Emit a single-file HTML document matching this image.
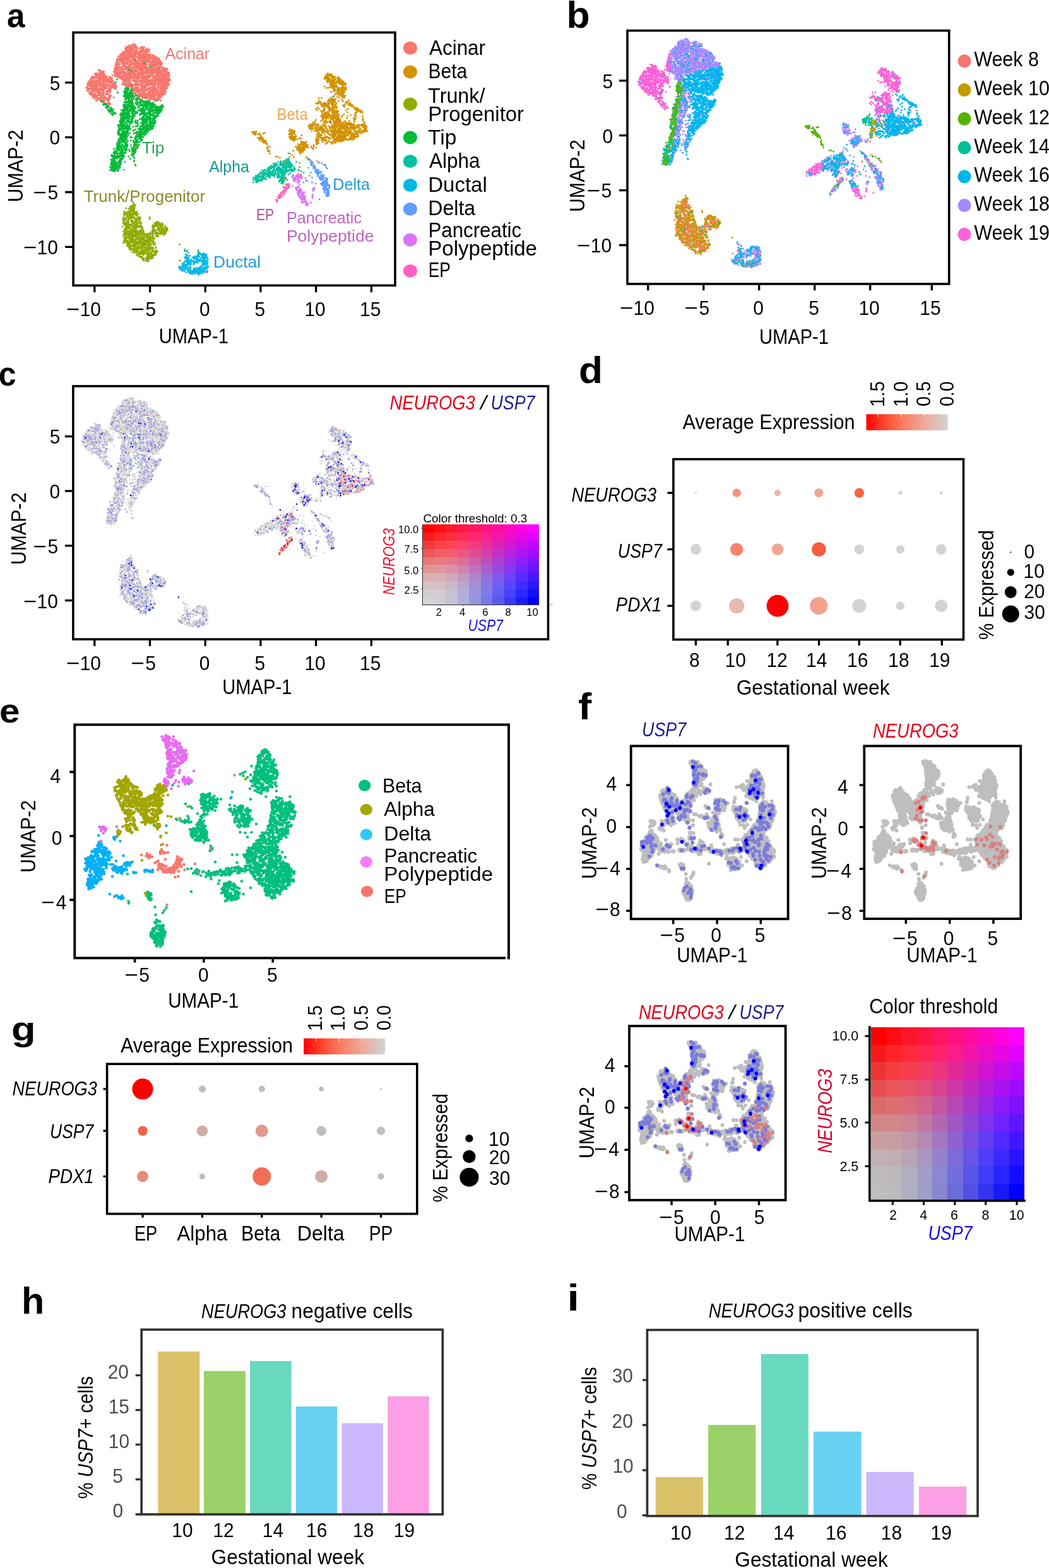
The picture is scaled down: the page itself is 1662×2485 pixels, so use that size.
<!DOCTYPE html>
<html lang="en"><head><meta charset="utf-8"><title>Figure</title>
<style>
html,body{margin:0;padding:0;background:#fff}
svg{display:block}
text{font-family:"Liberation Sans",sans-serif;white-space:pre}
</style></head><body>
<svg width="1662" height="2485" viewBox="0 0 1662 2485">
<rect width="1662" height="2485" fill="#fff"/>
<defs><path id="q0" d="M185 96h0m0-0.5h0m0.5 1.5h0m0.5-4h0m0 4h0m0-1.5h0m0 0h0m0-2h0m-2.5 6h0m1 2h0m0-1.5h0m1-1h0m0 2.5h0m0.5-1h0m0 1h0m0-2.5h0m-3.5 4.5h0m0 0.5h0m2 0.5h0m0.5-1.5h0m0 3h0m1 1.5h0m0-2h0m1-0.5h0m-31 6h0m1.5 0.5h0m1 0.5h0m1 0.5h0m22-4.5h0m0 4h0m0.5-2h0m0 2.5h0m0-5h0m0 0.5h0m0 3.5h0m0.5-2.5h0m0-1.5h0m0.5 1.5h0m0.5-1.5h0m0 3h0m0.5-1h0m0 1.5h0m0.5-0.5h0m0-1h0m0.5-1h0m0.5 2h0m1 0h0m-36.5 6.5h0m1.5-0.5h0m2 0.5h0m0-1h0m3 1h0m0 0.5h0m1.5-3.5h0m0 2.5h0m1.5-2h0m0.5 0.5h0m0 1.5h0m0-3.5h0m0 2h0m0.5-0.5h0m0.5 3h0m0-0.5h0m1-2.5h0m0 0.5h0m1.5-2h0m0 4h0m0.5-2h0m0-1h0m1 0h0m15 0h0m2.5 2h0m0-1h0m0-2h0m0.5 4.5h0m0-3h0m0.5 0h0m0 2.5h0m0.5-3.5h0m0 0h0m0.5 1h0m0.5 1h0m0 1h0m0.5 0h0m0-2h0m0.5-0.5h0m0 1.5h0m0.5 1h0m0 0.5h0m0.5-0.5h0m66.5 0.5h0m-108 5h0m1.5-1h0m2 1h0m0.5 0.5h0m1.5-4.5h0m0.5 4h0m0.5-4h0m0 1.5h0m0 0.5h0m0-2.5h0m0.5 0.5h0m0.5 0h0m0 0h0m0 1h0m0.5 0h0m0.5 2.5h0m0-4h0m0.5 0.5h0m0.5-0.5h0m0.5 1h0m0.5 2.5h0m0-1.5h0m0-1.5h0m1 1h0m0-0.5h0m0 2.5h0m0-1.5h0m0-1.5h0m0 2.5h0m1-2h0m0 2.5h0m0 0.5h0m0 1h0m0-4.5h0m0 2h0m0.5-0.5h0m0.5 1h0m0-3h0m0 5h0m0.5 0h0m1 0h0m0 0h0m0-2h0m0.5-2.5h0m0 1h0m0 2h0m0.5-3h0m1.5 4h0m0-3h0m0.5 1.5h0m1 1.5h0m1-4.5h0m0 4.5h0m0-1h0m1-1h0m2.5 1h0m3.5 0.5h0m2 0.5h0m3.5-3h0m3.5-1h0m0 2.5h0m0.5-2h0m0.5 2.5h0m1.5-0.5h0m0-3h0m1 2.5h0m0-1h0m0.5-1h0m0 2h0m1-1h0m0 3.5h0m0-0.5h0m0.5-1.5h0m66.5-1.5h0m-110.5 7.5h0m1-1h0m0.5-1.5h0m0.5 2h0m0 1.5h0m0.5-4.5h0m0.5 1.5h0m1-1h0m0-1h0m1 0h0m0.5 0.5h0m0 1h0m0.5 2h0m0 1h0m3-3h0m0.5 0h0m0 0h0m1-0.5h0m0.5-0.5h0m0.5 0h0m1 0h0m0.5 3h0m0.5-2h0m0-1h0m0 4.5h0m0-3.5h0m0.5 3.5h0m0.5-1h0m0.5-2.5h0m1.5 0h0m0 1.5h0m0.5-1h0m0 3h0m0 0h0m1-5h0m1.5 3.5h0m0.5-1.5h0m0 2h0m1-2h0m0.5 1h0m1 0.5h0m0.5-1h0m1.5-2.5h0m0.5 4.5h0m0.5-3h0m0-1h0m0.5 0h0m0 0.5h0m0.5 2.5h0m0-1.5h0m0 1.5h0m2 0.5h0m0.5-1h0m0.5 2h0m0-0.5h0m0.5-0.5h0m1-0.5h0m0.5-1.5h0m0-1.5h0m0 0.5h0m0.5 4h0m0-4h0m0.5 2h0m1.5-2.5h0m0.5 2h0m64.5-2h0m15.5 1h0m-118.5 7.5h0m1.5-2.5h0m0.5 3.5h0m0.5-1h0m1.5 0h0m0.5 1h0m0-2.5h0m0 1.5h0m0-3h0m0.5 0h0m0 0h0m0 1h0m0.5 1.5h0m0-3.5h0m0 2h0m0.5 2h0m2-2h0m0 2.5h0m0.5-1h0m0-1h0m0.5-2h0m0.5 3.5h0m0-0.5h0m0.5-2.5h0m0 2h0m0.5 1h0m0.5-3h0m0.5 0h0m1 1.5h0m1-1.5h0m0.5-1h0m0 2h0m0 1h0m0.5 1h0m0.5-1.5h0m0.5-1.5h0m1 0h0m1 1.5h0m0 2.5h0m0.5 0h0m0-2h0m1 1.5h0m1-2.5h0m0 1h0m0.5 0h0m2.5 0.5h0m0.5 0h0m0.5-2.5h0m0.5 0.5h0m0 1.5h0m0.5-0.5h0m0.5 1h0m0-1.5h0m0-1.5h0m0.5 0.5h0m0.5 3.5h0m0.5-4h0m0.5 2.5h0m0 0h0m1-2h0m0.5 0.5h0m2 0.5h0m0 0.5h0m0.5 0.5h0m0-1.5h0m0 2h0m1-0.5h0m0.5-2.5h0m0 1h0m0.5-1.5h0m0.5 3h0m0 0.5h0m0-3h0m0.5 2.5h0m0.5-2h0m0 1.5h0m1 1.5h0m0 1h0m0-5h0m0 4h0m0.5-3.5h0m1 1h0m0 2h0m0-3.5h0m0.5 2h0m1 2.5h0m0.5-4h0m1 4h0m1-1.5h0m0 0.5h0m0 0.5h0m37-0.5h0m6-2.5h0m29 0.5h0m5.5-1h0m-119.5 6.5h0m0.5 0h0m0 1.5h0m0-1.5h0m0.5 0h0m1.5-1.5h0m1.5 0.5h0m0-0.5h0m0.5 1.5h0m1.5 1.5h0m0.5 0.5h0m0-4h0m0.5 3h0m0 1.5h0m0.5-2h0m1 2.5h0m0-0.5h0m1-2h0m1-0.5h0m0.5 0.5h0m0.5 2h0m0.5-3.5h0m0 1.5h0m0.5 0h0m0 1.5h0m0.5 0.5h0m1-3.5h0m0 3.5h0m0.5-1h0m0.5 0h0m0-3.5h0m0 2.5h0m0.5 2h0m0.5-1.5h0m0-2h0m1 2.5h0m0.5-3.5h0m1.5 3h0m0-1h0m0.5 1h0m1.5-0.5h0m0.5-2h0m0 0h0m1 4h0m0 0h0m0.5-1.5h0m0 2h0m0-2.5h0m0.5 1h0m0.5 1.5h0m1-5h0m0.5 3h0m0-2h0m0 0.5h0m0.5 3h0m0-3h0m0 0.5h0m0.5-0.5h0m0.5 0h0m1.5 3h0m0.5-2.5h0m0 2h0m0.5 1h0m0-3h0m1-1h0m1.5 1h0m0 3h0m1-2.5h0m0.5 1h0m0-1.5h0m0.5 0.5h0m0 0.5h0m0 1h0m0.5-0.5h0m0.5 0h0m1-0.5h0m1 1h0m0.5 0h0m0.5 0h0m1-1.5h0m1 0.5h0m0.5-1h0m0 2h0m0-0.5h0m0-1h0m0.5 1.5h0m1-3h0m0.5 3.5h0m1-0.5h0m0.5 0h0m0-1.5h0m0.5 2.5h0m0-4h0m0.5 2.5h0m0-1.5h0m0.5 2h0m44-0.5h0m34.5-3h0m1.5 3h0m-127.5 2.5h0m1.5 1.5h0m1 2.5h0m0-3.5h0m1 1h0m0.5 1.5h0m1 0.5h0m0.5-2h0m1.5-2.5h0m0 2.5h0m0.5 0h0m0-2h0m0 1.5h0m0.5 0h0m0 0h0m0 1h0m0.5-1h0m0 2.5h0m0-4h0m0.5 4h0m0-3h0m1-0.5h0m0 2.5h0m1.5-3h0m0 0.5h0m0 3.5h0m0.5-2.5h0m0-1.5h0m1 0.5h0m0-0.5h0m0.5 3h0m0.5-1h0m0-2h0m0.5 2.5h0m1-0.5h0m0 2h0m0.5-1h0m0 1h0m1-4h0m0.5 2h0m0 1.5h0m1 0h0m1.5-1.5h0m0.5 1h0m0.5-1h0m0.5 0h0m0-1h0m1.5 3h0m0.5 0h0m0 0h0m0-2.5h0m0.5 2.5h0m1-4.5h0m0.5 0.5h0m0-0.5h0m0 1h0m0.5 2h0m1.5 0.5h0m0.5 1h0m0 0h0m0.5-3h0m0.5 2h0m1.5-1.5h0m0 1h0m1.5-0.5h0m3 1h0m0 0h0m0.5-1h0m0.5-0.5h0m0.5 1h0m0.5 1.5h0m2-3.5h0m0 3h0m0.5-2h0m1-1h0m0.5 0h0m0 0.5h0m2 0h0m1 0h0m1 1h0m1-1h0m1 2.5h0m1-3.5h0m-46.5 6h0m3 0.5h0m0.5 1h0m0.5 0h0m0.5 2h0m0-1h0m2 1h0m1-3.5h0m0 1.5h0m0.5-1h0m0 0h0m0 0h0m1.5 0h0m0-0.5h0m1-1h0m0.5 2h0m0-2h0m2.5 1.5h0m0.5-1.5h0m0 1.5h0m0.5-2h0m0.5 0.5h0m0 3h0m0.5-1.5h0m0.5 0.5h0m1-2h0m0 1.5h0m0.5 0.5h0m0 0h0m0.5 2h0m0-1h0m0-0.5h0m0 0h0m0-3h0m1.5 1.5h0m0-0.5h0m0.5 4h0m0.5-2.5h0m0 1.5h0m0.5-3.5h0m0.5 4h0m0.5-4.5h0m1.5 0.5h0m0 0h0m1 4.5h0m0-4h0m0.5 1h0m0 2.5h0m0-3h0m1 3h0m0 0h0m0.5 0.5h0m0-2.5h0m4 0h0m0.5 1h0m0-1.5h0m1.5 2h0m0-2h0m0.5 0.5h0m0 2.5h0m0.5-3.5h0m1-1.5h0m0.5 1h0m0.5 2.5h0m0.5-2h0m0.5-1h0m1 2.5h0m10.5 1h0m36.5-4h0m20 0.5h0m4 1h0m12-1h0m4 3h0m-121 2h0m0.5-0.5h0m0 1h0m1-1h0m1 3.5h0m0-1h0m0-1h0m2-1.5h0m0 0h0m0.5 3h0m0.5-2.5h0m0 2.5h0m0.5-1h0m0-0.5h0m0.5 3.5h0m0.5-1h0m1.5 0.5h0m0-3h0m1-1h0m0 4.5h0m0.5-2h0m1.5 1h0m0 0.5h0m1.5 0h0m0.5-4h0m0.5 2h0m0-1h0m0 0.5h0m0.5-0.5h0m0.5 2.5h0m0.5-0.5h0m0.5-3.5h0m0.5 3.5h0m1.5-0.5h0m0-2.5h0m0 0h0m0.5 4h0m0.5-3h0m0.5 3h0m0-4h0m1.5 4h0m0.5-1h0m0 0.5h0m0.5-3h0m0.5 0.5h0m0 0h0m0 2h0m0.5 0.5h0m0.5-3.5h0m2.5 1.5h0m1 0h0m1 0h0m0.5-1h0m0.5-0.5h0m0-0.5h0m0 2h0m2.5 0.5h0m0.5 1.5h0m0 0h0m0.5-0.5h0m1.5 0.5h0m0.5 0h0m-29.5 2.5h0m1-1.5h0m0.5 2.5h0m2-2h0m0.5 4h0m1.5-2.5h0m0.5 1h0m0.5-1h0m0.5-2h0m0 1h0m0.5 2.5h0m0.5 0h0m0 0h0m1-0.5h0m0.5 0.5h0m0.5 1.5h0m2-1.5h0m0-1.5h0m2.5-2h0m0 3h0m0-0.5h0m1.5 0h0m2 0h0m0 2.5h0m0.5-5h0m0.5 2h0m0-1h0m0-0.5h0m1 2h0m0.5-2h0m0 1.5h0m0 1.5h0m1 0.5h0m1.5 0h0m0.5-1h0m1 1h0m0.5-0.5h0m0-1h0m0.5-1h0m0 3.5h0m0.5-2h0m1 1.5h0m0-2.5h0m0 3h0m0-3.5h0m0.5-1h0m0.5 1.5h0m0-1.5h0m0.5 0h0m5 1.5h0m50-2h0m7 0.5h0m-84.5 7h0m1-1h0m1-1.5h0m2 0.5h0m2-0.5h0m1 1.5h0m0 0h0m1-1.5h0m0 1h0m0.5-1h0m0 1h0m0.5 2.5h0m0-3.5h0m1 2.5h0m0.5 0.5h0m0 1.5h0m2-2.5h0m0 2.5h0m0.5-2.5h0m3-1.5h0m2 2h0m0-1h0m0-0.5h0m1.5 4h0m0.5-3.5h0m1-1.5h0m-7.5 6h0m2 1h0m1 0.5h0m1-0.5h0m0.5-1h0m0.5 1.5h0m0.5 0.5h0m0-0.5h0m0.5 0.5h0m0 0h0m0.5-0.5h0m0.5-2h0m0.5 0.5h0m1 1.5h0m0-1h0"/></defs>
<defs><path id="q1" d="M204.5 72h0m4-0.5h0m1.5 0h0m0.5 0h0m0.5-0.5h0m1-1.5h0m0.5 3h0m0.5-1h0m1.5-0.5h0m-16 6h0m0.5 0h0m1-2.5h0m0.5 2h0m0.5-2h0m0.5-0.5h0m0 2.5h0m0.5 0h0m1-2.5h0m0 0.5h0m1.5 0.5h0m0-0.5h0m0.5 2.5h0m0-2.5h0m0.5-0.5h0m0-1h0m0.5 3h0m0-1h0m0.5-1.5h0m0.5 0.5h0m0 2h0m0.5 0.5h0m0.5-1.5h0m0.5-0.5h0m0.5 2.5h0m0.5-2.5h0m0 1.5h0m0.5 0h0m0.5 1.5h0m1-0.5h0m1-4h0m1 1h0m0 1.5h0m2-0.5h0m0-0.5h0m0 2.5h0m0-3.5h0m0.5 3h0m1-1.5h0m2 2.5h0m2.5-1.5h0m2.5 1h0m0-2h0m1.5-1h0m1 1.5h0m0.5 2h0m1-1.5h0m0.5-1h0m3.5 2h0m-37 5h0m3.5-3h0m0.5 2.5h0m0.5-0.5h0m0.5-0.5h0m0.5 1h0m0-3.5h0m0 0.5h0m1.5 3h0m0.5-1.5h0m0-1.5h0m1 3.5h0m1.5-3.5h0m0 4h0m0.5-2.5h0m0.5-1.5h0m0.5 0.5h0m0-1h0m1 3h0m0-1.5h0m0 2h0m0.5 0.5h0m0.5-2.5h0m0 3h0m1.5-4.5h0m0.5 2h0m0.5-0.5h0m1.5 0.5h0m0.5 1h0m0-0.5h0m0.5 1h0m1-0.5h0m0-2h0m0.5 3h0m0.5-4h0m0.5 2h0m0.5 1.5h0m0-1.5h0m2 2h0m3.5 0h0m0.5-1h0m1.5-3h0m0 1h0m0.5 2.5h0m1.5-2h0m0-0.5h0m0 3.5h0m0.5-4h0m0.5 1.5h0m0.5-1h0m0.5 0.5h0m0 0h0m1.5 0.5h0m0.5 1h0m1.5-3h0m1 4h0m0.5-1.5h0m0-1.5h0m0.5 2h0m1-0.5h0m0-1.5h0m0.5-0.5h0m1.5 0h0m0 3.5h0m-46.5 5.5h0m0.5-0.5h0m1-1h0m0.5 1h0m1.5 0h0m0-2.5h0m1 2.5h0m1-1.5h0m0 1.5h0m0-2h0m0.5-2h0m1 3h0m0.5-3h0m0.5 0h0m0.5 2h0m0 0.5h0m0 0h0m0.5-1h0m0.5-0.5h0m0.5-1h0m1 0h0m0.5 1.5h0m0-0.5h0m0.5 1h0m0 2h0m1-4h0m0 1h0m0.5 0h0m0 1h0m1 1h0m0.5-1.5h0m0.5 0.5h0m0.5 0.5h0m1-2.5h0m0.5 0.5h0m0.5 2.5h0m0.5 0h0m0.5-2h0m0.5 3.5h0m0-4.5h0m0.5 2h0m0 1.5h0m0.5-2h0m0 0.5h0m0.5 1h0m0-2h0m1.5 2h0m0-1h0m1-1h0m0 0h0m0 1h0m0.5 1.5h0m1.5-1.5h0m0-2.5h0m0 1.5h0m0.5-0.5h0m1.5-0.5h0m0 0.5h0m0.5 1.5h0m1.5-1h0m0 3h0m0.5-1h0m0-1.5h0m0 3h0m0.5-4h0m0.5 3.5h0m0-3h0m0-1h0m0.5 3h0m0.5-3h0m0 4.5h0m0-0.5h0m0-3.5h0m0.5 2h0m0-1.5h0m1-1.5h0m0 0.5h0m1.5 3.5h0m1 0h0m1-3.5h0m0 2.5h0m0.5 0.5h0m0 1h0m0.5-3.5h0m0 2h0m0-1.5h0m0 2.5h0m0.5-3.5h0m0 4h0m0-3.5h0m1-0.5h0m0-0.5h0m1 0.5h0m0 0.5h0m0.5 3.5h0m0-3h0m1 0.5h0m0.5 2h0m0-3h0m0.5 3.5h0m1 0.5h0m0.5-1.5h0m2.5 0.5h0m1-0.5h0m3 1h0m-54 2.5h0m2.5 2h0m0-1.5h0m0.5-1h0m0 1h0m0 2h0m0-1.5h0m0.5 1.5h0m0.5-1h0m0.5 0h0m0.5 0h0m0 0.5h0m1-4h0m0 3.5h0m1-2.5h0m0 3h0m0.5-2.5h0m0 0.5h0m0.5 2.5h0m0-1.5h0m1 2h0m1.5-2.5h0m0-1h0m0.5-0.5h0m0 0h0m1 2h0m0.5 1.5h0m0-3.5h0m0.5 1.5h0m0-1h0m0 3h0m0.5-0.5h0m0-3h0m0 3.5h0m0-1.5h0m1 0.5h0m0-0.5h0m1.5 0h0m0 1.5h0m0-4.5h0m1 1.5h0m0 2h0m0.5 1h0m0-3h0m0.5 0.5h0m0-1h0m1 3.5h0m0-4h0m0.5 3h0m0.5 1h0m0-1h0m0.5-2h0m1-1h0m0 0.5h0m0 1h0m0.5 1.5h0m0.5 0.5h0m0-3.5h0m1 1.5h0m0 2h0m0 0h0m0.5-0.5h0m0-1h0m0.5 1h0m0.5-2.5h0m0 0.5h0m0.5 3h0m0-4h0m0.5 3h0m0 1h0m1-1.5h0m1-1.5h0m0.5-1h0m1.5 2.5h0m0.5 1h0m0.5-0.5h0m1-1.5h0m0 1h0m1-3h0m0.5 5h0m0.5-0.5h0m0-0.5h0m0.5-4h0m0.5 3h0m0-2.5h0m0 4.5h0m0.5-3.5h0m0 3.5h0m0-2h0m0 0.5h0m0.5-1.5h0m0 1.5h0m1-0.5h0m1-2h0m0 3.5h0m0-0.5h0m2-1h0m0 0.5h0m0-2h0m0.5 3h0m0-2h0m0 0.5h0m0-1h0m0.5 0h0m1.5-0.5h0m0 2h0m0.5 1h0m1-0.5h0m0-0.5h0m0-1.5h0m1 2.5h0m0-2h0m0.5 1.5h0m0-1.5h0m0.5 2h0m2-1h0m0-2.5h0m0 1h0m1.5 2h0m0.5-4h0m0.5 0.5h0m0.5 2.5h0m0 1h0m1-2.5h0m0.5 0.5h0m0 2h0m0.5-0.5h0m1 0h0m1 1h0m0.5-3.5h0m1 2.5h0m0.5-2.5h0m0.5 0h0m0.5 3h0m0-1.5h0m0 0h0m0 0.5h0m0 2h0m1.5 0h0m0.5-1h0m0.5 0.5h0m0.5-1.5h0m3 1.5h0m0 0.5h0m-62.5 1.5h0m0 0h0m0-0.5h0m0.5 0h0m0 3h0m0.5 1h0m0.5-0.5h0m0.5-3h0m0 1.5h0m0.5-2.5h0m0.5 4.5h0m0-3h0m0 3h0m0.5-3h0m0.5-0.5h0m0.5 0h0m0.5-0.5h0m0 2h0m0-2h0m0.5 4h0m0-3.5h0m0 3h0m0.5-3h0m0-0.5h0m0 1h0m0.5 2h0m0.5-4h0m0 0.5h0m0-0.5h0m0 2.5h0m0.5 1.5h0m0-3.5h0m0.5 1h0m0-0.5h0m0.5 2h0m0-3h0m0.5 2h0m0.5-1h0m0 1.5h0m1 0.5h0m1-2h0m1 1h0m0-1h0m0.5-0.5h0m0.5 1.5h0m0-0.5h0m0.5-1.5h0m0.5 0.5h0m0.5 4h0m0-4h0m0 1h0m0-0.5h0m0.5 1h0m0 0.5h0m0.5-2h0m0 1.5h0m0-1.5h0m0 0.5h0m0.5 0h0m0.5 3.5h0m2.5-1h0m0 1.5h0m0.5-0.5h0m1.5-2.5h0m0-0.5h0m0 1.5h0m0.5-1.5h0m1-0.5h0m1 2.5h0m0.5-0.5h0m0-2.5h0m0.5 4h0m0-2h0m0.5-2.5h0m2.5 4.5h0m1.5 0h0m0.5-1h0m0.5-0.5h0m0.5 0.5h0m0-3.5h0m1.5 2.5h0m0.5 0.5h0m1-1h0m2 0.5h0m0.5 1h0m0-1h0m0.5 0h0m0.5-2h0m0 2h0m0.5-1.5h0m0 0h0m0.5 3h0m0.5 0h0m0.5-3h0m0 1.5h0m0.5 2.5h0m1-0.5h0m0-2.5h0m0.5 0h0m1.5 3h0m0-2h0m1-0.5h0m0.5 1.5h0m0 0.5h0m0.5-3h0m0-0.5h0m0.5 0.5h0m0 1.5h0m0-1h0m0.5-0.5h0m1 0.5h0m0 1.5h0m1 1h0m0 0.5h0m0.5-1h0m0.5-2.5h0m0 3h0m0 0h0m0-3.5h0m0.5 4h0m0.5 0h0m0-0.5h0m0 0.5h0m2-4.5h0m0.5 1h0m0 0.5h0m0.5 2h0m0-3h0m0.5 0h0m1 3.5h0m0-4h0m0 4h0m0.5-3h0m0-1h0m1 3h0m0.5-2.5h0m0 2h0m0.5 1.5h0m0.5-3h0m0-1h0m0.5 1h0m1.5-1h0m0 3.5h0m2-2h0m0 1.5h0m1-0.5h0m0.5-2.5h0m0 0.5h0m1.5 1.5h0m0.5 1h0m-65.5 5h0m0.5-1h0m0 1h0m0.5 1h0m1 0.5h0m2.5-2h0m0.5-2h0m1.5 3h0m0.5 0.5h0m0.5-2h0m0-1.5h0m0.5 3.5h0m0-2h0m0-1h0m0.5-1.5h0m1 2h0m0-0.5h0m0.5-1h0m0 3h0m0.5-0.5h0m0 1h0m0.5 0h0m0.5-0.5h0m0.5 0h0m0.5-2.5h0m0 2h0m1-0.5h0m0-2h0m0.5-0.5h0m0 4h0m1-2h0m0.5-0.5h0m2 3h0m1.5 0h0m0-3h0m0 0.5h0m0.5 2h0m1 1h0m0-2h0m0 1.5h0m1.5-1h0m0 1h0m1-3h0m0.5-0.5h0m0 1.5h0m0 1.5h0m2-0.5h0m0-0.5h0m0.5-2.5h0m0 2h0m0 0h0m0.5-2h0m1 2h0m0.5-2h0m0.5 3h0m0.5 0h0m0 1h0m0-2.5h0m1 2h0m0.5-1.5h0m0.5 1.5h0m0-1h0m0-1h0m0 1.5h0m2-2h0m0 1.5h0m0.5-1h0m0.5 0h0m0 1.5h0m0-2h0m0.5 1.5h0m1-2.5h0m1 3h0m0.5 0h0m1-1.5h0m0.5-1.5h0m0.5 3.5h0m0 0h0m0-2h0m1.5 3h0m0-0.5h0m0.5-2h0m1-1h0m0 3.5h0m1.5-3h0m0 2.5h0m1-3.5h0m1.5-1h0m1 2h0m3 2.5h0m0 0.5h0m0-0.5h0m0.5-3.5h0m0 3.5h0m1-2.5h0m0.5 2h0m0-3h0m1 0h0m1 0.5h0m1 0h0m0 3h0m0 0h0m0-3h0m1.5 1.5h0m0.5-2.5h0m0 3h0m0.5 1h0m0.5-1h0m0.5-1h0m0-1h0m0.5 1h0m0 0h0m1-0.5h0m0 1h0m0.5 1.5h0m0.5-3h0m0-1h0m0 1h0m1 2.5h0m0 0.5h0m0-0.5h0m0-3h0m1 3.5h0m0-2.5h0m1-1.5h0m0 0.5h0m0.5-0.5h0m0 3h0m0.5-1.5h0m1-0.5h0m0 1h0m0.5-2h0m1.5 3.5h0m0-2.5h0m0.5 2h0m0-1h0m-69 3.5h0m0 2h0m1 1h0m0.5 1h0m1-1h0m2 0.5h0m1.5-2h0m0.5 2h0m0 0.5h0m2-4h0m0-0.5h0m0.5 0.5h0m0 1.5h0m1-2h0m0.5 1h0m0 3h0m1-0.5h0m0-0.5h0m0-1h0m1 1.5h0m0.5 0.5h0m1.5 0.5h0m0.5-2.5h0m1 2.5h0m0.5-3h0m0.5-1.5h0m0.5 0.5h0m0 2.5h0m0.5 1h0m0-1.5h0m0 0.5h0m0-3.5h0m1 1.5h0m0.5 2.5h0m1-3h0m0.5 3.5h0m0-4.5h0m2 4h0m0-0.5h0m0.5 0.5h0m1-0.5h0m1-3h0m0.5-0.5h0m0.5 3.5h0m0.5-3.5h0m0 3h0m0.5 1.5h0m0.5-1.5h0m0.5-1h0m0 2h0m0.5 0.5h0m0.5-0.5h0m0.5-2.5h0m0 1h0m0.5-2h0m0 0h0m0.5 1h0m0-0.5h0m0.5 2.5h0m0 1.5h0m0.5-2h0m0-2.5h0m1.5-0.5h0m0.5 4h0m0.5-4h0m0.5 2h0m0-1h0m1.5 4h0m0-2.5h0m0.5-1.5h0m0.5 2h0m0-2.5h0m0.5 0.5h0m0 0.5h0m0 2.5h0m0.5-2h0m0 0.5h0m1.5-0.5h0m0 2.5h0m0-4.5h0m0.5 5h0m1-4.5h0m0 0.5h0m0-0.5h0m0.5 4h0m0-2h0m0.5 1.5h0m0-3.5h0m0 4.5h0m0.5-4.5h0m0 3.5h0m0 0h0m1 0h0m1-0.5h0m0 0.5h0m1-3.5h0m1 4.5h0m2-5h0m0.5 3h0m0 0.5h0m0-0.5h0m1-1.5h0m0.5 2.5h0m0-1h0m0.5-0.5h0m0-0.5h0m1 2h0m0.5-3h0m0.5 1h0m0 2.5h0m0.5-1.5h0m0 2h0m0.5-4.5h0m0.5 1.5h0m0 2h0m0-1.5h0m0.5 0.5h0m0 0h0m0-1.5h0m0.5 1.5h0m1-2h0m1-0.5h0m0 1.5h0m0.5 2.5h0m0.5-3.5h0m2.5 3.5h0m0-2.5h0m0 1h0m0.5 0.5h0m0-0.5h0m0.5 1.5h0m1.5-0.5h0m1.5 0.5h0m0.5-2h0m0.5 1.5h0m0-3h0m0.5-1h0m0.5 1.5h0m1-1.5h0m2.5 4.5h0m-71 2h0m1 3h0m0.5-4h0m1 3.5h0m0.5-4h0m0.5 4.5h0m1.5-3h0m0 0.5h0m1 0.5h0m0.5-1h0m1 1h0m0.5 2h0m2.5-2h0m0.5-1.5h0m0.5 1h0m1.5 1h0m0-2.5h0m0 1h0m0.5 1h0m0 0h0m0 0h0m0.5-2h0m0.5 0h0m0.5 4.5h0m0.5-3.5h0m1 0.5h0m0 1.5h0m0-2.5h0m0.5-0.5h0m0.5 3h0m1 0.5h0m0.5-1h0m0.5 2h0m0-2.5h0m0.5-0.5h0m0 2.5h0m0.5-4.5h0m1.5 1h0m0.5-0.5h0m0.5-0.5h0m0.5 1h0m0.5-0.5h0m0.5 4h0m0.5 0.5h0m0-3h0m0 0.5h0m0.5 1.5h0m0.5 0.5h0m1-2.5h0m0 1h0m0 0h0m0 0.5h0m0.5 1h0m0-2.5h0m0 1h0m0 2h0m0.5-3.5h0m1-1h0m0.5 1h0m0.5 0h0m0-1.5h0m1.5 0.5h0m0.5 3.5h0m0 0.5h0m0.5-4h0m0 0h0m0.5 3.5h0m0-3h0m1 1.5h0m0 1h0m0.5 0h0m0.5-3h0m1 2h0m0-2h0m0 2.5h0m0.5-2h0m0 3h0m0-1.5h0m0.5 0.5h0m1.5-2h0m0 2h0m1 0.5h0m0.5-2h0m0.5 3.5h0m0.5-4.5h0m1.5 0h0m0.5 2h0m1 1.5h0m0-2h0m0.5 2.5h0m0-4h0m0.5 0h0m0.5 3.5h0m0-3h0m0.5 1h0m0 2.5h0m0-3h0m0 0h0m0.5 1.5h0m1-1h0m0.5-0.5h0m1 3.5h0m1-2.5h0m0 1.5h0m1.5-3h0m0 0.5h0m0 3h0m0.5-1.5h0m0.5-2.5h0m0 1h0m0 1.5h0m1 0.5h0m0-1.5h0m0.5 1.5h0m0 1h0m1-3h0m0 3h0m0.5-2h0m0 1.5h0m0-3h0m0 3h0m0-3h0m0 2.5h0m0.5 1h0m0-2.5h0m0.5 1h0m0 1.5h0m0.5-0.5h0m1.5-1.5h0m0.5 0h0m1 0.5h0m0.5-0.5h0m0.5 0.5h0m0 0.5h0m0-1.5h0m0.5-1h0m0 1.5h0m0.5 2.5h0m0-4.5h0m0.5 0.5h0m0 1.5h0m1 2h0m1-3.5h0m0 1h0m0-1.5h0m0 1h0m0.5-1.5h0m0 4h0m0.5-0.5h0m0 1h0m0.5-1.5h0m0.5 2h0m0-0.5h0m0.5 0h0m1 0h0m0-4.5h0m1 0.5h0m0 0h0m0.5 1h0m0.5 2.5h0m0-1h0m0.5 0h0m0.5-1.5h0m0.5 0h0m1-0.5h0m0 0.5h0m0.5 2.5h0m0.5 0h0m1-2.5h0m1 1h0m0 0.5h0m0.5-2h0m0 0h0m0.5 3.5h0m0.5-2h0m0 1h0m0-1.5h0m-77 6h0m0.5-1.5h0m0 1h0m0.5 0.5h0m0.5-1.5h0m0 2h0m0.5-1.5h0m0.5 1h0m0.5 0h0m0.5 1h0m0-1h0m0-1.5h0m0 3.5h0m0 0h0m0.5-1h0m0-1.5h0m0.5-2h0m0 1.5h0m1 1h0m0-0.5h0m0.5-1h0m0 1h0m1-0.5h0m0.5 2h0m1.5-2.5h0m1 1.5h0m0.5 1h0m1.5 0h0m0-2.5h0m2.5 2h0m0.5-2.5h0m0.5 0.5h0m1.5 2.5h0m0.5-2.5h0m0.5 3h0m0-1h0m0 1h0m0-4.5h0m0.5 3h0m0.5 0h0m1 1h0m1-2h0m0-2h0m0.5 4h0m0-2.5h0m0-0.5h0m1 2h0m0.5-1.5h0m0 1h0m1 1h0m0 0.5h0m0-3.5h0m0 3.5h0m0.5-0.5h0m0.5-3h0m0.5 2.5h0m0.5-0.5h0m0.5 1.5h0m0.5-3h0m3 0.5h0m0 0h0m0 2h0m0.5-1.5h0m0 2h0m1-0.5h0m0.5 1h0m0-1.5h0m0.5 0h0m0 0h0m1.5 1.5h0m0.5-0.5h0m0-1h0m1-2h0m0 3h0m0-3h0m0.5 0h0m0.5 2.5h0m0 0.5h0m0.5-2.5h0m0 2h0m0-1h0m0.5 1h0m0-0.5h0m0 1h0m0.5-1.5h0m0.5 2h0m0-0.5h0m0.5-2h0m0-2h0m0 4h0m0.5-1h0m0-2h0m0.5 2h0m0 1.5h0m0-3h0m1 0h0m0-1.5h0m0.5 2.5h0m0-1.5h0m0.5-0.5h0m0.5 3h0m0.5 0h0m0.5 0.5h0m1 0.5h0m0-1h0m0-3.5h0m0.5 2h0m0.5 3h0m0.5-2.5h0m0 2h0m0-2h0m0.5 0h0m0 2h0m0.5-1.5h0m1-2.5h0m0-0.5h0m0.5 2.5h0m0.5-0.5h0m1 1h0m0 1.5h0m1 0.5h0m0.5-0.5h0m0.5 0.5h0m0-0.5h0m0.5-3h0m0.5 0.5h0m0 2h0m2 0.5h0m0-2.5h0m1 0.5h0m0 1.5h0m0.5-1.5h0m0 0.5h0m0.5 0.5h0m0-0.5h0m0-1.5h0m0.5 0.5h0m0 1h0m1-1h0m0 1h0m1-2.5h0m0 0h0m0 0h0m0.5 2.5h0m1-2h0m0.5 2h0m0 2h0m0.5-3h0m0-1.5h0m0.5 1.5h0m2 2h0m0.5 1h0m0.5-4.5h0m0.5 0h0m1 2h0m0.5-2.5h0m1 2.5h0m2-0.5h0m1-1h0m0.5 0.5h0m1-1h0m0 0h0m0.5 1h0m1.5-1h0m1 0h0m4 2h0m-80.5 5h0m0.5 0.5h0m0.5-1h0m0.5-0.5h0m0 0h0m0 1.5h0m0.5-1.5h0m0 0.5h0m0 2h0m1-2h0m0-2h0m1 3.5h0m1 1.5h0m1.5-1h0m0.5-3h0m0.5 3.5h0m0.5-3.5h0m0-0.5h0m0.5 2.5h0m0.5-2h0m0.5 1h0m0.5 2h0m0.5-2h0m1 2.5h0m0.5-1h0m1-3.5h0m0 1h0m1.5 2.5h0m0.5-3h0m0 4.5h0m0.5-4h0m0.5 3h0m0.5-3.5h0m0.5 2.5h0m0.5 0.5h0m0.5-1h0m0-2.5h0m0.5 3.5h0m0 1.5h0m0.5-3.5h0m0 3h0m0.5-2.5h0m0-1.5h0m0.5 3.5h0m0.5-2.5h0m0 3h0m0-1h0m0-2h0m0.5 0.5h0m2.5 0.5h0m0 0h0m1-2h0m0.5 3.5h0m0-1.5h0m0.5-1.5h0m0-0.5h0m0-0.5h0m0.5 4h0m1-2h0m0.5 1.5h0m0-1h0m0 1h0m0.5-1h0m0 2h0m0.5-2.5h0m0-1h0m0.5 1h0m0.5 0.5h0m0 0.5h0m1 1h0m1-3h0m0 3h0m0 0h0m0.5-1h0m1 1.5h0m0.5-1h0m0.5-3h0m0-0.5h0m0.5 2h0m0-2h0m0.5 5h0m0-4.5h0m0 0.5h0m0 0h0m2.5 3h0m0.5-2.5h0m0.5 0h0m0.5 0h0m0 3h0m0-1.5h0m0.5 0h0m0-3h0m0 2.5h0m1-0.5h0m0 2h0m0.5 1h0m1-2.5h0m0 1.5h0m2.5-1.5h0m0.5 1h0m0.5-1.5h0m1 0h0m1 1.5h0m1-0.5h0m1.5-1.5h0m0.5 3h0m0.5-3.5h0m1 0h0m0.5 1.5h0m1.5-0.5h0m0.5-1h0m0-1h0m0 0.5h0m5 3h0m0 0h0m1.5-3h0m0 4.5h0m1-5h0m0.5 0h0m1 0.5h0m1.5 3.5h0m7-2.5h0m1.5 0.5h0m5.5-1.5h0m1.5 3.5h0m-78.5 2h0m1 0.5h0m0-1h0m0 0h0m0 1h0m0-1.5h0m1.5 2h0m1.5-2h0m0 1.5h0m0.5 2h0m0-3.5h0m1 1h0m0.5 2h0m0-1h0m0 2h0m0.5-3.5h0m0 4h0m1.5-0.5h0m1.5-1.5h0m0.5-1.5h0m0-0.5h0m1 2.5h0m0 1.5h0m0.5-3.5h0m0.5 0.5h0m0-1h0m0 3h0m0.5 1.5h0m0.5-3h0m0.5-0.5h0m1 0h0m0 2.5h0m0.5 0h0m0.5 0h0m0.5-3h0m2 1.5h0m1-2h0m0 2h0m0.5-1.5h0m1.5-0.5h0m0.5-0.5h0m1 4.5h0m0-1h0m0.5 1h0m0-3h0m0.5 0.5h0m0.5-1h0m0 0.5h0m1 0.5h0m1-1h0m1 0.5h0m0.5-1h0m0 0.5h0m0.5-0.5h0m0 2h0m0-2.5h0m0 1.5h0m1-1h0m0.5 1.5h0m0.5-1.5h0m0 2.5h0m0-2.5h0m2 0h0m2.5 0h0m0.5 0.5h0m0-1h0m1.5 4h0m1-3.5h0m0.5 0.5h0m2.5 0h0m0 0.5h0m6.5-1h0m3 3.5h0m13.5 0h0m3 0.5h0m0-4.5h0m0.5 4h0m2.5-1h0m1-3h0m0.5 4h0m0-1.5h0m1.5-1h0m0.5 0h0m2-1.5h0m2.5 5h0m-72 2.5h0m2 0h0m0 1.5h0m1.5-1h0m0 1.5h0m0-3.5h0m0.5 3.5h0m0-4h0m1 1h0m1 3.5h0m0-4h0m2 3h0m0.5-2h0m0 3h0m1-4h0m0 2.5h0m2-0.5h0m0-2h0m0 4h0m0.5-3.5h0m7 1h0m0-2.5h0m1.5 2.5h0m1-0.5h0m4.5-1h0m3 0h0m1.5-0.5h0m1 4.5h0m2.5-2.5h0m1.5-0.5h0m4-0.5h0m2 3h0m1-0.5h0m3 0.5h0m3.5-2h0m2 0.5h0m4-3h0m2 0.5h0m0.5 4h0m2-1.5h0m2-1h0m1.5 1.5h0m1.5-0.5h0m2-2.5h0m2.5 3h0m1-3.5h0m1 2h0m-72 4h0m2.5 0.5h0m1-1h0m0 0.5h0m0.5 1h0m0.5-2h0m0 1.5h0m1 1.5h0m0-2.5h0m0 1h0m0.5-0.5h0m0.5 4h0m1-1h0m0.5-0.5h0m0.5 0.5h0m0.5-3h0m0 2.5h0m0 0.5h0m0.5 0.5h0m0.5-3h0m1 0.5h0m0 2.5h0m0.5-1.5h0m0-0.5h0m0 1h0m0-1.5h0m0.5 1.5h0m0-1.5h0m0 2h0m0.5-1.5h0m1-0.5h0m0-0.5h0m4 1.5h0m4.5-1h0m3 0.5h0m7.5 1.5h0m0 0h0m6-2.5h0m0.5 1.5h0m0-2h0m3.5 1.5h0m2.5-1.5h0m4.5-0.5h0m0 1h0m2 0h0m1.5 1h0m3.5-2.5h0m3.5 1.5h0m5.5 1.5h0m4.5-2.5h0m3 0.5h0m0 1.5h0m-65.5 4h0m1.5-1h0m0.5 0h0m0.5 0h0m0 2h0m0.5 0h0m4-1.5h0m0 1h0m7.5-0.5h0m0.5-1h0m0.5 1.5h0m3 0h0m3.5 1.5h0m0 1h0m1-4h0m2 1.5h0m3 2.5h0m0-4h0m0 4h0m13.5-1.5h0m1 1.5h0m2-4.5h0m0.5 2.5h0m1 1h0m6.5 0h0m1-3.5h0m2 4.5h0m5 0.5h0m0-1h0m-53 3h0m1.5 0.5h0m1.5-1h0m6.5 0h0m0.5 0.5h0m0 0.5h0m1.5 0.5h0m1.5-1.5h0m7 2h0m9.5-3h0m4 1.5h0m1 2h0m1-3h0m2.5-0.5h0m2.5 4h0m0.5 0.5h0m5.5-3.5h0m0.5 1.5h0m-36 3.5h0m2 1.5h0m4-2.5h0m0 1.5h0m2.5 2h0m1.5-2h0m1.5 3h0m4-2.5h0m0-1h0m11 1.5h0m4-1.5h0m0.5 0h0m0.5 3h0m1.5-1h0m-26 3.5h0m9 1h0m2.5-3h0m0.5 0h0m2 3.5h0m4.5-1h0m4.5-1.5h0m1 4h0m1 0.5h0"/></defs>
<defs><path id="q2" d="M206.5 80.5h0m15.5 0.5h0m2-3h0m3 4h0m6 0h0m3 0h0m-37.5 4h0m20.5 0.5h0m4-0.5h0m-29 5.5h0m34.5-1h0m-23.5 6h0m4.5-2h0m3 0h0m17 1.5h0m13-1.5h0m2.5 2h0m4.5-3.5h0m0.5 1h0m-54.5 8h0m20.5-4h0m10.5 4h0m0.5 0.5h0m-40 4h0m1.5 1h0m11-2h0m12 0.5h0m27-2.5h0m9.5 1h0m5-1h0m-58.5 9h0m7-3.5h0m7 2.5h0m5.5 0.5h0m2-3h0m31.5 0.5h0m17.5 0h0m-58.5 4h0m6 3.5h0m4-4.5h0m35.5 5h0m0-2h0m1 1.5h0m3 0.5h0m0 0h0m2.5 0h0m3-2h0m1 2h0m0-0.5h0m2-2h0m0 0h0m0.5-0.5h0m0.5 0h0m0 2h0m1-0.5h0m0.5 0h0m0-1h0m0.5 2h0m-81.5 4.5h0m30.5-3.5h0m14.5 3.5h0m1.5 0.5h0m1 0.5h0m4-0.5h0m1-1.5h0m4.5 0h0m1 0h0m0-0.5h0m0 1.5h0m1 0.5h0m0.5 0.5h0m1-3h0m1.5 1.5h0m0-1.5h0m0.5 0h0m0.5 2h0m0.5-1.5h0m0.5-2h0m0 3.5h0m0.5-0.5h0m0 0.5h0m0-2.5h0m0 2.5h0m1.5-4h0m1 3h0m0.5 0h0m0.5-1.5h0m0 0h0m0.5 0.5h0m0 1.5h0m0.5-2.5h0m0.5 3h0m1-1h0m0.5-1h0m0 0h0m2 2.5h0m0-2h0m0.5 1h0m0.5 0h0m0-1h0m0 0h0m0.5 1h0m0-2.5h0m0.5 0.5h0m1.5 2h0m0.5-2.5h0m0.5 2.5h0m1 0h0m0-1.5h0m0.5-1.5h0m0 4h0m1-3.5h0m1-0.5h0m1 1.5h0m0.5-0.5h0m-69 7h0m12-3.5h0m6.5 4h0m4 0.5h0m0.5-0.5h0m3.5-2.5h0m0.5 1.5h0m0-0.5h0m0.5-1.5h0m0 0h0m1 3.5h0m2-2h0m0 0.5h0m0.5-2.5h0m1-0.5h0m0 4h0m0.5-1.5h0m1-0.5h0m0.5 3h0m0-4h0m0-1h0m0 1h0m1 1h0m0.5 2h0m1-3h0m2 3.5h0m0.5 0h0m0.5 0h0m1.5 0h0m0.5-0.5h0m0.5-2.5h0m1 3h0m0.5-4.5h0m1 5h0m1-3h0m0.5 2h0m0.5-3h0m1 0.5h0m0.5 0.5h0m0.5 2h0m0.5-0.5h0m2-0.5h0m0-0.5h0m0.5 1h0m1-2.5h0m1 0.5h0m1.5 3h0m0-2h0m0.5 2.5h0m0-0.5h0m1.5-4h0m1.5 2h0m0 2h0m1-2h0m0-2h0m0 0.5h0m0-0.5h0m0.5 0.5h0m0 0.5h0m0.5 2.5h0m0.5-2.5h0m0.5 0.5h0m0-1.5h0m0.5 2.5h0m0.5 0h0m0.5 2h0m0-1h0m0.5-1.5h0m2 0.5h0m0.5-0.5h0m0 1.5h0m0 0h0m0.5 0.5h0m1.5-2.5h0m0 3h0m0.5-2.5h0m0-1.5h0m1 2.5h0m1 0.5h0m0 0h0m-91 2h0m25 1h0m6-1.5h0m3 1h0m1-0.5h0m0 0.5h0m0.5 0h0m1 3.5h0m0-2h0m0.5 2h0m0-2.5h0m1-2h0m0.5 3h0m0-2.5h0m0 2.5h0m2.5-3h0m0 4.5h0m0.5-4h0m2 1.5h0m0-1.5h0m0.5 3h0m0-3h0m0 0.5h0m1 1.5h0m0 2h0m0-3h0m0.5 1.5h0m1 0h0m0.5-2.5h0m0 0h0m2 1h0m0.5 1.5h0m0.5-0.5h0m0.5-1.5h0m2.5 1h0m0-2.5h0m0 1h0m0.5 1.5h0m1.5 1.5h0m0.5-4h0m0 2h0m1 0.5h0m0 1.5h0m0.5-3h0m0-0.5h0m0.5 3.5h0m0 0.5h0m1-3h0m1 1h0m0-2h0m0 1.5h0m0.5 3h0m0.5-0.5h0m0.5-0.5h0m0.5-3.5h0m0.5 0.5h0m0.5 2.5h0m0.5 0h0m2-2.5h0m1-0.5h0m0.5 3h0m0-1.5h0m0.5-1.5h0m0 2h0m0.5-0.5h0m0-1h0m0.5 1h0m0-2h0m0.5 0.5h0m0.5 0.5h0m2 1.5h0m0 0h0m0.5-2h0m0.5 2.5h0m0 1.5h0m1 0h0m0-3h0m0 3h0m1 0h0m1-4h0m0 3.5h0m0.5-3h0m1 2h0m0.5-2h0m0 4h0m1-3h0m0.5 1.5h0m0.5 0h0m1.5 0h0m0-1h0m1 1h0m0.5-0.5h0m0.5 0h0m0.5-3h0m0.5 3h0m0.5-2h0m0 3h0m0.5-3.5h0m0.5 2.5h0m0 1.5h0m0-0.5h0m1.5-2h0m0.5 1.5h0m0 0.5h0m0-4h0m0.5 3h0m0-3h0m3 0h0m-128 8.5h0m60.5-1h0m5.5-2h0m0-0.5h0m0.5 4h0m0-2h0m1 2.5h0m0-0.5h0m0.5-1h0m1-1.5h0m0 3.5h0m0.5-4h0m1 1.5h0m2-1h0m0.5 1.5h0m0.5-1.5h0m0 2h0m0 0h0m0-0.5h0m0.5-0.5h0m0.5-0.5h0m0 0.5h0m0.5-2h0m0 2h0m1.5 0h0m0.5-1.5h0m1.5 1h0m1.5 0.5h0m0.5 0h0m1-2h0m0.5 1.5h0m1 0h0m0.5 2h0m0-0.5h0m0-2.5h0m1.5 4h0m0-1h0m0.5 0.5h0m0-4.5h0m1.5 3h0m2 0.5h0m0-2.5h0m0 1.5h0m0.5 1h0m0-0.5h0m0-2h0m0.5 3.5h0m0-3.5h0m0.5-1h0m2.5 1h0m0.5 2h0m0.5-2.5h0m1.5-0.5h0m0.5 1h0m1 0h0m0.5 1h0m2-0.5h0m0 0.5h0m0.5-1.5h0m0.5 2.5h0m1 0h0m1 0h0m1 0h0m0.5-0.5h0m0.5-0.5h0m0.5 0h0m0-1h0m0.5-1h0m0.5 1.5h0m2 3.5h0m0.5-5h0m0 4h0m0.5-3h0m0.5 3h0m0 0h0m0.5-1h0m2.5 1.5h0m1.5-1h0m0 0.5h0m0.5-1h0m0-0.5h0m1 1.5h0m1-3h0m0.5 2.5h0m0-1h0m0.5 1h0m0.5 0.5h0m1-2h0m1 1.5h0m0-3h0m0 1h0m2 0h0m0 1h0m0-1h0m0.5-0.5h0m0 0h0m1.5 2.5h0m0 0h0m0.5-0.5h0m0.5-1.5h0m0.5 1h0m0-1.5h0m1-0.5h0m-60.5 5h0m0.5 1h0m0.5-1h0m0 2h0m0-0.5h0m1 0.5h0m1-0.5h0m1 0.5h0m1.5 0h0m1.5-0.5h0m0 2h0m0.5-2.5h0m0-0.5h0m0.5 0h0m0 1h0m0.5 0.5h0m0-1.5h0m0.5 3.5h0m0.5-2h0m0.5-0.5h0m1 0.5h0m0 1h0m0.5 0h0m0 1h0m0-3.5h0m0 1h0m4 2h0m0.5-3.5h0m0.5 0h0m0.5 0h0m0.5 4h0m0.5 0h0m0.5-2.5h0m0 1.5h0m0 1.5h0m1-1h0m1-0.5h0m0.5-0.5h0m1-2h0m0.5 1h0m0-1.5h0m1.5 3h0m2.5-1.5h0m1 0.5h0m0 0.5h0m1 1.5h0m1-2.5h0m0 0.5h0m0.5 1.5h0m0.5 0.5h0m0-1h0m0.5 1h0m0-4h0m0 0h0m2 4.5h0m0-3h0m1 2.5h0m0.5 0h0m0-3h0m0-1h0m0 2.5h0m1 1.5h0m0.5-2h0m0 2h0m0.5-2.5h0m0 0.5h0m1-0.5h0m0.5-0.5h0m0 3h0m0-2h0m0.5 0.5h0m0.5-0.5h0m3 0h0m0.5-0.5h0m0-0.5h0m0.5 0h0m0.5-0.5h0m2 2.5h0m1 1h0m0.5-1h0m0-3h0m0 2h0m0.5-1h0m0 3h0m0.5-1.5h0m0.5 0.5h0m0-1h0m0 0.5h0m0 0h0m0.5 1h0m0.5 0h0m1 0.5h0m0-4h0m0 4h0m0.5-2h0m0-1.5h0m0.5 2.5h0m0.5-2.5h0m0 2h0m0-0.5h0m0.5 0.5h0m0-2.5h0m0.5 4h0m0-1.5h0m0.5-1.5h0m0.5 1h0m0.5-0.5h0m0.5-1.5h0m1 1h0m0.5-1.5h0m0 3h0m0.5-1h0m-55.5 5.5h0m1-2.5h0m0 1h0m0 3.5h0m0.5-3h0m0 1h0m0-1h0m0 2h0m0.5-1h0m1-1.5h0m0 4h0m0.5-4h0m0 0h0m0.5-1h0m1 4.5h0m0.5-2.5h0m1-1h0m1 1h0m0 1.5h0m0-1h0m0.5-2h0m1 2.5h0m1-1.5h0m0.5 1.5h0m0.5 0h0m0-1h0m0 1.5h0m0.5-3.5h0m0 4.5h0m0-2h0m0.5-1h0m0 0h0m0.5-0.5h0m0.5 3.5h0m0-3.5h0m0.5 0h0m1.5 1h0m1.5-1.5h0m0.5 0h0m0 0.5h0m0.5 3h0m0.5 0h0m0.5 0.5h0m0-4h0m0.5 1h0m1.5 2.5h0m0.5-4h0m1 1h0m0.5 0h0m0-0.5h0m2 0h0m1.5 3h0m0 1h0m1-1.5h0m0.5 2h0m0-1.5h0m0.5-2.5h0m0.5 2h0m0.5-2.5h0m0 3h0m0-3.5h0m0 2h0m0.5-1.5h0m0 0h0m0.5 1h0m0.5 1.5h0m0-2.5h0m0.5 1h0m1 3h0m0.5-4.5h0m0.5 2.5h0m0 0h0m0.5 0.5h0m0.5-2h0m0.5 1.5h0m0.5 1.5h0m0.5-2.5h0m2 1.5h0m0.5-3h0m2 4.5h0m0-1.5h0m0.5 0.5h0m0-2.5h0m1 0.5h0m0.5-0.5h0m1 3h0m0.5-3.5h0m2.5 4h0m0-2.5h0m0.5 0.5h0m0.5 1h0m0-1.5h0m1 2.5h0m1.5-2h0m0.5 0.5h0m0.5 0.5h0m0-3.5h0m1 3.5h0m0-1.5h0m0 0h0m0.5 1.5h0m0.5-1h0m0.5 0.5h0m0-2h0m-50 4.5h0m0 0.5h0m0.5 0h0m0.5 0h0m1.5-1h0m0.5 1h0m1 2h0m3 1.5h0m0.5-2h0m2-2.5h0m0 3h0m1 0h0m0-1h0m1 2h0m0-3h0m0.5 2h0m0.5 1.5h0m0.5-1h0m0 1h0m0.5-4.5h0m1.5 3h0m1-3h0m0 3h0m2.5 0h0m0.5-2.5h0m0 3.5h0m0-2.5h0m0.5 2.5h0m0-1.5h0m0-1h0m0.5-0.5h0m0.5 2.5h0m1.5-3h0m0 3h0m0-3h0m0.5 4h0m1-2.5h0m0 1.5h0m0-2.5h0m0 1.5h0m1 1h0m0-3h0m1 0h0m0-0.5h0m0.5 1.5h0m0 2h0m1 1.5h0m0 0h0m0.5-2h0m1-1.5h0m0 3.5h0m0.5-4h0m1 3.5h0m0-2.5h0m2 2.5h0m0.5-3h0m0 0.5h0m0.5-2h0m0.5 5h0m1-3h0m0 0.5h0m0.5 1.5h0m0.5-2.5h0m1.5-0.5h0m0.5 2h0m0 0h0m1-1.5h0m0.5 3h0m0.5-2h0m1-2h0m0 0h0m0.5-0.5h0m0 1.5h0m0 1.5h0m0 0.5h0m0.5-1.5h0m0-1h0m1 2.5h0m0 0.5h0m0.5-0.5h0m0.5 1.5h0m0.5-4h0m1.5 3h0m0-2h0m0.5-1.5h0m0 2.5h0m0.5-2.5h0m0.5 2h0m0.5-0.5h0m2.5-1h0m-88.5 6.5h0m43.5-2.5h0m2.5 1h0m2.5 0h0m0-0.5h0m3 2.5h0m0.5-2h0m0 1h0m2-0.5h0m0.5 1h0m0.5-2h0m0 2h0m0.5-0.5h0m1 0.5h0m0.5 1h0m0-1.5h0m0.5 0h0m0 1.5h0m0-2h0m0.5 1h0m0-2h0m0 1.5h0m1.5 1.5h0m0-1.5h0m1.5 0h0m1 1.5h0m0-1h0m2 0h0m0 1.5h0m0-2.5h0m1 0h0m0 0.5h0m0 0.5h0m0-1h0m0.5 3h0m1-3.5h0m1 2.5h0m1.5-3.5h0m0 5h0m0.5 0h0m0.5-3.5h0m0.5 0h0m0 1.5h0m0.5 0h0m0.5-2h0m0-0.5h0m1.5 4h0m0-1h0m2.5 0h0m1-2.5h0m0.5 0h0m0.5 2.5h0m0.5 0.5h0m0-2.5h0m0.5 2h0m0.5 1.5h0m1-2.5h0m0.5-2h0m1.5 0.5h0m-17.5 5h0m4.5-1h0m1.5 0.5h0m1 2h0m1.5-0.5h0m5-1.5h0m3 1.5h0m-84.5 6h0m60.5-3h0m11.5 0h0"/></defs>
<defs><path id="q3" d="M523.5 192.5h0m1.5 2h0m-21 4.5h0m1 0.5h0m1 2.5h0m1 0h0m1.5-2h0m0.5 2h0m1-1h0m12.5 1h0m2.5 0h0m-20 3.5h0m0.5-2.5h0m0 4h0m1-4h0m1 1h0m0 1.5h0m0.5-1h0m0 0h0m1 3h0m0-0.5h0m0.5-1.5h0m1-1h0m0 2.5h0m6-4h0m1.5 2h0m1.5 2h0m1 0.5h0m2.5-3.5h0m-19 7.5h0m0-1h0m1 1h0m5.5-0.5h0m0.5-1.5h0m7 0.5h0m1.5 0.5h0m1 1h0m0 0h0m-18.5 6h0m0-4h0m0.5 0.5h0m0 3.5h0m2-3h0m0.5 2.5h0m2-0.5h0m0-3h0m0.5-0.5h0m0 2h0m0 2.5h0m2.5-3h0m-9.5 6.5h0m0.5 1.5h0m1.5-3h0m0 1h0m0 1.5h0m1-4h0m0-0.5h0m0.5 0.5h0m1.5 3h0m3-2.5h0m1 2.5h0m0 0.5h0m0.5-3h0m0 3.5h0m-8 5h0m1.5-3.5h0m0-0.5h0m0.5 2h0m0 0h0m0.5 2h0m7-2h0m-10 3.5h0m1-1h0m0 1h0m0.5-1h0m-2 6.5h0m1 21.5h0"/></defs>
<defs><path id="q4" d="M518.5 117h0m1-0.5h0m5 1h0m-10 5h0m2-0.5h0m0-2.5h0m1 0.5h0m1-0.5h0m0.5 1h0m0 2h0m0-3h0m1.5 1.5h0m1-3h0m0.5 2h0m0.5-1.5h0m1.5 0.5h0m0.5 2h0m1-0.5h0m0-0.5h0m0.5 0h0m0 0.5h0m0 1h0m0.5 0h0m0-2.5h0m2.5 3h0m1 0h0m0 0.5h0m1-1h0m-17 3.5h0m0.5-1h0m2.5-1h0m0 2h0m0 0h0m1.5-1h0m1 2h0m0 1h0m0.5-3h0m1.5 2.5h0m1-2h0m0 2h0m0.5 0.5h0m0-1.5h0m2.5-3h0m1 4.5h0m0-2h0m1 2.5h0m0.5-4.5h0m1.5 1.5h0m0.5 2.5h0m1-0.5h0m0-0.5h0m0.5-0.5h0m0.5 0.5h0m2.5-2.5h0m1 0.5h0m0-1.5h0m0.5 3.5h0m0.5 1h0m0.5-4h0m1.5 2.5h0m0.5 1.5h0m1-1h0m-22.5 2h0m0 0h0m0 0h0m1 0.5h0m0.5 0.5h0m0 1.5h0m0.5-1h0m0.5-1.5h0m0 0h0m0.5 1h0m2 0h0m0.5 3h0m0.5-2h0m0-2.5h0m1.5 0.5h0m0 0.5h0m0.5 3.5h0m0.5-0.5h0m0 0h0m0-2h0m0.5-1h0m0.5 3.5h0m0.5-2h0m0-0.5h0m0.5 2h0m0.5-0.5h0m0.5-0.5h0m0 0.5h0m0-1.5h0m0.5-1h0m0 3.5h0m0.5-1h0m2.5-1h0m0.5 0.5h0m0.5 1.5h0m2-4.5h0m0 2h0m0.5 0h0m1 0h0m0 2h0m0.5-2.5h0m0-1h0m0 2.5h0m0-1.5h0m0.5-1h0m0 2h0m0.5-0.5h0m0-1h0m1.5 1h0m0 0.5h0m0-0.5h0m0.5 3h0m0.5-3.5h0m1 2.5h0m0.5-3h0m0 1h0m1 2h0m0.5 0.5h0m0-1h0m1.5 0.5h0m0 1h0m1 0h0m1.5 0h0m-34 4.5h0m9-4h0m0.5 3h0m0.5-1.5h0m0.5 1.5h0m0-3h0m1 3.5h0m0-0.5h0m1 0.5h0m1-1.5h0m0 0h0m0-1h0m1 2.5h0m1-2h0m0.5 2.5h0m0.5 0h0m0-2.5h0m2-1.5h0m1 3h0m0.5 1.5h0m4.5-4h0m0 0h0m0.5-0.5h0m2 1h0m0-1h0m1.5 0h0m0 1.5h0m0.5 2h0m0.5-2h0m0.5 3h0m1-4h0m1.5-1h0m0.5 2.5h0m0 0h0m-30 4.5h0m3-0.5h0m3 0h0m3 0h0m1-1.5h0m0.5 1.5h0m1 1h0m0.5-1h0m1 0h0m0 1.5h0m0.5-1h0m0 3h0m3-4.5h0m1.5 1.5h0m0 2.5h0m0-2h0m0 2h0m0.5-0.5h0m0.5-1h0m0 1h0m0.5 0.5h0m1-2.5h0m2.5 2h0m0 0.5h0m0.5-2h0m0 1.5h0m0.5 0h0m0-3h0m1 1h0m0 2h0m0.5-2h0m0.5 3h0m0.5-0.5h0m0.5-2.5h0m0.5 1.5h0m0.5-2h0m0.5 0h0m1.5 1.5h0m0.5-0.5h0m0 2.5h0m0-1.5h0m0.5-3h0m0.5 2.5h0m-23.5 5.5h0m3.5-2h0m0-1.5h0m0.5 0h0m0.5 2h0m0-1.5h0m0.5 2h0m2-2h0m1.5 0h0m0.5 4.5h0m0.5-3h0m0-1h0m0.5 0h0m0 3h0m0-2h0m0.5 3h0m0-3.5h0m1 0.5h0m0 1h0m0.5 1h0m0.5-1h0m0 0h0m0-0.5h0m0.5-2h0m2 2.5h0m0 0h0m1-1.5h0m0 2h0m0.5-1.5h0m1.5 1h0m0 1h0m0.5-3.5h0m0 2h0m0.5-0.5h0m0.5-1.5h0m0.5 2h0m0.5 2h0m0-2.5h0m-16 7.5h0m1.5-3h0m2 0h0m0.5-0.5h0m2.5-1h0m1 3.5h0m0-1.5h0m0-0.5h0m1 1h0m0.5-1h0m1.5-0.5h0m0.5 3.5h0m0.5-2h0m0 1h0m0.5 0h0m1-2.5h0m0.5 3.5h0m0.5-3h0m0 1.5h0m0.5 1.5h0m0-4h0m0 4h0m3-0.5h0m-42 4h0m4.5 0h0m11.5 2h0m3-2.5h0m1 1.5h0m2 1h0m0-1h0m1.5 0.5h0m3.5 0h0m2.5-4h0m3 2h0m3.5-2.5h0m0.5 0.5h0m0.5 0.5h0m0.5 0.5h0m0 0h0m3-1.5h0m0.5 2h0m-42 7.5h0m2-2.5h0m2 2.5h0m0.5 0.5h0m12-2.5h0m1.5-1.5h0m0.5 2.5h0m1.5-2.5h0m0.5 2h0m1-2.5h0m0 0h0m0.5 2h0m0-2.5h0m0.5 5h0m1-2.5h0m0.5-1h0m0 0h0m0.5 0h0m0-1.5h0m0 3h0m0.5-2h0m0 3.5h0m0-2.5h0m0 3h0m0-2h0m1.5-2.5h0m0.5 3h0m5.5-1h0m11.5 2h0m-47.5 2h0m2.5 0.5h0m0.5-1.5h0m0.5-0.5h0m0 1.5h0m2.5-1h0m2 1.5h0m0-1h0m0 2.5h0m1.5-0.5h0m0.5 0.5h0m0.5 0.5h0m1 1h0m0.5 0h0m0-3h0m0.5-1.5h0m0 2h0m1.5 1h0m0.5-2.5h0m0.5 2h0m0 0.5h0m0-2h0m1 0.5h0m0.5 0h0m0 0.5h0m0.5 2h0m0-1h0m1-0.5h0m1 1h0m0-2h0m0.5 1.5h0m0.5 1h0m0 0.5h0m0-4.5h0m1 1.5h0m0.5 0h0m3-0.5h0m0-1h0m0.5 3h0m0-2.5h0m0 0.5h0m1.5 3.5h0m0.5-3h0m0 1.5h0m2 0h0m0.5-0.5h0m2.5-0.5h0m0-2h0m-32 9.5h0m2.5-2h0m2.5 2h0m4.5-3.5h0m1.5-1h0m1 0h0m1 0h0m0.5 3h0m1.5-3h0m1 0.5h0m1.5-0.5h0m1.5-0.5h0m0.5 3.5h0m1-2.5h0m1 3.5h0m0.5-0.5h0m0-1.5h0m0.5 2h0m0.5 0h0m3-2.5h0m0 2.5h0m0.5-1.5h0m0.5 2h0m0-3h0m0.5 1h0m0.5 1.5h0m0.5-2.5h0m2-1.5h0m1 3h0m0-0.5h0m0-1.5h0m0.5-0.5h0m0.5 1.5h0m0.5 1.5h0m0-2.5h0m0 2.5h0m31.5-0.5h0m-62.5 4h0m6 0.5h0m3 1h0m1-3h0m0 3h0m0.5-1h0m0 0h0m0.5-2.5h0m1 1h0m6.5-0.5h0m0.5 3h0m0.5-1h0m1-0.5h0m0.5-2h0m0.5 1.5h0m0.5-0.5h0m0.5-0.5h0m1 2.5h0m1-2h0m0 3h0m0.5-4h0m1 1h0m0.5-1h0m0 1.5h0m0 2h0m0.5-1.5h0m0-2.5h0m0.5 4.5h0m0.5-0.5h0m1-0.5h0m0.5-0.5h0m1-0.5h0m1 2h0m1-0.5h0m1 0h0m-25.5 1.5h0m0 1h0m0.5 3h0m2-0.5h0m0.5-1h0m0.5 0.5h0m1-3h0m1 1.5h0m0 1h0m0 0h0m0.5-1.5h0m0 3.5h0m0.5-0.5h0m0.5-3.5h0m0 1.5h0m2.5 1h0m0.5 0h0m0.5-1.5h0m0 2h0m0.5 1h0m0-0.5h0m2.5 0.5h0m2-3.5h0m0.5 0h0m0.5-1.5h0m0 0.5h0m0.5 4.5h0m0.5-1h0m1.5-1.5h0m0.5-0.5h0m1-1.5h0m1 4h0m0-3h0m1 3h0m1-3.5h0m0.5 3.5h0m0-3h0m0.5-1h0m1.5 3.5h0m-27.5 3h0m0.5-1.5h0m0.5-0.5h0m1 5h0m0.5-4.5h0m0 2.5h0m0.5 1h0m0.5 1h0m0.5-4.5h0m0 4.5h0m0-0.5h0m0.5-1.5h0m0.5 0.5h0m2-2h0m0-1.5h0m0.5 4h0m0-3.5h0m0.5 4.5h0m0-1h0m0.5 0h0m0 0h0m0-2h0m1 0h0m0 1.5h0m0.5-2.5h0m1 1.5h0m0 2.5h0m0.5-3h0m0 1h0m1.5-3h0m1 1h0m0.5 3.5h0m0-4h0m0.5 0h0m0.5-0.5h0m0 1h0m0.5 2h0m1 1h0m0.5-0.5h0m0-2.5h0m1.5 3.5h0m0-1.5h0m0.5-0.5h0m0-1h0m0.5-0.5h0m0-0.5h0m0 0h0m0 2.5h0m1 1h0m1-2h0m0 0.5h0m0.5 2h0m0-1h0m0-3h0m0.5 0h0m0-0.5h0m0 1h0m1 0.5h0m1 0.5h0m0 1h0m0 0h0m2.5 2h0m0-4.5h0m38 1.5h0m-66 7.5h0m2.5-2h0m0.5 0.5h0m0-1.5h0m0.5-0.5h0m1.5-1h0m1 4h0m2-2.5h0m7.5-1h0m0.5 0h0m0.5 0.5h0m0.5-1h0m0 0h0m1 1h0m2 0h0m0.5-0.5h0m0 0h0m2.5 0h0m0.5 1h0m1-1h0m0.5 0h0m0.5 0.5h0m0-0.5h0m0.5-0.5h0m1 0.5h0m3 4h0m0.5-2h0m1 2.5h0m6.5-0.5h0m-33 1.5h0m0 1h0m2 0.5h0m1.5-2.5h0m0.5 1.5h0m1-0.5h0m0 0h0m4-1h0m10 2.5h0m4.5-0.5h0m1 2h0m15 0.5h0m4.5-0.5h0m-45 2.5h0m2 2h0m0-1.5h0m0.5-1.5h0m0.5 2h0m5.5 0h0m24-1h0m11.5 3.5h0m3-3.5h0m20 0h0m0.5 2.5h0m-49 1.5h0m1 3.5h0m3.5-2h0m0.5 3h0m0-1h0m9.5-2.5h0m1.5-1.5h0m1 4.5h0m5-3h0m3.5-1h0m4 2.5h0m10.5-2h0m6 0h0m0.5 2h0m0.5 0h0m2-1h0m0 3h0m-65 1.5h0m11 0h0m1-1.5h0m1.5 2.5h0m1 1h0m6-2.5h0m3-0.5h0m0.5 3h0m5-2h0m0.5 0.5h0m6.5-1h0m3.5 2.5h0m5 1.5h0m17.5-4.5h0m-48.5 6h0m0-1.5h0m2 4h0m12.5-0.5h0m3-1.5h0m15.5 2.5h0m4-3.5h0m-48 4.5h0m10.5-0.5h0m1.5 3.5h0m6 0h0m1.5-2.5h0m1.5 0.5h0m3 0h0m3.5 3.5h0m2-2.5h0m0 0.5h0m13-1.5h0m-28 6.5h0m4.5-1.5h0"/></defs>
<defs><path id="q5" d="M518 120h0m17.5 5h0m-1.5 3.5h0m1 0.5h0m5 2h0m4-1.5h0m-16 3h0m3.5 5h0m10 1h0m-81 69h0m0.5-0.5h0m1 0h0m1.5-1h0m-5.5 6h0m2.5-1h0m0-1h0m0 2h0m0.5-3.5h0m0 2h0m0 0.5h0m0.5-3h0m0 1.5h0m1 1h0m0 1h0m0 0.5h0m1 0h0m0-0.5h0m0-2.5h0m0 0h0m0.5 0h0m0 1h0m0-0.5h0m1-1h0m0 1h0m0.5-0.5h0m0.5 3h0m1-4h0m0-0.5h0m0 5h0m0-0.5h0m-8.5 1h0m0 3h0m2.5-0.5h0m0 1.5h0m1-1h0m0-3h0m0.5 2.5h0m0 0h0m0.5-1h0m0-1h0m0.5 2h0m0.5 2h0m1-0.5h0m2.5 0h0m0-1h0m1.5 0.5h0m0-1h0m-10 2h0m0.5 1h0m0 0.5h0m0-1h0m1.5 3h0m0.5-3h0m0 0.5h0m0.5-1h0m0 3.5h0m1-3h0m0 0.5h0m1 1h0m0.5 0.5h0m0 2h0m0.5-3h0m0-1h0m0 4.5h0m0-0.5h0m0.5-4h0m0 4.5h0m1-1.5h0m0.5-2.5h0m0 3.5h0m1-1h0m0.5 0h0m0-1h0m3 1h0m3-2h0m2.5 0.5h0m-11.5 4h0m11.5 2.5h0m0 0h0m0.5-2h0m0 3h0m2.5-0.5h0m0-1h0m1-0.5h0m0 2h0m3 0.5h0m0.5-2.5h0m1 0h0m-14 7.5h0m0.5-4h0m2 1h0m1 3h0m0-1.5h0m0-1h0m0.5 1h0m0.5-1h0m0.5 0h0m0-0.5h0m0.5-1.5h0m0 0.5h0m1.5 1.5h0m0.5-2h0m0.5 2.5h0m1-1h0m1-1h0m0.5 3h0m1.5-0.5h0m0-3h0m1 4h0m0.5-2.5h0m1.5 2.5h0m1 0.5h0m0-3h0m0 0h0m6 2.5h0m3.5-2h0m0.5 2h0m-29 0.5h0m2 4.5h0m0.5-2h0m0 0.5h0m0.5-2h0m0 2.5h0m0-3.5h0m0.5 4h0m0.5-3h0m2 2h0m0.5-2.5h0m0 2h0m0 0h0m1 1h0m0 1.5h0m0.5-2.5h0m0 0h0m0.5-0.5h0m0.5 2.5h0m1-2h0m0 2h0m1-2h0m0-2h0m1 0.5h0m0 1h0m0 2.5h0m0.5-4h0m0.5-0.5h0m0 4h0m0-4h0m1.5 4h0m0-0.5h0m2.5-3h0m0.5 0h0m1 0.5h0m1.5 0h0m5 0.5h0m2 1.5h0m0.5-1h0m-23.5 3h0m1 1h0m0.5 0h0m0.5 1.5h0m0.5 2h0m1.5-2h0m0 0.5h0m0-0.5h0m0 2h0m3-3.5h0m0 2.5h0m1-1.5h0m1-1.5h0m-21.5 6h0m16-0.5h0m-17.5 5.5h0m7 0h0m19.5 0h0m6.5 4.5h0m-16.5 5h0m-2.5 10.5h0"/></defs>
<defs><path id="q6" d="M543.5 155h0m-24.5 5.5h0m22.5-2.5h0m2 2.5h0m5 1h0m3 0h0m1-2.5h0m-39 4h0m30 4h0m1 0.5h0m1-0.5h0m1-1h0m1-3h0m3 1.5h0m2 2h0m1-2.5h0m0.5 2.5h0m0-1.5h0m1-1h0m0-1h0m0 1.5h0m0.5 3h0m1.5-1h0m2 0.5h0m-49 1h0m8.5 2h0m26-2h0m1 1.5h0m6 3h0m5-4.5h0m1.5 0.5h0m2.5 1h0m0 1h0m2 1h0m1.5 0.5h0m-38.5 1.5h0m7.5 2h0m15.5-1h0m13.5-2h0m1 1.5h0m0.5 0h0m1-0.5h0m0.5 1h0m0 3h0m1-2h0m0-2h0m0 1h0m1.5 2h0m0-4h0m0 0.5h0m0.5 1h0m2 1h0m0 0.5h0m0-0.5h0m1.5 2h0m0.5-0.5h0m0.5-1h0m1.5 2h0m-61.5 3.5h0m6.5-3.5h0m9.5 2h0m1.5-1.5h0m5 3h0m10 0h0m6-3h0m11 3.5h0m1-2.5h0m2 0h0m6-1h0m3 1h0m-61.5 7h0m23 0.5h0m1.5-1h0m4.5 0h0m1-2h0m8 0.5h0m5-1.5h0m5.5 4.5h0m1-4h0m0 4h0m1-4h0m1.5 1.5h0m-47 7.5h0m6.5-1h0m3.5-1.5h0m0.5 1.5h0m0.5 1.5h0m0-1.5h0m3 1h0m1-0.5h0m1-2h0m1 2.5h0m0.5-1h0m1.5 0h0m0-1h0m0-2h0m0 2h0m2.5-0.5h0m0 0h0m10.5-2h0m4 4h0m7-4h0m0.5 4h0m0-2h0m0-1h0m1.5-1h0m1 1h0m11 0.5h0m0.5 2.5h0m0.5-3h0m-62 5.5h0m8-1h0m1.5 1.5h0m5.5-1h0m0.5 0h0m0 3h0m0.5-2.5h0m0 0.5h0m1 0.5h0m0.5-1h0m1-1h0m0 1h0m0 3h0m0.5-1.5h0m0.5-1.5h0m0.5 0.5h0m1.5 1h0m0.5-1h0m0 1.5h0m0-1h0m0.5 0.5h0m0 0.5h0m0.5-1.5h0m0 1h0m0.5 1.5h0m0-1.5h0m0-2h0m0.5 1.5h0m0 1.5h0m1-0.5h0m0-2.5h0m0-1h0m1 2h0m1.5 2h0m1-1h0m0.5 1h0m0.5 0.5h0m1-3h0m0.5-0.5h0m2.5 4h0m0-2h0m1-0.5h0m0.5-1h0m1 3h0m1-1.5h0m0.5 1.5h0m1 0h0m0.5-1h0m0.5-1.5h0m0 2.5h0m0.5-1.5h0m1 1.5h0m0.5-1h0m1-1h0m0.5 0.5h0m3 1.5h0m2-3.5h0m12.5 3.5h0m2.5-1h0m0.5 1h0m0.5-3.5h0m0 0.5h0m-66.5 8.5h0m0.5-5h0m5 3h0m9 0h0m0.5-2.5h0m0.5 3h0m0.5-2h0m0.5 2.5h0m0.5-2h0m0.5 3h0m0.5-3.5h0m1.5 1.5h0m0-2.5h0m0.5 1h0m0-1h0m0.5 2.5h0m0 0h0m1 2h0m0-2h0m1.5 2h0m0.5-4h0m0.5 1.5h0m2 0.5h0m0.5-2h0m0 1.5h0m0.5 0.5h0m0-0.5h0m0 2.5h0m0-0.5h0m0.5-1h0m0.5 0.5h0m0-1h0m0.5-0.5h0m0 1h0m0.5-1.5h0m0.5 0.5h0m0.5 1.5h0m1-4h0m0 4h0m1.5-2.5h0m0.5 0.5h0m0.5-2h0m0 4.5h0m0.5-2h0m0-2h0m0 2.5h0m0.5-0.5h0m1 0h0m0-2.5h0m0 0.5h0m0.5 1h0m1 1h0m0-0.5h0m0.5 2h0m0-3h0m0.5 3.5h0m1-2.5h0m0.5 2.5h0m0-3.5h0m0 3h0m2.5-3.5h0m0.5 4.5h0m1-0.5h0m0.5 0h0m0-3h0m1 3h0m0.5-3h0m0.5 1.5h0m0 2h0m0-5h0m1 4h0m0-3h0m0 3.5h0m1-4h0m0 0h0m0.5 0.5h0m0.5 1.5h0m1 0.5h0m0-1h0m1-1.5h0m1 3.5h0m0.5 0.5h0m1-1.5h0m0 1h0m1-2.5h0m0 3.5h0m1.5-4.5h0m0.5 4h0m0.5-2h0m0.5-1.5h0m1 1h0m0.5-1h0m0.5 0h0m0 0.5h0m2-0.5h0m2 1.5h0m0 0.5h0m0.5-0.5h0m0-1.5h0m0.5 1.5h0m0 2h0m0.5-3h0m0 1h0m0-0.5h0m0 0h0m0.5 0.5h0m0 1.5h0m0.5-0.5h0m0.5-3.5h0m0 3.5h0m0.5 0.5h0m2.5-0.5h0m0.5 0h0m-121.5 4h0m52-1.5h0m1 1.5h0m0.5 2.5h0m1-2.5h0m5.5 1.5h0m3-3.5h0m2 4.5h0m0-2h0m0.5 0h0m2.5-2h0m1 3h0m0.5-1.5h0m0.5-2.5h0m0.5 4.5h0m0-2.5h0m0.5 2h0m0.5-2h0m0-1h0m0.5 2h0m0.5 1.5h0m0-1.5h0m1.5 2h0m2.5-0.5h0m0-0.5h0m0.5-2h0m1.5 0h0m0.5 0.5h0m0 0h0m0.5-1.5h0m1 1h0m0.5 0.5h0m0.5-1.5h0m1.5-0.5h0m1.5 1.5h0m3 0.5h0m0.5-1h0m0.5-0.5h0m0.5 3.5h0m0.5-3.5h0m0.5 4h0m0.5-4.5h0m0.5 3.5h0m1-4h0m0.5 2.5h0m0 0h0m0.5-1h0m2 2h0m0.5 0h0m2.5-3.5h0m0 2h0m1-1.5h0m0.5 0h0m1 0h0m1 3.5h0m0 0.5h0m1.5-3.5h0m0 0h0m0 0.5h0m0-1h0m2 0h0m3.5 3h0m0.5 1.5h0m0-0.5h0m0.5-4h0m2 3h0m2.5 1h0m3.5 0h0m0-0.5h0m1-4h0m0 2h0m2 2.5h0m0-4h0m0 0.5h0m0.5 0.5h0m0 0.5h0m-122.5 3h0m3.5 3h0m4.5-1h0m39.5 1.5h0m6-1h0m0.5 0h0m1-0.5h0m3-2h0m2.5 2.5h0m1-2h0m1.5 4h0m2.5-4h0m1.5 0.5h0m1 3h0m0-1.5h0m2.5 1.5h0m0-1h0m1 0h0m0-2h0m0.5 1.5h0m0 1h0m0 0.5h0m0-3h0m0.5 1.5h0m0.5 1.5h0m0-0.5h0m0.5-1h0m0.5-1.5h0m1.5 2h0m1 0.5h0m0 0.5h0m0.5 0.5h0m0.5 0.5h0m0.5-2.5h0m1.5-2.5h0m0.5 3h0m0.5-0.5h0m0.5 2.5h0m0.5-4.5h0m0.5 2.5h0m0 1h0m1.5-3.5h0m0.5 2.5h0m0-2.5h0m0.5 4h0m0-3.5h0m0 4h0m0.5-4h0m0.5 1h0m0 2.5h0m0.5-1h0m0.5-2h0m1.5 1.5h0m0-0.5h0m0.5 2.5h0m0-5h0m0.5 5h0m0-4h0m1 1h0m0.5 0.5h0m0.5-0.5h0m0-1h0m0.5-1h0m0 2.5h0m0.5 1h0m0 1h0m0.5-1h0m0-0.5h0m0.5 0.5h0m0-3h0m1 1.5h0m0.5-0.5h0m0.5 3h0m1.5-4.5h0m0.5 4h0m0.5-2.5h0m0 1h0m1-1.5h0m1 1h0m0 0.5h0m2 2h0m2.5-1h0m0.5-3h0m0.5 4h0m1 0h0m1-4h0m0 1h0m0 3h0m0.5 0.5h0m0.5-2.5h0m0 2.5h0m0.5-1.5h0m0.5-1h0m0.5 1h0m0-1h0m1.5-1h0m2 1.5h0m0.5-1h0m0.5 0h0m1.5 0.5h0m0.5 1h0m0-3h0m1 0h0m1 0.5h0m1 0h0m0 0.5h0m1-1.5h0m0.5 0.5h0m3.5 0h0m-67.5 5h0m2 4h0m0.5-0.5h0m5.5-2.5h0m0.5 0h0m1-0.5h0m1.5 1.5h0m0.5 2h0m0-0.5h0m0.5-1.5h0m2 1.5h0m0.5 0.5h0m1-3h0m0.5-0.5h0m0-0.5h0m1-0.5h0m0 0h0m0.5 2h0m1.5 2.5h0m1.5 0h0m0.5-0.5h0m0-4h0m0 1.5h0m1.5-0.5h0m1 3.5h0m0-1h0m0-2h0m1 1h0m0.5 2h0m0.5-1h0m0.5-1h0m1.5 2.5h0m0-0.5h0m0.5-3h0m0 0.5h0m0.5 0.5h0m0.5-0.5h0m0 2.5h0m0.5-1h0m1-3h0m0.5 4h0m0.5-3.5h0m0-0.5h0m0 0.5h0m0.5 1.5h0m0 0.5h0m1 1h0m0.5-1h0m1.5-1h0m2 0.5h0m0.5-2.5h0m2.5 0.5h0m1.5 3h0m0.5 0.5h0m0.5-0.5h0m0-2.5h0m0 0.5h0m0.5 1h0m0 2h0m0-2.5h0m0.5-0.5h0m0 1h0m0.5 2.5h0m0.5-5h0m0 3h0m0-2h0m1 3h0m0.5 0h0m1-2.5h0m0 2h0m0-0.5h0m0.5 1.5h0m0-1.5h0m1 1h0m1 0.5h0m1-0.5h0m1.5 0h0m0-2h0m1 0.5h0m0 1.5h0m-107.5 3.5h0m43.5 1.5h0m1-4h0m5 1.5h0m2 1h0m0.5-0.5h0m1.5-2h0m0 1.5h0m0.5 3h0m0.5 0h0m0.5-3.5h0m2-1h0m0 4h0m2-4h0m1.5 1.5h0m1-1h0m0.5 2h0m1 0h0m3-2h0m2 1h0m0 0h0m0 0h0m0 0.5h0m0.5 1h0m0-0.5h0m0.5 2h0m0-3h0m1 1.5h0m1.5 2h0m1-3h0m0 1h0m0.5-1.5h0m0.5 3.5h0m0-0.5h0m0.5-1h0m0.5-2.5h0m0.5 0h0m0.5 0h0m1-0.5h0m0.5 1h0m0.5 1h0m0 1h0m0 0.5h0m0-2.5h0m0.5-1h0m0.5-0.5h0m0 1.5h0m1-0.5h0m1 2h0m0.5-1h0m0.5 3h0m1.5-2.5h0m0.5-0.5h0m0-1h0m0.5 3h0m0 0h0m0.5-1.5h0m0-1h0m0 3h0m0-4h0m0.5 0h0m0 1h0m0.5-1h0m2 0.5h0m1 2.5h0m0.5 0h0m1 0h0m1.5 1h0m2-2h0m0.5 1h0m0.5 0h0m0-3h0m1 2.5h0m1-1.5h0m0.5 0h0m1 0h0m0 0.5h0m0 2h0m0.5-2h0m0-1h0m0 1.5h0m0 0.5h0m0.5-3h0m0.5 2h0m1.5 1h0m1.5-3h0m0.5 0.5h0m-81 8.5h0m0.5 1h0m18.5-3h0m0.5 1.5h0m2.5-2.5h0m7.5-1h0m4 1h0m1-0.5h0m1 4h0m1.5-1h0m0-1h0m0.5 0h0m1.5-1.5h0m2.5 2h0m1.5 0h0m1 0h0m2-0.5h0m0-0.5h0m1-1.5h0m1 3.5h0m1.5-0.5h0m0.5-0.5h0m0-1.5h0m0.5 0.5h0m3.5-1h0m0.5 0.5h0m2.5-1.5h0m0.5 2h0m1-2h0m0.5 1h0m0.5-0.5h0m0.5 0.5h0m1-0.5h0m0 0.5h0m1.5-1h0m-72.5 9.5h0m3.5 0.5h0m4-1.5h0m0-1.5h0m36.5-1.5h0m10 0h0m-53.5 9h0m0.5-3h0m0-1h0m2 3h0m1-1.5h0m1 0.5h0m2 2h0m4-2h0m1-2h0m-19.5 6h0m13 0.5h0m-14 6.5h0m24 5.5h0m-13 13.5h0"/></defs>
<defs><path id="q7" d="M499.5 192.5h0m1-2.5h0m-8.5 7h0m2.5 0h0m0 0h0m0.5 0h0m1 0h0m0.5-2h0m0-1.5h0m0 2h0m0 0h0m0.5-0.5h0m0 1h0m2 0h0m1 1h0m4-0.5h0m-15 3.5h0m1-1.5h0m0 3.5h0m1-4h0m0 2h0m1-1h0m1.5 2h0m0.5 1h0m0-4h0m0.5 1.5h0m0 2h0m0.5 0.5h0m1.5-2.5h0m3 0h0m0-1.5h0m0 4h0m2 0h0m0.5-4.5h0m0.5 0.5h0m0.5 4.5h0m0-3.5h0m-12.5 5.5h0m0-2h0m1 0h0m2 1.5h0m0 0.5h0m1-2h0m0.5 1.5h0m0-1h0m0 1.5h0m3 2.5h0m0.5-3.5h0m1.5 0.5h0m1.5 0.5h0m0.5 0h0m0-2h0m0 3.5h0m0.5 0h0m0.5 0h0m-9 2h0m0 0h0m6.5 0h0m3 1h0"/></defs>
<defs><path id="q8" d="M399.5 209.5h0m1 1.5h0m0-2h0m0.5 2h0m0.5 0.5h0m0-1h0m0-0.5h0m0.5 1.5h0m1-2.5h0m1.5 3h0m0.5-2h0m0.5-0.5h0m0 2h0m0.5-3h0m5.5 3h0m5.5 0h0m2.5-0.5h0m-16.5 2h0m1 0.5h0m1.5-1h0m3.5 0.5h0m3 1h0m0.5 3.5h0m1.5-2h0m0.5 1h0m-6 2h0m2 0.5h0m0 1h0m0-1.5h0m0.5 1h0m0.5 1h0m1-1.5h0m0.5 1h0m1 1h0m1-1.5h0m0-1h0m0.5 1h0m0 2.5h0m0 0h0m1-1h0m1-1h0m-6 3h0m4 1.5h0m1-0.5h0m0-1h0m1 0.5h0m0 1.5h0m0.5 1.5h0m0.5-3.5h0m0 1.5h0m1 1.5h0m0-2h0m1 2.5h0m0-1h0m0.5-2.5h0m1 4.5h0m0.5-0.5h0m0.5 1.5h0m1.5 3.5h0m-1 3.5h0m0 0h0m0-1.5h0m1 5.5h0m0.5-2h0m1.5 2h0m0 0h0m0.5 0.5h0m0.5 3.5h0m9.5 4.5h0m3 0.5h0m3.5 1.5h0"/></defs>
<defs><path id="q9" d="M211 320.5h0m-3 6h0m2-1h0m1.5 0.5h0m0.5-3h0m0 2h0m1 1h0m1-1h0m0.5 1h0m-15 4h0m4 0.5h0m2 2h0m0.5-4.5h0m0.5 3h0m1.5 0h0m0.5-2h0m0.5 0h0m1-0.5h0m0.5 1.5h0m0.5 2.5h0m0 0h0m0-3.5h0m1 2.5h0m1 1h0m0.5-3h0m-16.5 5.5h0m1 1.5h0m1 0h0m2.5 0.5h0m0.5 0h0m0.5-1h0m0 1h0m0.5-1.5h0m2 0h0m0.5 0h0m0.5-1h0m0.5 3h0m0-1h0m1.5-2.5h0m1.5 0.5h0m0-0.5h0m2 0.5h0m0 1.5h0m1-1h0m0.5-2.5h0m0.5 3.5h0m0.5 0h0m2.5 1h0m0.5-1.5h0m-21 3h0m0 2h0m1 0.5h0m0.5-2.5h0m0.5 1.5h0m0.5-2h0m1 2h0m1 0.5h0m0.5 1h0m0.5-1h0m0-1h0m0.5-2h0m0.5 1.5h0m0.5 1h0m1-1.5h0m0.5 3h0m1-1h0m0 0.5h0m1 1h0m0.5-2.5h0m0-0.5h0m1 0.5h0m0 1.5h0m0.5 1h0m0.5-3h0m0.5-0.5h0m0.5 0.5h0m1-0.5h0m1.5 1.5h0m1-0.5h0m0-1h0m1.5-0.5h0m0 0.5h0m0.5 2h0m0 1.5h0m0-0.5h0m1.5 0h0m2-2h0m-24.5 8h0m1-3h0m2.5 0.5h0m0.5 1.5h0m4.5-2.5h0m1.5 2.5h0m1-1h0m1.5-1h0m0.5-1.5h0m0 0h0m0 4.5h0m0.5-1h0m0-2h0m1 0h0m0.5 1h0m3-0.5h0m0-0.5h0m0.5 0h0m0.5 1.5h0m3.5 0.5h0m0-1h0m0.5 2h0m0.5-1.5h0m0.5 1h0m1-3h0m0 2.5h0m1-1h0m0.5 1h0m1.5-2h0m14.5 0h0m0.5 2.5h0m-42 5h0m0-2h0m0.5-2.5h0m1 2h0m0 0.5h0m1.5-2h0m2.5 3.5h0m0-3.5h0m1 4.5h0m1-4.5h0m0.5 2h0m4 1h0m1.5-0.5h0m1-0.5h0m0.5-0.5h0m1 2.5h0m3-4.5h0m0 4h0m0-3h0m0.5 0.5h0m0.5 1.5h0m0.5 1.5h0m1-2.5h0m0-1h0m0.5 2.5h0m0 0h0m3-2.5h0m0.5 1.5h0m0.5-1h0m1 3h0m26 0h0m0.5-0.5h0m1.5 0.5h0m-54 3h0m0.5-1.5h0m1 3.5h0m1.5-2h0m2.5 2h0m0-1.5h0m0 1h0m0.5-4h0m0 2.5h0m0.5-0.5h0m0 2.5h0m0 0h0m1-4h0m0.5 4h0m0-1h0m1.5 0.5h0m1-0.5h0m2 1h0m0.5-3h0m0.5-1.5h0m1.5 4.5h0m0.5-4h0m0.5 2h0m0 2h0m2.5 0h0m0-1h0m0.5-3.5h0m0.5 1h0m1.5 2h0m0.5 1h0m0.5-2h0m1-1.5h0m2 0.5h0m0.5 3.5h0m0-3h0m0.5 3h0m0-4h0m1.5 0.5h0m18 3.5h0m3-3.5h0m0 2h0m0 1.5h0m0.5-2h0m0.5 0h0m1-2h0m0 3h0m0.5-2h0m2 0.5h0m0.5-1.5h0m0 4.5h0m2-3h0m0-1h0m0.5 2h0m0 1.5h0m0.5 0.5h0m0-3h0m0.5 1h0m0-1.5h0m0.5 3h0m0 0h0m1-1.5h0m0.5 1.5h0m1-0.5h0m0.5-1h0m0-1.5h0m0.5 2h0m-63.5 3.5h0m4.5 2h0m0.5-0.5h0m0-3.5h0m0.5 1h0m0.5 2.5h0m0-2h0m0.5 0.5h0m0 0h0m0 2.5h0m0.5-1.5h0m0.5-1.5h0m0.5 3h0m0.5-3.5h0m0.5 0h0m1 1h0m1 0.5h0m0-2.5h0m1.5 4.5h0m2.5-2.5h0m1 1.5h0m0.5 0.5h0m0-0.5h0m0.5 0h0m1-0.5h0m1-1h0m1 2h0m1.5-0.5h0m0-2.5h0m0.5 1.5h0m0.5-2h0m0.5 0h0m0.5 3h0m1-0.5h0m1.5-2h0m2-0.5h0m0.5 2h0m0-0.5h0m1.5 1h0m0.5-1h0m0-1.5h0m0.5 4h0m0.5 0.5h0m0.5-1h0m15.5-2.5h0m0 0.5h0m1 1h0m0.5 1.5h0m0.5 0h0m0-2.5h0m0.5 0.5h0m1-1h0m1.5-1h0m2 0.5h0m1-0.5h0m1 2.5h0m0.5 1.5h0m0.5 0.5h0m0-1h0m1.5-0.5h0m0-1h0m2-1h0m2 0.5h0m0 2.5h0m0 0h0m0.5-4.5h0m0.5 3.5h0m0.5 1h0m2.5-3h0m1 2h0m2.5 0h0m0.5 1h0m-69.5 5h0m2-4h0m0 2h0m1.5 2.5h0m0-4h0m0.5-1h0m0.5 4.5h0m0-1h0m1-2.5h0m1 3h0m1.5 0h0m1-3.5h0m0-0.5h0m0 4.5h0m1.5-1h0m0.5 0h0m1-2.5h0m0-0.5h0m0 1.5h0m0.5 2h0m0 0.5h0m0-2.5h0m1.5 2.5h0m1 0.5h0m1-4.5h0m0 1.5h0m0.5 1h0m1 0.5h0m0.5-2h0m1 0.5h0m0.5 0h0m0.5 0h0m1 0.5h0m0.5 2h0m1 0h0m1 0.5h0m2-2.5h0m0.5 0h0m1 0h0m0.5 0h0m0 2h0m1-2.5h0m2 3h0m0-2h0m0-3h0m1.5 3.5h0m14-2h0m0 2h0m1-3h0m0.5 4.5h0m0-1h0m1-0.5h0m0 1h0m0.5-3h0m0 1.5h0m1 0h0m0.5-1h0m0.5 3h0m3-4h0m0-0.5h0m0 1.5h0m1.5-1h0m0 0.5h0m1-0.5h0m0.5 2.5h0m0 0h0m1 1.5h0m0.5-1h0m1-1h0m0.5-0.5h0m1 1h0m0 0h0m0-1.5h0m0.5 1.5h0m1.5 0h0m0.5 1h0m0-2h0m0.5 0h0m1.5-2.5h0m0.5 0.5h0m0 4.5h0m0-5h0m1 3h0m0-1.5h0m1 3h0m0.5-2h0m0 1h0m0-3h0m1.5 1.5h0m-70 8h0m1.5-2.5h0m0.5-1h0m0 2h0m0.5 1.5h0m1-1.5h0m0.5 0h0m0-1.5h0m0 0h0m0.5 2.5h0m0.5-3h0m1.5 2.5h0m0 0.5h0m0.5-3h0m0.5 0.5h0m0.5-1.5h0m0.5 4.5h0m0.5-2h0m0-2.5h0m0.5 3.5h0m0.5-1.5h0m0.5 0.5h0m0-1h0m0.5 2.5h0m0.5 0.5h0m1-4h0m0.5 2.5h0m1-3h0m1 3h0m0 1.5h0m2.5-5h0m0 0h0m0 4.5h0m0.5-0.5h0m1-1.5h0m0-1h0m0.5 0h0m1 0h0m0-1h0m0 3h0m0-3h0m0.5 2h0m1 0.5h0m2-1.5h0m0 0.5h0m1 2h0m0.5-1.5h0m0 0h0m0.5-2.5h0m1.5 3h0m0 0.5h0m1-1h0m0 2h0m0-3.5h0m0.5 3.5h0m2-1h0m0.5-2.5h0m0.5 1.5h0m0.5 0.5h0m0 0h0m0-2h0m1 3.5h0m1.5-1h0m2-0.5h0m1.5 1h0m0.5 0h0m1.5-0.5h0m2.5-0.5h0m1-0.5h0m2.5 0.5h0m0 0h0m0 0h0m0.5-2.5h0m0 0.5h0m5 0.5h0m1.5 0.5h0m0 0h0m0.5-1.5h0m1 2h0m1.5 0h0m0.5 0h0m0-0.5h0m0 0h0m1 0.5h0m0.5 0h0m0-1h0m0.5-1h0m0.5 0h0m0 3.5h0m0-1.5h0m1.5 0.5h0m0-2h0m1 1h0m0-1h0m0.5 1.5h0m0-0.5h0m0.5-0.5h0m0 1h0m1-1.5h0m1 0h0m0 2h0m0.5-1.5h0m0-1.5h0m1 2h0m0.5 1h0m-63.5 6h0m0-1h0m0.5 1h0m2 0h0m1.5-2h0m0-0.5h0m0.5 0.5h0m0.5 0.5h0m0.5-1h0m0 2h0m0.5-3h0m1.5 4h0m1 0h0m0.5-2h0m0.5-1h0m0-0.5h0m0.5 0h0m0.5-0.5h0m0.5 3.5h0m0.5 1h0m0-0.5h0m1-3.5h0m0 0.5h0m2 1h0m1 1.5h0m0.5-4h0m1 1.5h0m2 1.5h0m0.5 1h0m1-2.5h0m1.5 1h0m1 2h0m1-1h0m0-1.5h0m0.5 1.5h0m1 1h0m2-4.5h0m2 3h0m0.5 1h0m0-2h0m0-1h0m3 1h0m0 3h0m0.5-3.5h0m0 1h0m0-1.5h0m0.5 3.5h0m0-4h0m0.5 4h0m0.5-0.5h0m0.5 0.5h0m1 0.5h0m0.5-2h0m0 2h0m0-1h0m0.5-1.5h0m0 0.5h0m1 0.5h0m0-1h0m3.5 0.5h0m0.5-3h0m0.5 2h0m5 0h0m1-1.5h0m2 1h0m1 0h0m-54.5 7.5h0m0.5-3h0m1 3.5h0m0.5-0.5h0m0 0.5h0m0.5-2h0m0.5 2.5h0m0-1h0m0.5 0.5h0m0-4h0m0 0.5h0m0.5 1h0m0.5 3h0m0.5-1h0m3-2.5h0m1.5-1h0m1 4h0m0-2h0m0.5 0.5h0m0.5 0h0m0-1h0m0.5 2.5h0m1-4h0m0.5 2h0m0.5-0.5h0m0 2.5h0m0.5-2.5h0m0.5 2h0m1-1.5h0m1 0.5h0m1.5 1.5h0m0.5-4.5h0m0.5 2h0m1.5-1.5h0m1 0h0m1.5 2h0m1 1h0m0-2h0m0.5 2h0m1.5-3.5h0m0.5 4.5h0m0.5-1.5h0m2-0.5h0m0.5-2h0m0 1h0m0.5 1.5h0m0-2.5h0m1.5 3h0m0-0.5h0m0 1.5h0m0.5-2h0m0.5 0.5h0m0.5 0h0m0 1h0m0.5 0.5h0m0-0.5h0m0.5-1h0m2 0.5h0m0.5 0h0m1-3.5h0m0.5 4h0m0-1.5h0m1-2h0m0.5 1h0m1.5 3h0m0.5-2h0m0.5-2.5h0m0.5 0h0m0 3.5h0m1-3h0m1.5 0h0m1 3.5h0m0-2.5h0m0.5 0.5h0m0.5-1h0m0.5-0.5h0m-49 7h0m0-0.5h0m1-2h0m1.5 1.5h0m3 1.5h0m0.5 1.5h0m0.5-2h0m0-1.5h0m0.5 2h0m0.5-1.5h0m0-1h0m0 0.5h0m1 4h0m0-1.5h0m1 1h0m0.5-3h0m1.5 0h0m0-1.5h0m0 5h0m1-4.5h0m1.5 1.5h0m2-1.5h0m0 3.5h0m0.5-3h0m0.5 2h0m1-1.5h0m0.5 3.5h0m0.5-1h0m0.5-3.5h0m0 0.5h0m2 0h0m0.5 4h0m0-3h0m0-0.5h0m1 0.5h0m1-1.5h0m0.5 3.5h0m0.5-1.5h0m0-2.5h0m0.5 4.5h0m1.5-0.5h0m0-1.5h0m0.5-1h0m1-0.5h0m0.5 0.5h0m0.5 2.5h0m0.5-2.5h0m0 1.5h0m0.5 2h0m1-0.5h0m0-3h0m0 0h0m0.5 1.5h0m0 1h0m0.5-1h0m0.5-1h0m0 2.5h0m0.5-2.5h0m1 2h0m0-3.5h0m0.5 3.5h0m2-3h0m0 4h0m0.5-2.5h0m1-1.5h0m1.5 0.5h0m0.5 0h0m0 2.5h0m0 0.5h0m1 0h0m0.5-0.5h0m1-0.5h0m1 0.5h0m1-3.5h0m1.5 1.5h0m1 2.5h0m1.5-3h0m0.5 3h0m1-0.5h0m-44.5 3.5h0m1.5-0.5h0m0-1.5h0m0.5 1.5h0m0.5 2h0m3 1h0m0.5-4h0m2 0.5h0m1 0.5h0m1 1.5h0m1-3h0m0 1.5h0m1 1h0m1.5-2h0m0 0.5h0m0.5 3h0m0-1h0m3-1h0m0.5 0h0m2 1h0m2-1h0m0.5-2.5h0m0.5 4h0m0-1h0m0-2h0m0.5 0h0m1 0h0m0 0h0m0.5 3h0m0.5-2.5h0m1.5-0.5h0m0 3.5h0m0.5-3h0m0.5 0.5h0m1-0.5h0m0 3.5h0m1.5-4.5h0m1.5 3.5h0m0-3h0m0.5 3.5h0m0.5-3.5h0m2 1.5h0m0.5 0h0m0-0.5h0m0.5 2.5h0m0.5-4.5h0m0.5 4h0m0-3.5h0m0 1.5h0m0.5-1h0m0.5 3.5h0m1.5 0h0m2 0.5h0m1-4h0m3.5 3h0m37.5-4h0m-79 8h0m0-1h0m0.5 1h0m0.5-0.5h0m1-1h0m0.5 2h0m0.5-1h0m1 0.5h0m0.5-0.5h0m1 1.5h0m0-2.5h0m0.5-1h0m0 0.5h0m1.5 3.5h0m0.5-1.5h0m0-1.5h0m3 0h0m0.5 1.5h0m0 1.5h0m0-2h0m0.5 2h0m1-4h0m0-0.5h0m0.5 1h0m0-0.5h0m2 1.5h0m0-1h0m2.5-0.5h0m0.5 3.5h0m0.5 0.5h0m0.5-2.5h0m2.5 2.5h0m0.5-2.5h0m0.5 0h0m2.5 2.5h0m0.5-1.5h0m0 1h0m0.5-1h0m0.5-0.5h0m0-2.5h0m1.5 3h0m0-2.5h0m0 0.5h0m0.5 2.5h0m0-1.5h0m1.5-1.5h0m0 1.5h0m0.5 2h0m1.5-2.5h0m1 1.5h0m2-1h0m0 3h0m1.5-3h0m4-1h0m2 3.5h0m-39 3h0m2.5-1.5h0m1 2h0m2-2.5h0m1.5 1h0m0.5 2.5h0m0.5-1h0m0.5 0.5h0m1 0.5h0m0.5-4h0m0 5h0m1.5-2h0m1 2h0m0-3h0m0.5-1h0m0.5 1h0m0.5 2.5h0m1.5-1.5h0m0.5-3h0m0.5 4.5h0m0-2h0m1 0.5h0m0 2h0m1-0.5h0m0-4.5h0m1 5h0m1-4.5h0m0 2.5h0m1-2h0m0.5 2h0m0.5 0.5h0m0.5 0.5h0m1.5-0.5h0m0.5-2h0m0 2.5h0m1.5 0.5h0m1.5-2.5h0m2 0.5h0m0 0h0m0.5 2.5h0m0.5-0.5h0m0.5-4.5h0m0.5 1h0m0.5 0.5h0m0.5 0h0m2-1h0m0.5 3h0m0.5 1h0m1.5-4h0m0-0.5h0m1 1h0m0 2.5h0m1.5-2.5h0m-33 6h0m0.5 0h0m3 2h0m0.5-2h0m0-0.5h0m0 2.5h0m1.5 0.5h0m0.5-4.5h0m0.5 4h0m0.5 0h0m0.5 0h0m1.5 1h0m1-4h0m0.5 0.5h0m0.5-0.5h0m5-0.5h0m0.5 3.5h0m2.5-2.5h0m0 2.5h0m1-1.5h0m1 1h0m1-3h0m1-0.5h0m0.5 3.5h0m0.5-2.5h0m0.5 0h0m0 4h0m0.5-3h0m0 0.5h0m0-1.5h0m0.5 2h0m0 0.5h0m1.5-1.5h0m0.5-0.5h0m1.5-0.5h0m0 1h0m0.5-2h0m0.5 2h0m-21.5 4h0m0.5 2h0m2-1h0m0 2.5h0m3.5-2h0m0-0.5h0m0.5 0h0m0.5 0h0m0.5 0h0m0.5 1.5h0m0-1.5h0m1-1.5h0m0 3.5h0m0.5-2.5h0m0.5 3h0m0.5-0.5h0m0.5-0.5h0m0-3.5h0m1 0.5h0m0 1h0m1.5 0h0m1-1.5h0m1.5 1h0m0 0h0m1.5 0h0m-15.5 4h0m0 0.5h0m3.5 0h0m4 1h0m0.5 0h0"/></defs>
<defs><path id="q10" d="M207.5 327.5h0m0.5 4.5h0m1-2.5h0m2.5-1.5h0m0 4h0m-8 5h0m1-0.5h0m4.5-3h0m1 3h0m3-1.5h0m0 1.5h0m-11.5 1.5h0m9 3.5h0m3.5-3h0m2.5 0h0m-15.5 6h0m1.5-1h0m1.5 0h0m1.5 3h0m4-3h0m1.5 1.5h0m9 0.5h0m2 0.5h0m-14 4h0m4.5 2h0m1.5-3.5h0m7.5 0.5h0m-26 5.5h0m2 2h0m1-4h0m2 1.5h0m5.5 3h0m1.5-1h0m4-2.5h0m2 1.5h0m35 1h0m2-1.5h0m7.5 1h0m-56 3.5h0m1 2h0m3.5-3h0m6 2h0m2 0.5h0m0-0.5h0m7 0h0m20.5-0.5h0m2-1h0m0.5 0h0m5.5 4h0m2.5-2h0m1.5 2h0m1-0.5h0m7-4h0m-61.5 6h0m9 1h0m4.5 1.5h0m1 0.5h0m1.5-1h0m10-0.5h0m14.5 1h0m2.5-0.5h0m7.5-3h0m5.5 0.5h0m4 4h0m-57 1h0m1.5 0h0m4.5 1h0m0.5-1.5h0m1 1h0m3 2.5h0m1.5 0.5h0m1.5-0.5h0m2-1h0m3 0.5h0m5 0.5h0m7-0.5h0m0.5 0.5h0m7-3h0m3.5 2h0m2-2.5h0m0 3h0m-51 4.5h0m3 0.5h0m0.5-1.5h0m5 2.5h0m5-1.5h0m1-1h0m2 0h0m2.5 1.5h0m2-2.5h0m9 2h0m2 1h0m5-2h0m2.5 0h0m3-1h0m4.5 2.5h0m6.5-1h0m0.5-1.5h0m9.5-0.5h0m-55.5 9h0m4-1h0m0.5 1h0m0.5-2.5h0m1.5 2h0m2.5-1h0m3-0.5h0m4 1.5h0m1-3h0m2.5 0h0m4 3h0m8.5 0h0m2-1h0m1 1.5h0m-38.5 0.5h0m15.5 0.5h0m0.5 3h0m3.5 0h0m6 0.5h0m1.5 0h0m2.5-3h0m5 0h0m1.5 0h0m-31.5 7.5h0m0-3h0m1.5 3h0m1.5 0h0m4-3.5h0m1 3.5h0m5 0.5h0m7.5-3h0m12.5-0.5h0m-33.5 5h0m6.5 2.5h0m4 1h0m5.5-4h0m7.5 2.5h0m2.5 1h0m3 1h0m2.5-3.5h0m2 1.5h0m4 2h0m0-0.5h0m-27.5 3.5h0m0.5-2h0m4.5 3.5h0m4 1h0m4-2.5h0m4-2h0m3 4h0m0.5-0.5h0m5 1h0m6-3h0m-12.5 6h0m2.5-0.5h0m5.5-0.5h0m-17.5 3.5h0m2.5 2h0m1-0.5h0m5.5-1.5h0m7 1h0m0 1h0m45 3h0"/></defs>
<defs><path id="q11" d="M221 347h0m-22 1h0m-0.5 6.5h0m65 10.5h0m-26 3.5h0m13.5 2h0m-46 5.5h0m4-1.5h0m27.5 2h0m5.5 6.5h0"/></defs>
<defs><path id="q12" d="M185.5 126h0m-2 4.5h0m3 16h0m20.5-1h0m9.5 5h0m-7 3h0m-49.5 7.5h0m1-0.5h0m1.5 0h0m0-0.5h0m41.5-0.5h0m22 0.5h0m6.5 1.5h0m-69 4.5h0m1-1.5h0m0.5 2h0m0.5 0h0m0.5-2h0m2 1h0m1 1.5h0m1 0.5h0m41-4h0m-43.5 7h0m1-0.5h0m0 0h0m1-0.5h0m0.5 1.5h0m1-1.5h0m2-0.5h0m2 3h0m0-1h0m1 0h0m0.5 1.5h0m25.5-1.5h0m5 0.5h0m0.5 0h0m4-2.5h0m0.5-1.5h0m14.5 2h0m3.5 0.5h0m2.5-1.5h0m-61.5 5h0m1 0.5h0m0 2h0m0.5-0.5h0m1 0.5h0m0 1.5h0m0.5 0h0m0.5-3h0m0 0.5h0m1 1.5h0m0-3h0m0 0h0m0 2h0m0.5 0h0m0-2.5h0m0 1h0m0.5-1h0m0 0.5h0m0.5 1.5h0m0.5 0.5h0m0 0h0m1.5 0.5h0m0 0h0m0.5-3h0m26.5 1h0m1.5 1h0m30.5 1.5h0m2-2h0m-64 5.5h0m2 2.5h0m0-3.5h0m1 3h0m1-1.5h0m1-1.5h0m0.5-0.5h0m1 1h0m1 0.5h0m27.5 2.5h0m27-2h0m0.5-1.5h0m-5.5 5.5h0m4.5 0h0m-36 7.5h0m3-4h0m5.5 2.5h0m21-2h0m2 3.5h0m-32 4.5h0m25.5 0.5h0m-26.5 15h0m1-1.5h0m30 0h0m-34.5 5h0m2-1h0m17 2.5h0m2-4h0m-23 8h0m21-0.5h0m-20.5 12h0m-1.5 3h0m5 1.5h0m1.5-2h0m11 1.5h0m1-0.5h0m5.5-2.5h0m-25.5 8h0m2-2h0m3-2h0m7.5 0h0m5 1.5h0m0.5 1.5h0m1.5-2.5h0m0.5 1.5h0m3-1h0m-25 9h0m3 0.5h0m2.5 0.5h0m-6.5 6h0m1.5 3h0m2.5-4.5h0m-6 8h0m1.5 1h0m2 0h0m0-2.5h0m-4 5.5h0m3.5 0.5h0m-3 4h0"/></defs>
<defs><path id="q13" d="M198 141h0m2.5-1h0m3.5 0.5h0m4 1.5h0m0.5 0h0m1 0.5h0m-7.5 2h0m6 2h0m1-3.5h0m0.5 4.5h0m-3 4.5h0m0.5-1.5h0m0.5-1h0m0 0.5h0m0.5 0h0m0-2h0m1-0.5h0m0.5 0.5h0m0 0.5h0m0 4h0m0-3.5h0m0.5 1.5h0m4 1.5h0m-14.5 5h0m5.5 0h0m0.5-4h0m2 2h0m1 2.5h0m0.5-0.5h0m0-4h0m0.5 0h0m1.5 4h0m0.5-0.5h0m0.5-2h0m3.5 1.5h0m1.5 0h0m1.5 1h0m0.5-2h0m-18 6.5h0m4-3h0m0 1h0m0.5 3h0m0.5-0.5h0m1.5-1.5h0m0.5 1.5h0m0.5-3h0m0-1h0m0.5 3.5h0m0-3.5h0m0 0h0m0.5 3h0m0-1h0m5.5-2h0m0.5 4h0m1.5-3.5h0m16.5 2.5h0m15.5-1.5h0m-52.5 3h0m5 3.5h0m2 0.5h0m2 1h0m0.5-4h0m1 3.5h0m0.5-3.5h0m1.5 1.5h0m2 1.5h0m5-1h0m2-1h0m0 2h0m11-0.5h0m4.5-2.5h0m3.5-1h0m5.5 4.5h0m-40.5 5h0m0.5 0h0m0.5-3h0m0 0.5h0m0.5 3h0m0-5h0m2.5 2.5h0m0.5 2h0m0.5 0h0m0.5 0.5h0m0.5-5h0m2 3h0m0.5 2h0m0.5-3h0m0.5 2.5h0m0.5-4h0m0.5 2.5h0m0-1h0m0 1h0m1 0.5h0m1.5-0.5h0m6-1h0m3 2.5h0m19.5-4h0m-46 6.5h0m4 2h0m0.5 1h0m1-4.5h0m0.5 3h0m1 0h0m0.5 0h0m1-0.5h0m0.5 0h0m0-1.5h0m0.5-0.5h0m1 2.5h0m1-0.5h0m1-2h0m0 2h0m0.5 1.5h0m0.5-1h0m0.5-2.5h0m0 1.5h0m0-2h0m0 3h0m0-1.5h0m0.5 0h0m1-1h0m0 2.5h0m1 1h0m3 0h0m19-4h0m6 3.5h0m9.5-3.5h0m-59 8h0m1 0h0m4-1h0m2.5 0h0m1-1h0m0 3h0m0.5-1.5h0m0 1.5h0m0.5 0.5h0m0.5-2h0m1.5-3h0m0 1h0m0.5 2h0m0-2.5h0m0 0.5h0m3.5 1h0m1.5 1.5h0m0.5-2h0m1 0h0m1.5 3h0m1-1h0m0.5-1.5h0m1-0.5h0m1-0.5h0m0.5 1h0m0.5 0h0m5 2h0m5-2h0m17.5 0.5h0m-49.5 4.5h0m1.5-1h0m0.5 0h0m2 4h0m0.5-2h0m0.5 0h0m1-2.5h0m0 3.5h0m0-1.5h0m0.5-1.5h0m0.5-0.5h0m0 3.5h0m0-1.5h0m0.5 1h0m0-3h0m0 0h0m0 4.5h0m0.5-5h0m1 2h0m0-1h0m1 1.5h0m0.5 0h0m2.5 0h0m1.5 2.5h0m0.5-4.5h0m0 3.5h0m1-3h0m0.5 3.5h0m0.5-4h0m1.5 1h0m13.5 1.5h0m6-0.5h0m-39.5 7h0m0.5 0.5h0m5.5-4.5h0m1.5 3.5h0m1 0.5h0m0-2h0m0.5 1h0m1-0.5h0m3.5-1.5h0m1.5 3h0m1-3.5h0m5.5 2.5h0m0 1h0m6.5-3h0m7 1.5h0m1-2h0m3.5 1.5h0m3 1h0m1.5 0h0m3.5-3h0m3.5 0.5h0m-53 4.5h0m3.5 4.5h0m3.5-4h0m1.5 2h0m1 1.5h0m0.5 0h0m0.5-4.5h0m0.5 0.5h0m0.5 0.5h0m1-1h0m0.5 0.5h0m1.5 3.5h0m0-2h0m0-2h0m1 2.5h0m0.5-2.5h0m0.5 2h0m0-2h0m0.5 0h0m1 1h0m4.5-0.5h0m1 1.5h0m25.5 1h0m3 1h0m3-4h0m-59.5 6.5h0m7-0.5h0m1 3.5h0m0.5-1h0m0.5-1.5h0m1.5 0.5h0m1 0h0m0.5 2h0m0.5-2h0m0.5-1h0m0.5-0.5h0m0 3h0m0.5-4h0m0.5 3h0m0.5 2h0m1-2h0m1-1.5h0m1-0.5h0m0.5 3h0m5.5-0.5h0m4-0.5h0m12.5 1h0m5.5-3h0m5 0h0m-43 8h0m2-2h0m0.5-1h0m2.5-1h0m0 2h0m1 2h0m1-0.5h0m0.5-2.5h0m0.5-1h0m1.5 3h0m0-1.5h0m6.5 3h0m1-0.5h0m0.5 0h0m2.5-1.5h0m5 0h0m13.5 2.5h0m1-2h0m-46 4h0m4.5 2.5h0m2-3.5h0m0.5 2.5h0m0 0h0m0.5-2h0m0 0h0m1 0h0m0.5 3h0m1-3.5h0m0 1.5h0m2.5-2h0m0.5 3.5h0m0-2h0m0.5 1.5h0m0.5 0.5h0m0-3.5h0m0 1.5h0m0-0.5h0m0 0.5h0m3 1.5h0m6.5 0.5h0m2-0.5h0m12.5-1h0m2 1h0m0.5 0h0m-35 4.5h0m1.5 2h0m0.5-4.5h0m0.5 3h0m0 1h0m0-0.5h0m0-1.5h0m0.5-1h0m2 2.5h0m0.5-2h0m0-1.5h0m2.5 2.5h0m1.5-1.5h0m3 3.5h0m2 0h0m13-5h0m7.5 2h0m-38 6h0m1.5-2.5h0m2 3.5h0m0.5 1h0m0-4h0m1 3.5h0m0-3h0m0.5-1h0m0 2.5h0m0-2.5h0m0 3h0m1 0.5h0m0-4h0m0.5 3.5h0m0.5 0.5h0m1 0h0m0.5-3h0m0.5-0.5h0m0.5 2.5h0m13.5-2h0m6.5 1.5h0m-28 3.5h0m1 0.5h0m0.5 1h0m1-1h0m0.5 0.5h0m1.5 0.5h0m0-2h0m0.5 3h0m1-3h0m0.5 4h0m0.5-0.5h0m0.5 0h0m6.5-4h0m4 0.5h0m0.5 2.5h0m0.5-2h0m-19 7h0m0.5 0.5h0m0 0h0m0-2h0m3.5 2h0m0.5 0h0m0-0.5h0m1-3h0m0.5 2.5h0m1-1.5h0m0.5 3.5h0m1-2h0m0.5-0.5h0m5.5 1h0m5-1.5h0m0 2.5h0m0.5-3h0m-27.5 6h0m7.5 3h0m3.5-3.5h0m1 0.5h0m3.5 3h0m7-3h0m3-0.5h0m0.5 1.5h0m1 0.5h0m3.5-0.5h0m2-1.5h0m-36.5 5.5h0m0.5 1.5h0m10.5-1.5h0m19.5 0.5h0m1-1h0m1 2.5h0m-32.5 5.5h0m4.5-3h0m4 2h0m2.5 0h0m0.5-3.5h0m16 1h0m2 0.5h0m0.5 0h0m-30 5.5h0m8.5-1h0m2.5 3h0m1.5-3.5h0m0.5 3.5h0m9-3.5h0m-15.5 8.5h0m1.5 1h0m1-2h0m0-1.5h0m0.5 3h0m21.5-1h0m-31 9.5h0m3.5-3h0m4 4h0m0.5-1h0m-12.5 2.5h0m10.5 2h0"/></defs>
<defs><path id="q14" d="M228.5 100h0m10 6h0m-31.5 40.5h0m4.5 5.5h0m-4 2.5h0m1-1.5h0m11.5 2h0m-2.5 6h0m0.5 1.5h0m3-5h0m0.5 5h0m0-0.5h0m0.5-4h0m0.5 2.5h0m1-0.5h0m0 1h0m1 0h0m0 0.5h0m0-3h0m1 0.5h0m0.5 2h0m2 0h0m0 1h0m0 0h0m1.5-0.5h0m0.5-1h0m0.5 1h0m0.5-0.5h0m1 0h0m1.5-1h0m0.5 1h0m0 1.5h0m1.5-2.5h0m0.5 2h0m0-1.5h0m1.5 2h0m11.5-3.5h0m-45 5.5h0m0 2.5h0m1.5 0h0m0-3h0m4.5 0.5h0m0 2h0m0 1h0m5-4h0m4.5-0.5h0m2.5 1h0m0 1.5h0m1 0.5h0m0.5 1h0m0-2h0m1 1.5h0m1-1.5h0m0.5 0h0m2.5-1.5h0m1 3.5h0m0.5-1h0m1.5-1.5h0m0 0.5h0m0 0h0m0 0h0m0.5-2.5h0m0.5 4h0m0-4h0m0.5 0.5h0m0 0h0m0.5 3.5h0m0.5-4h0m0 1h0m2 2h0m0.5-1h0m0-2h0m1.5 3.5h0m0.5-1.5h0m1 2h0m0-2h0m0.5 1h0m0.5 0.5h0m0-2.5h0m0.5 3.5h0m0-2h0m0.5 2.5h0m0-4h0m1 1h0m1.5 0.5h0m1 0.5h0m0.5 0.5h0m11 0.5h0m-50 2.5h0m1.5-1h0m1.5 2h0m9.5 0.5h0m0.5 0h0m0.5-3h0m3.5 4.5h0m1.5-4.5h0m1.5 1.5h0m0 0h0m0 2.5h0m0-0.5h0m1-3.5h0m0 5h0m0.5 0h0m1-4.5h0m1.5 1h0m0.5-1h0m0 1.5h0m0.5-0.5h0m0.5 2h0m0.5-3h0m0 4h0m0.5-1h0m0-1h0m0 2h0m1-4.5h0m0.5 1.5h0m0-1h0m3 3.5h0m0-2.5h0m0.5 0h0m1.5 1.5h0m0-2.5h0m0.5 2.5h0m1.5-2h0m0 1h0m0 0h0m0.5 1h0m0.5-1.5h0m0 1.5h0m0.5 0h0m0.5 0h0m1-0.5h0m0-1h0m1.5 1h0m1 2h0m0 0.5h0m0.5-4h0m0 0.5h0m1 0.5h0m0 2.5h0m1-1.5h0m0.5 0.5h0m0 0.5h0m0 0h0m1-2h0m0.5-0.5h0m1 1.5h0m1 0.5h0m1-1.5h0m0.5 1.5h0m0-2.5h0m1.5 2.5h0m0.5-1.5h0m1 0h0m0.5-1.5h0m-54.5 9h0m7-0.5h0m2-0.5h0m0.5-3.5h0m6 2h0m1 1h0m2-2.5h0m0 2.5h0m0.5-2h0m0 0.5h0m0 0h0m1 3.5h0m0.5-4.5h0m0.5 1.5h0m0 0h0m0.5 3h0m0-3h0m0 0.5h0m1 2.5h0m0-1.5h0m0-2.5h0m0 2h0m0.5-2.5h0m1 3h0m0.5 1h0m1-1.5h0m0-2h0m0 2h0m1-1.5h0m3-1h0m1.5 0h0m0.5 4h0m0-1.5h0m0-3h0m0.5 0.5h0m0.5 0.5h0m0-0.5h0m2 3h0m0.5-1h0m0.5 1.5h0m0-3.5h0m0.5 3h0m0-1.5h0m1.5-1h0m2 2.5h0m0.5-2h0m0 0.5h0m1 0h0m1-0.5h0m0.5 0.5h0m0.5 3h0m0-2h0m0-3h0m0.5 4.5h0m0.5-3.5h0m0 2.5h0m1 0h0m0.5 0h0m0 0.5h0m0.5-3h0m0.5 4h0m0.5-0.5h0m0.5-3.5h0m0 1h0m0.5 2.5h0m2-2h0m0-1h0m0 2h0m0.5-2.5h0m0.5 3.5h0m0.5-2.5h0m1-0.5h0m-46 4h0m0 0.5h0m7 0.5h0m4 3h0m0-0.5h0m1.5-1.5h0m0.5 1h0m1.5-1h0m0.5-1h0m0.5 0.5h0m1 1.5h0m0-0.5h0m0.5 0h0m0.5 0.5h0m0 0.5h0m0.5-3h0m0.5 2h0m1 1.5h0m0.5-1h0m0-2h0m2 2h0m0 0h0m1-2h0m0.5 1.5h0m0.5-0.5h0m1-1h0m0 0.5h0m0.5-1h0m0-1h0m0.5 1h0m0 3h0m0.5-3h0m0.5 2.5h0m0 1h0m0 0h0m0.5-2.5h0m1.5 1.5h0m1 1h0m1 0.5h0m1-3h0m0.5-1h0m0 0h0m0 1h0m1-0.5h0m0.5 1h0m2.5-1.5h0m0-0.5h0m1 1.5h0m0.5 3h0m0-5h0m0.5 2h0m0.5-1h0m0-0.5h0m0 1.5h0m0 1.5h0m1-2h0m1 0.5h0m0.5 0.5h0m1.5-2h0m-49 9.5h0m0.5-3h0m0.5-1h0m5 0.5h0m15.5 1.5h0m2-1.5h0m1 0h0m2-1h0m0.5 3.5h0m0.5-1h0m0.5-1h0m0 1h0m1.5-1h0m0.5 1.5h0m1 0h0m1-2h0m0.5 1.5h0m0-3h0m0 4h0m1 0h0m0.5-3.5h0m0 4.5h0m3-4h0m1.5 4h0m0-5h0m0.5 2h0m0.5 2h0m0.5 1h0m0.5-0.5h0m0-2.5h0m0.5 1.5h0m0.5 1h0m0-3h0m1 2h0m0.5-3h0m1 1h0m0-0.5h0m1-0.5h0m1 0.5h0m-32.5 7.5h0m5-2.5h0m1-0.5h0m1.5 0h0m0 3.5h0m0-2h0m0-1h0m1 2h0m0-1h0m0-1h0m0-0.5h0m0.5 1h0m0.5 1h0m0-2h0m1 3h0m0.5-3h0m0.5 3h0m1 1h0m0-3.5h0m0.5 3h0m0.5-3h0m0.5-0.5h0m0.5 4h0m0 0.5h0m0-4.5h0m0 0.5h0m0 1h0m0.5-1h0m1.5-0.5h0m0 0.5h0m0.5-0.5h0m0 0h0m2 1.5h0m1.5-0.5h0m0 3h0m0-3h0m0.5 0h0m0.5-0.5h0m0 0h0m1.5 3.5h0m1.5-3h0m0 1h0m0.5-1h0m0 1h0m0.5 1h0m0-3h0m1.5 3.5h0m-36 2h0m7.5 2h0m1.5-2h0m0.5 3h0m5-1.5h0m1-0.5h0m0.5 0.5h0m0.5 2h0m0-3.5h0m0 1h0m1 0h0m0.5-2h0m0.5 4.5h0m0-3h0m0 2h0m0.5-1.5h0m0 1.5h0m0-3.5h0m2 1.5h0m0-1h0m1 3.5h0m1-2h0m1-1.5h0m0.5 1h0m1 3.5h0m2.5-1.5h0m0-2.5h0m0.5 3.5h0m0 0h0m1-0.5h0m1-1.5h0m0 1.5h0m0-3h0m0.5 1h0m1.5 0.5h0m0.5 0h0m1.5 0h0m0-0.5h0m0 1h0m1.5-1h0m0 0h0m0 1.5h0m0 0.5h0m0.5-4h0m0.5 1.5h0m-44 7h0m0.5 0.5h0m14.5-1.5h0m2-1h0m3.5 1.5h0m0 1h0m0.5-0.5h0m0-1h0m0-0.5h0m2 0.5h0m1.5 0.5h0m0.5-0.5h0m0.5 0h0m0 0.5h0m0-1h0m1.5 0h0m0 1.5h0m0.5 0.5h0m0-1.5h0m0.5 1.5h0m0 0h0m1.5 0.5h0m0-4.5h0m0 0.5h0m0 3h0m0.5-3h0m1 4h0m0-2.5h0m0.5-2h0m0 2h0m1 1h0m0-1h0m2.5-0.5h0m0 3h0m0.5-3h0m0.5 1h0m0 2h0m0.5-2.5h0m1 0.5h0m1 1.5h0m0.5-2h0m1 0h0m0-1h0m0.5 0h0m0.5-0.5h0m0.5 2.5h0m-43.5 3h0m6.5 1h0m13 0.5h0m1.5-1.5h0m0.5 0h0m1 2h0m0.5-1h0m0 2h0m0.5-2.5h0m0.5 0.5h0m0 2.5h0m0.5 0h0m0-1h0m0.5-0.5h0m0.5 1h0m0-1h0m0.5-1.5h0m0.5 1.5h0m0-3h0m1 1.5h0m0.5 2.5h0m0-2h0m0.5 0h0m0.5-1h0m0-0.5h0m2 1h0m0 2h0m0.5-3.5h0m1 3h0m0.5 0.5h0m0-0.5h0m0-1.5h0m0.5 3h0m0.5-3h0m0 3h0m0.5-2h0m0.5 0h0m0.5 0.5h0m0-2h0m1 1.5h0m0.5 1h0m0.5 0h0m0-2h0m0.5-0.5h0m1.5 0.5h0m1 0.5h0m1.5-1h0m-44.5 6.5h0m18.5 1.5h0m0.5-2.5h0m0.5 1.5h0m0.5 0.5h0m0-1h0m0.5 1.5h0m0-2.5h0m1.5 0h0m1.5 0h0m0 3h0m0.5-1h0m0 1h0m0.5-2h0m0-2.5h0m1.5 3h0m0 0h0m0-0.5h0m1 2h0m0.5-4h0m2.5 3.5h0m0-1h0m0.5 2h0m0.5-0.5h0m0.5 0.5h0m0-3.5h0m1 3h0m0.5-3h0m0-1h0m0.5 3h0m0.5-2h0m0 0h0m0.5 3h0m1-4.5h0m1.5 2h0m-37 3h0m1.5 3.5h0m1.5 0h0m14 1.5h0m0.5-1h0m1-2h0m0.5 0h0m1 3h0m0-1h0m0.5 0h0m0.5 0h0m0.5-1h0m1 0.5h0m0 0h0m0-3h0m0.5 2.5h0m0-0.5h0m0 1.5h0m0 1h0m1-2.5h0m0.5 2h0m1-4h0m0.5 1.5h0m1 2.5h0m0.5-0.5h0m0-3h0m0.5 0h0m1.5 3.5h0m1-4h0m-14 7h0m1 2h0m1-1h0m0 1h0m2-0.5h0m2.5-2h0m0-1h0m1.5 1.5h0m1-1.5h0m0.5 2.5h0m0.5-1h0m1.5 1.5h0m-25 5h0m0.5-0.5h0m1.5-2.5h0m11 2h0m1-0.5h0m0.5 0h0m0 1h0m0.5-1.5h0m0.5 2.5h0m0 0h0m0-1h0m0.5-2h0m1 0h0m1.5 1h0m0 1h0m0.5-1h0m3-0.5h0m1-2h0m-29.5 8h0m8 1.5h0m9.5 0h0m3-3h0m0 0.5h0m0.5 1h0m0-1h0m2 1h0m0-1h0m0 0.5h0m1 1.5h0m1.5-1h0m1-1h0m-29 5h0m0.5-1h0m1 2h0m3-2h0m0.5 1h0m0.5-2h0m1.5 3.5h0m2-2.5h0m0 3h0m8.5 1h0m3.5-4.5h0m1 3h0m1 0h0m-23.5 5.5h0m2.5 0h0m1.5-3.5h0m0 3h0m0.5 1.5h0m2-0.5h0m1-0.5h0m0.5-2.5h0m0 2.5h0m0-2.5h0m0 3.5h0m0.5-4h0m6 1.5h0m0 0h0m4.5 0h0m0.5-2h0m4-0.5h0m0.5 2.5h0m-25 6.5h0m2-3h0m0.5 0.5h0m0 2.5h0m0-1.5h0m1-1.5h0m0 1h0m1.5-1h0m0 2.5h0m0.5-2h0m1.5 3.5h0m13-0.5h0m1-3.5h0m0 3h0m1.5-2.5h0m0.5-1h0m-22.5 7.5h0m0.5 1.5h0m2.5-3h0m0-0.5h0m1 0.5h0m12 3h0m5.5-2.5h0m1 1h0m-24.5 5.5h0m1 1h0m1-3.5h0m1 2h0m0 1.5h0m21-2.5h0m-23.5 4.5h0m1-1.5h0m0.5 4.5h0m0.5-4.5h0m0.5 1.5h0m22.5 2h0m1 1.5h0m-27.5 1h0m1 1.5h0m0 2h0m1-2h0m-3.5 6h0"/></defs>
<defs><path id="q15" d="M204.5 110h0m4.5 2h0m-1 23.5h0m-9 5.5h0m3 0.5h0m0-0.5h0m0.5 1h0m-5.5 4.5h0m1.5-3h0m0.5 3h0m0.5-2h0m2 3h0m0.5-3h0m3.5 2.5h0m0.5-3h0m-8.5 4h0m0 3.5h0m0-1.5h0m0.5 1h0m2.5-3h0m1 2h0m0 2h0m0-4h0m0.5 1h0m0.5 1h0m1 1h0m0.5-3.5h0m1 0.5h0m0.5 3h0m-6.5 5h0m0-2h0m0 1h0m2 0h0m0-2h0m2 0.5h0m0.5 3.5h0m0.5-2.5h0m0.5-1.5h0m-5.5 8.5h0m0-3.5h0m0.5 3.5h0m0.5 1h0m1.5-0.5h0m1.5-0.5h0m0 0h0m1-1h0m-8.5 6h0m1.5 0h0m0.5 0h0m1.5-3.5h0m0 4h0m-2.5 4h0m0-2.5h0m1 2h0m0.5-2h0m0.5 0h0m1 2.5h0m0.5-1h0m0 0h0m1.5 1.5h0m-5.5 2h0m1.5 2.5h0m2.5-3.5h0m1.5 0.5h0m-11 9h0m1-2h0m0 1.5h0m0.5-1.5h0m0.5-0.5h0m1 0h0m0-0.5h0m1-0.5h0m1 2.5h0m0 1.5h0m0.5-0.5h0m0.5-1.5h0m0.5 0h0m0 1h0m3.5-3.5h0m-9 8h0m1-2.5h0m5-0.5h0m0.5 4.5h0m-7.5 3.5h0m0.5-1.5h0m2.5-1h0m1.5 3h0m2-1.5h0m-4 4.5h0m0.5 2.5h0m0.5 0h0m1 0h0m0-3h0m0-1h0m1.5 4h0m0.5-0.5h0m-8 2h0m1 4h0m0.5-5h0m1 1.5h0m1.5 2.5h0m1 0.5h0m3-3h0m-9 6.5h0m0.5-1h0m0-0.5h0m0.5 0h0m0 2h0m0.5-1.5h0m1 1h0m2-2h0m0.5-1h0m1 0.5h0m0.5 1h0m0 0.5h0m-8 6.5h0m2-0.5h0m0.5 1.5h0m0-2.5h0m1.5 3h0m3.5-1h0m0.5-0.5h0m1.5-3.5h0m-8.5 6h0m4 1.5h0m1.5-1h0m-4.5 8h0m0.5 0h0m2-3.5h0m0.5 3.5h0m0.5-1.5h0m0.5 0h0m0.5 0.5h0m0 1h0m0.5-0.5h0m0-1h0m-6 4.5h0m0-1h0m1 3h0m2-1.5h0m-5 6.5h0m0.5-3h0m0.5 2h0m0.5 0.5h0m2 1h0m-5 3.5h0m1-1h0m2 1h0m1-3h0m0 1h0m1.5 3.5h0m0.5-0.5h0m0 0h0m0.5-1.5h0m-10.5 7h0m0-0.5h0m1-0.5h0m0.5-0.5h0m2 1h0m0 0.5h0m0-1.5h0m0.5-1.5h0m0.5 2h0m0-1h0m2-2h0m1 0h0m-11 7.5h0m1-0.5h0m0.5 1.5h0m3.5-2.5h0m4-0.5h0m1 2h0m3-2.5h0m0-1h0m-12 6h0m0-0.5h0m1 4h0m1.5-2h0m0.5-0.5h0m0.5-1h0m0.5 3h0m0 1h0m0.5-1.5h0m0-3.5h0m1.5 3h0m0-2.5h0m0-0.5h0m1 0h0m0.5 4h0m0-2.5h0m1-0.5h0m0.5 0h0m1 1.5h0m1-1h0m0.5-1h0m-13.5 5h0m1 0.5h0m0.5 2h0m0.5 2h0m0.5-1h0m0.5 1h0m1-3.5h0m0.5 3h0m1-3h0m1 0.5h0m0.5 0.5h0m0.5 1h0m0 0h0m-7.5 5.5h0m1.5-0.5h0m0.5-0.5h0m0.5 0.5h0m0.5 1.5h0m1-3.5h0m0 3.5h0m1-2.5h0m1-1.5h0m0 0.5h0m0 2.5h0m0.5-1h0m1 1.5h0m1-4.5h0m0 4h0m0-2h0m0.5 2.5h0m1.5-4.5h0m0.5 3h0m0 0.5h0m-12 4h0m0.5 0h0m0.5 0.5h0m0.5 0h0m0 1h0m0.5-1h0m1.5-2.5h0m1 1h0m0-1h0m1.5 2.5h0m0 1.5h0m0-1h0m3-1h0m0.5-1.5h0m0-0.5h0m0 3.5h0m1-2h0m0.5 1h0m0 1.5h0m-9 2h0m0 0.5h0m1 0h0m3 1h0m0 0.5h0m1 0.5h0m0.5-3.5h0m0.5 0h0m0.5 2h0m1-2h0"/></defs>
<defs><path id="q16" d="M215 95h0m-15 44h0m3 1.5h0m0 2h0m-6.5 2.5h0m2.5-1.5h0m1 1.5h0m0.5 1.5h0m0.5-1.5h0m2-1.5h0m-7 9h0m1-1h0m0.5-1h0m1-2.5h0m0.5 1.5h0m0.5 1h0m0.5-2.5h0m0 0h0m0.5 1h0m1-0.5h0m0.5 0.5h0m0.5 1h0m0-1h0m2 0.5h0m0.5 2h0m0 0.5h0m0.5-3h0m-7.5 5h0m1 0h0m0.5 0h0m0 3h0m1.5-3h0m0.5 2h0m0.5-1.5h0m1.5 3h0m0.5-0.5h0m0.5-1.5h0m-6 3h0m0.5-0.5h0m1.5 3.5h0m-2.5 4.5h0m3-0.5h0m1 0h0m0.5 0.5h0m-6.5 2.5h0m2 2.5h0m0.5 0.5h0m0.5-0.5h0m0.5 0.5h0m0.5-2h0m0.5-0.5h0m0 1h0m0.5 0h0m-8.5 4.5h0m1.5 0.5h0m0.5 1h0m0.5 0.5h0m1.5-0.5h0m0.5 0.5h0m1-1h0m1-1.5h0m2 1h0m-10 5.5h0m3.5 1.5h0m0-2h0m0.5 0.5h0m0.5-2h0m0.5 0.5h0m1.5-0.5h0m0.5 2.5h0m-4 3h0m0 3h0m1.5-0.5h0m0.5-2.5h0m1 0h0m0 0.5h0m1-1.5h0m0 3.5h0m1-0.5h0m0 1h0m-7 1.5h0m0.5 3h0m1-4h0m1 2h0m1 0.5h0m1-1h0m1-1h0m0 1.5h0m-8 3.5h0m1 1h0m0 3h0m1.5-3h0m0.5 1.5h0m0-2.5h0m1.5 0.5h0m0.5 0h0m0.5 4h0m1-5h0m-9 6h0m1 3h0m1-3.5h0m0 0.5h0m0.5 0h0m1.5-0.5h0m0 1.5h0m2 0.5h0m1.5 0h0m-4.5 6.5h0m0.5 0.5h0m0-2h0m3 2h0m1-3.5h0m0.5 3h0m1-2.5h0m-9 4h0m6.5 2h0m2.5-2.5h0m-6 7.5h0m0.5 2.5h0m0.5-2h0m0-1.5h0m0.5 0.5h0m0 1.5h0m0.5 0.5h0m0.5-1.5h0m0.5 0.5h0m0.5-1h0m1-1h0m-6 6.5h0m2.5-1h0m0.5 1.5h0m0.5 0h0m0.5 0.5h0m0.5-1h0m-7.5 7h0m2-4.5h0m0.5 3h0m0-2.5h0m0.5 1h0m0.5 1h0m1.5 1h0m1-1h0m0 1h0m0.5-1h0m0.5-0.5h0m-7 4.5h0m1 3h0m2-2.5h0m1.5-1h0m0 2h0m1 1.5h0m-10.5 4h0m5-1.5h0m2 1h0m-3 6h0m6-2h0m-10.5 7.5h0m4.5-3.5h0m2-0.5h0m-1 6h0m-8 7h0m0-1h0m1-0.5h0m-2.5 4h0m4 1h0m1.5 0h0m0.5 0h0m0.5 1.5h0m0.5 1h0m1-3.5h0m-6 6h0m1 2h0m0-4h0m1.5 4.5h0m1-3h0m2-1h0m-9 7h0m4-1h0m0.5 2h0m3-0.5h0m0.5-1.5h0"/></defs>
<defs><path id="q17" d="M435 260h0m21-1.5h0m1 3.5h0m-4 5h0m7-2.5h0m-7 3.5h0m5 1h0m-31 5h0m14.5 4.5h0m6 4h0"/></defs>
<defs><path id="q18" d="M456.5 252.5h0m-4 7.5h0m-28.5 7h0m1 0h0m5-4.5h0m8.5 4.5h0m9-2h0m6 2h0m-38 3h0m1.5 1.5h0m0 0.5h0m1-1.5h0m2-1.5h0m0.5 1h0m0.5 1h0m0.5 0h0m1.5-0.5h0m1.5 1h0m1-3h0m12 0h0m3.5-0.5h0m1.5 4.5h0m0.5-3h0m4 2.5h0m12-2.5h0m4-1h0m0.5 1h0m-54.5 7.5h0m0.5 0.5h0m1.5-1.5h0m0-0.5h0m1.5-2h0m0.5-0.5h0m0.5 0.5h0m0.5 2h0m0-1h0m0.5 0h0m2 0h0m0-1h0m0.5 2h0m0-1h0m0.5 2h0m1-2.5h0m0.5 1.5h0m1 0h0m0.5-2h0m1 2.5h0m0-1.5h0m1 2.5h0m0.5-1.5h0m0 0h0m0.5-0.5h0m0.5 0.5h0m1 2h0m0-4.5h0m0 3.5h0m1-1.5h0m1.5 1.5h0m14.5 0h0m8-1.5h0m7 1.5h0m-55.5 5h0m3.5-1.5h0m0.5-2h0m0 1.5h0m1 1.5h0m0 1h0m1 0.5h0m0.5-3.5h0m1.5 0.5h0m0.5 2h0m0.5-2.5h0m2 1h0m1-1h0m0 2h0m0 0h0m0.5 0h0m0.5-2.5h0m1 1.5h0m1-1.5h0m0.5 2.5h0m0-0.5h0m0.5 1h0m0.5 0h0m1 1h0m0-4h0m3 1.5h0m1.5-1.5h0m1 0h0m1.5 2h0m23 2h0m-48 2.5h0m3-2.5h0m1.5 2.5h0m0-0.5h0m0.5-2h0m1.5 4.5h0m0-4h0m0.5 1.5h0m0.5 1.5h0m1.5-2.5h0m0-1h0m0.5 4.5h0m1-1h0m0-0.5h0m2-1h0m0 1.5h0m1-3h0m0.5 2.5h0m0 1.5h0m1.5-3h0m1-0.5h0m3-0.5h0m0 1h0m1 0h0m23.5 2.5h0m2.5-1.5h0m3.5-1.5h0m4 1.5h0m-53.5 4h0m5 0h0m0 0h0m1-1h0m0-0.5h0m1 0.5h0"/></defs>
<defs><path id="q19" d="M453.5 252.5h0m-13 4.5h0m4.5-1.5h0m4 0.5h0m4-1h0m3.5-1.5h0m1.5 2.5h0m0-2h0m-23 8h0m0.5-1.5h0m1-2h0m0.5 0.5h0m2.5 3h0m4.5-1h0m3-0.5h0m0.5 0h0m2.5-2.5h0m5 2h0m0-1.5h0m4 0.5h0m1 1.5h0m3 1.5h0m-37 3.5h0m1.5-1h0m1.5 1.5h0m1-1h0m3.5 0h0m0.5-1.5h0m0 3.5h0m0.5-2.5h0m5 0.5h0m0.5 1h0m0.5-1.5h0m2.5 0.5h0m0.5 1.5h0m0.5 0.5h0m5-2h0m1 0h0m1.5 0.5h0m0-0.5h0m3.5-1h0m2 0.5h0m1.5-0.5h0m0 1.5h0m2 0.5h0m0.5-2.5h0m0.5 1.5h0m1-1.5h0m3.5 1h0m-38 3.5h0m4 4.5h0m0.5-2.5h0m5.5-1h0m0 0h0m3.5 3h0m3-2.5h0m0.5-0.5h0m0.5 2.5h0m7-1h0m2-1h0m6.5-1h0m0.5 1.5h0m1.5 0.5h0m4.5-3h0m-41 8.5h0m2.5-2h0m3.5 2h0m0-2h0m1.5 3h0m2-2h0m0 0.5h0m0-2.5h0m4 2h0m2.5 1h0m2.5-2h0m5.5 1.5h0m0.5-3h0m1.5 2.5h0m2.5-2.5h0m26 1h0m-53.5 8h0m4-3.5h0m3 0h0m0.5 2.5h0m4-2h0m2 2h0m0.5 1.5h0m0-2.5h0m0.5-1h0m2.5 2h0m1 0h0m0 1.5h0m1.5-1h0m1.5-1.5h0m0-0.5h0m0 2h0m0.5-1h0m2 1h0m0-3.5h0m2 4h0m-10.5 5.5h0m3-2h0m4-2h0m2.5 0h0m-6 6.5h0m2 1.5h0m0.5-3h0m0 1h0m1.5-1h0"/></defs>
<defs><path id="q20" d="M457 252h0m0.5 0.5h0m-8.5 5h0m0-2h0m1.5 0h0m2.5 0.5h0m1.5 0h0m1 1h0m0.5-1.5h0m1.5 2h0m2-0.5h0m10-0.5h0m-36.5 3h0m5.5 1h0m5.5-2.5h0m0.5 4h0m0.5-2.5h0m0.5-1h0m0 0h0m0 2h0m1 0.5h0m0 1h0m1-1.5h0m0.5 1h0m0-1.5h0m0-0.5h0m3 1.5h0m2-3h0m0 3.5h0m3-0.5h0m0.5 0.5h0m1.5 1h0m0 0h0m0-3.5h0m1.5 1h0m0.5 2h0m1-1.5h0m0.5-1h0m0.5 2.5h0m0.5 0h0m-33 4h0m0 0.5h0m0.5 0.5h0m0.5-2.5h0m2 1h0m0.5-2.5h0m2 2.5h0m1-2h0m1-1h0m2.5 5h0m2-1.5h0m5.5 1h0m1-2h0m2.5-2h0m0 2.5h0m2-2.5h0m0.5 0.5h0m1 0.5h0m0.5 1h0m0 1h0m3-3h0m4 0h0m4.5 4.5h0m-39.5 2h0m0.5 0.5h0m0.5 1.5h0m6.5 0.5h0m0-3.5h0m1 2.5h0m1.5-0.5h0m2.5-0.5h0m1 0.5h0m1 2h0m0-2.5h0m0 1.5h0m2-3h0m0.5 2.5h0m2-0.5h0m1-2h0m2 1.5h0m0.5-0.5h0m1 3h0m0.5-3.5h0m0-0.5h0m2 3.5h0m1-1.5h0m3-0.5h0m1 1h0m4-1.5h0m0 1.5h0m3 0.5h0m0.5-0.5h0m1-1.5h0m7.5 0.5h0m3.5 1.5h0m-48 3.5h0m0.5-2.5h0m0.5 4.5h0m0.5-3h0m0-0.5h0m0-0.5h0m1 2.5h0m0 0h0m5 1h0m1.5-2h0m3.5 2.5h0m0.5 0h0m3-4h0m0 1.5h0m1-0.5h0m1 2h0m0.5-1.5h0m0.5-1.5h0m0.5 3.5h0m1.5-0.5h0m1-1.5h0m0 0.5h0m1-1h0m8 0.5h0m-33 3.5h0m0.5 1h0m0 1h0m0 0.5h0m0-1.5h0m0.5-1h0m5 0h0m0.5-0.5h0m1.5 0h0m4.5 1h0m0.5 3h0m0-2.5h0m1-1h0m2.5 2h0m1.5-0.5h0m0.5 1.5h0m0.5-3.5h0m2 2.5h0m3.5 2.5h0m-47.5 2h0m4 0.5h0m0 1h0m35.5-0.5h0m0.5 0h0m1-1.5h0m0.5-0.5h0m1 3.5h0m2 0h0m0.5 0h0m1-3h0m0.5 0.5h0m0 0h0m1-1h0m0 1h0m-46 3h0m37 0.5h0m3.5 2.5h0m0 0h0m2-2.5h0"/></defs>
<defs><path id="q21" d="M454.5 254h0m-17 6.5h0m5.5 0.5h0m7 0h0m-14.5 2h0m21 2.5h0m-16 7h0m4.5 12h0"/></defs>
<defs><path id="q22" d="M316 401h0m-23 7.5h0m20.5 2.5h0m1.5 1h0m7 0h0m4-4.5h0m-28 9h0m9.5-1.5h0m0.5 2.5h0m12-3.5h0m2.5-0.5h0m6.5 2h0m-39.5 6h0m4.5-0.5h0m4.5 3h0m13.5 2.5h0m4.5 0.5h0"/></defs>
<defs><path id="q23" d="M295.5 398.5h0m21.5 4h0m-8.5 4h0m9.5-2.5h0m0-1h0m3 3.5h0m4-1.5h0m1 2h0m-32 3h0m2-1h0m1.5 3h0m0.5-4h0m0.5 2h0m7-2h0m13 1h0m0 3h0m3.5-1h0m5.5-3h0m2 3.5h0m-30.5 3.5h0m1-2h0m0.5 2h0m0-0.5h0m1-1h0m1.5 3.5h0m3.5-3h0m0.5-1h0m7.5 1h0m0 0h0m2.5-1.5h0m3 2h0m0.5 1h0m1 0h0m0 1h0m1-2.5h0m1.5 3h0m1-2.5h0m2 2h0m1-0.5h0m-36.5 4h0m3.5-0.5h0m0.5 2.5h0m2.5-2.5h0m23-1h0m1.5 0.5h0m-39 5h0m4.5 2.5h0m1.5-4h0m1 1h0m2.5 0.5h0m19.5 1.5h0m2 0h0m7-1.5h0m3 2.5h0"/></defs>
<defs><path id="q24" d="M292.5 397h0m0.5 1h0m22 4.5h0m2-1h0m5 0h0m-26.5 4h0m1-1h0m13.5 1.5h0m4-2.5h0m0 0h0m4 0h0m2 4h0m5-4.5h0m1.5 3h0m-33 1.5h0m4.5 2.5h0m1 0h0m7.5-2h0m0.5 2h0m3.5 0.5h0m1 1.5h0m1-1h0m0.5 1h0m3.5-0.5h0m0.5 1h0m4.5-3h0m0.5-1.5h0m0.5 2h0m1 2h0m0-2.5h0m1.5 2.5h0m3-4h0m-36 8h0m0.5-1.5h0m2.5-0.5h0m1.5-1.5h0m0 0.5h0m1 1.5h0m2-0.5h0m4 0h0m2 0.5h0m1.5 0h0m2.5 0h0m1 1h0m0.5-1h0m0.5 1.5h0m3-3h0m1.5 0.5h0m1 0h0m5 0h0m0 0.5h0m5.5-0.5h0m-38.5 6.5h0m0.5 1h0m2-1h0m1.5 0.5h0m5.5-3h0m1.5 0h0m1.5 1.5h0m1 0.5h0m17.5 1.5h0m4 0h0m3.5 1h0m1-3h0m-44 3.5h0m0.5 2.5h0m0.5-1.5h0m0.5 1.5h0m0 1h0m0.5 0.5h0m2-2.5h0m1 2h0m3-3h0m0.5 3.5h0m0-3.5h0m2 1.5h0m1 1h0m4 1.5h0m7-2h0m2 0.5h0m3-1h0m4 3h0m0.5-1.5h0m0.5-0.5h0m0.5-3h0m0.5 4.5h0m0.5-3.5h0m2.5 1.5h0m0.5 0h0m3-0.5h0m3-1h0m0 3h0m2-3h0m-35 8h0m3-2.5h0m0 0.5h0m0-2h0m0 1.5h0m0.5-1h0m0.5 1.5h0m1-0.5h0m0-1h0m1 1h0m0.5-1h0m0.5 0.5h0m2 4h0m0.5-2h0m1.5 0h0m0.5 0h0m0-1.5h0m0.5-1.5h0m1 0h0m0 2h0m0.5 1.5h0m0-3.5h0m0.5 2h0m0-1h0m0.5 3h0m1 1h0m0.5-4h0m0.5 3h0m0.5-3h0m0.5-0.5h0m0 2h0m0.5 0.5h0m0.5 0.5h0m0.5-0.5h0m1-1h0m1-1.5h0m0.5 3.5h0m0 0h0m1-1h0m0 1h0m0.5-2.5h0m1.5-1h0m0 3h0m1.5 0h0m0 0h0m0.5-2.5h0m0.5-0.5h0m1 3.5h0m0.5-1.5h0m0.5-1.5h0m0.5 1h0m1 0h0m0.5 1.5h0m3-1h0m0-0.5h0m-28 3h0m2 1.5h0m1 0h0m2-1.5h0m4 1h0m0.5-0.5h0m3 0h0m0.5 1h0m0.5-0.5h0m0.5 2h0m1.5-2.5h0m1 0.5h0m1.5-0.5h0m3.5 0h0"/></defs>
<defs><path id="q25" d="M292.5 395h0m6 6h0m15 1.5h0m9.5-0.5h0m-29 1h0m0.5 3.5h0m3.5-1h0m3 0h0m8 2h0m4-2h0m1-1.5h0m0.5 0h0m0.5 2h0m1 1h0m1.5-4.5h0m2 0.5h0m1 2.5h0m0.5-1.5h0m0.5 1.5h0m0.5-1.5h0m0.5 0.5h0m0-0.5h0m1.5 2h0m1 0.5h0m2-3h0m-30.5 8h0m0-2.5h0m1 2.5h0m0.5-0.5h0m5 0.5h0m0.5 0h0m4.5-2h0m3.5-1.5h0m0 3h0m2 0h0m0-3h0m11.5 1h0m3 0.5h0m-37 7.5h0m1.5-1.5h0m2-2h0m2 2.5h0m0.5-3h0m0.5 1.5h0m1.5 3h0m1-2h0m1-0.5h0m1-2h0m5 4h0m2-1.5h0m3.5 1.5h0m1.5-2.5h0m3.5-1.5h0m5 2.5h0m0-0.5h0m1-0.5h0m0.5 1.5h0m2.5-3h0m1.5 4h0m-39 0.5h0m0 3.5h0m0.5 0.5h0m1.5 0h0m3-2.5h0m2.5 0h0m0.5 0.5h0m2-1h0m7.5 1h0m14 1.5h0m4-2h0m2-0.5h0m0 3.5h0m3 0.5h0m-44 4h0m0.5-0.5h0m1-1.5h0m1.5-1h0m5 3.5h0m2-2.5h0m2 2.5h0m2.5-4.5h0m1.5 2.5h0m0 1.5h0m0.5-3h0m11 1.5h0m3.5-1h0m0.5 3h0m1-2.5h0m3.5 1.5h0m0.5-0.5h0m2 0h0m2-1.5h0m1-0.5h0m0 0h0m0.5-0.5h0m0 3.5h0m0-3h0"/></defs>
<defs><path id="q26" d="M290.5 427.5h0m-4.5 0h0m3 2h0m0.5-1.5h0m2.5 1.5h0m7 2.5h0m2-1h0m0.5-2.5h0m1-0.5h0m5 1.5h0m0.5 1.5h0m0.5-1.5h0m1-1.5h0m1-0.5h0m2.5 4h0m0-1.5h0m1 0h0m1-1h0m3 0h0m1 0h0m2.5-1.5h0m-20 5h0m5 1.5h0m9 0h0"/></defs>
<defs><path id="q27" d="M488 253h0m0.5 13h0m10.5 3h0m1 2.5h0m4.5-2h0m0 3.5h0"/></defs>
<defs><path id="q28" d="M478 214.5h0m17 42.5h0m-1 5h0m2.5 4.5h0m1-3.5h0m2 9.5h0m3.5-2.5h0m1 1h0m-1 4.5h0m1.5 2h0m5-5h0m-19 6h0m18.5 0h0m1 1.5h0m1-1h0m1.5 1.5h0m0.5 1h0m-5.5 2h0m2 0.5h0m2 1.5h0m-30.5 3.5h0m27.5 2.5h0m6-1h0m3 2h0m0.5-2h0m-6.5 3.5h0m0.5-1h0m1 3h0m4 1h0m-5 2.5h0m2 1.5h0m5-1.5h0m-5 4h0m6.5-0.5h0m0 1h0m-3 4h0m0.5 2h0m2-1h0m-14 7h0"/></defs>
<defs><path id="q29" d="M492 257.5h0m1.5-1.5h0m-0.5 5.5h0m0.5-1.5h0m0.5-2.5h0m3 4h0m0 1.5h0m0 2h0m2-1.5h0m0.5 2.5h0m0.5 0.5h0m2.5 6h0m0-3.5h0m1.5 2.5h0m-2.5 3.5h0m0.5-2h0m0.5 0.5h0m0.5 1h0m1 1h0m0-1h0m1.5-0.5h0m1.5-0.5h0m2.5 3h0m3.5 1h0m-18.5 4h0m11.5-1h0m0 1.5h0m2-0.5h0m1-3.5h0m0.5 0h0m3.5 4h0m-26.5 5h0m26.5 0.5h0m0.5-0.5h0m2-4h0m0.5 4h0m1.5-4.5h0m0 3.5h0m0.5-0.5h0m0.5-2h0m0 1.5h0m-24 4h0m5.5 2h0m10-0.5h0m0-1h0m0.5 3h0m0.5-2.5h0m0.5 0h0m0 2h0m1-0.5h0m1-1.5h0m1 1h0m2-0.5h0m1 0h0m0-2h0m2.5 4h0m-10 0.5h0m2.5 0.5h0m0.5-0.5h0m1 2.5h0m0-3h0m2.5 5h0m0-2h0m0.5-1h0m0 2h0m0.5-1.5h0m0.5-1h0m3.5 3.5h0m0.5-3.5h0m-8.5 4h0m0-0.5h0m1 3h0m1.5 0h0m0.5-1h0m0.5-1.5h0m1 3.5h0m0.5-2h0m0.5 1h0m0.5 0.5h0m0-2h0m1 3h0m1.5-4h0m-8 7.5h0m0.5-2.5h0m2.5 3h0m1-0.5h0m0.5-1.5h0m0.5 0.5h0m0.5 1h0m1-1h0m-3.5 6.5h0m0-2.5h0m0.5 1h0m0.5 1h0m0.5-1.5h0m0.5-0.5h0m0.5 0.5h0"/></defs>
<defs><path id="q30" d="M492.5 273.5h0m10.5 5.5h0m4 3.5h0m2.5-2h0m-24.5 5.5h0m22.5-1h0m3-2h0m1.5 2.5h0m2.5 3h0m1 2.5h0m2.5-2h0m0.5 0h0m-5 8h0m2.5-4h0m5 1h0m1 2h0m-9.5 3.5h0m2 0h0m6 7h0m0.5 3h0"/></defs>
<defs><path id="q31" d="M488 251h0m1.5 1h0m-0.5 0.5h0m1 1h0m3 2.5h0m0 2.5h0m2.5 0h0m1 5h0m5.5 6h0m4.5 3h0m2.5 4.5h0m4 8.5h0m5.5-0.5h0m1.5 22h0m0 3.5h0"/></defs>
<defs><path id="q32" d="M505.5 257h0m-0.5 1.5h0m4.5 0h0m3.5 2.5h0m0 0h0m2 0.5h0m0.5 0h0m1 3h0m2 2.5h0"/></defs>
<defs><path id="q33" d="M463.5 278.5h0m6 0.5h0m2 0h0m1 2.5h0m2.5-2h0m3.5 0h0m-13.5 3.5h0m0-0.5h0m4 1h0m3.5 0.5h0m0.5 1h0m4.5-2h0m-14 11.5h0m8.5 7.5h0m0.5-0.5h0m2.5-3h0m20.5 2h0m2-1.5h0m-25.5 3.5h0m1.5 1.5h0m2.5-1h0m0.5 0.5h0m-4.5 5h0m1.5 0h0m0.5 1.5h0m0 2.5h0m0.5-5h0m0.5 1.5h0m2 2.5h0m1-2.5h0m0.5 2h0m0-2.5h0m1 1h0m0.5 0h0m0.5-1.5h0m0 3h0m0-3h0m0.5 4.5h0m1-0.5h0m1-1.5h0m0.5 2h0m11.5-4h0m0 1h0m0 2.5h0m-20 1h0m0.5 0.5h0m1-1h0m1 4h0m0.5-3h0m0 1h0m0.5 2h0m0-1.5h0m1 0.5h0m0 1.5h0m0.5-2h0m1.5 0h0m0.5 1h0m1 1h0m0.5-1.5h0m11.5-1.5h0m-17.5 6.5h0m1.5-3h0m0.5 4h0m2-1.5h0m1 0h0m1-2.5h0m0.5 3h0m1-1h0m1 2.5h0m2.5 0.5h0m4-1h0m-8 3h0m2 0.5h0m1 0.5h0"/></defs>
<defs><path id="q34" d="M472 275.5h0m4.5 0.5h0m-13.5 4.5h0m1-1.5h0m0.5-1h0m0.5 0h0m2 3h0m2-2h0m3-1h0m3.5 2h0m0-1h0m0 2.5h0m2.5 0.5h0m-13 2.5h0m0-1.5h0m1.5 4h0m1-2.5h0m6 1.5h0m3.5-3h0m0 0h0m-6 5h0m2 2h0m2-2.5h0m-3.5 9h0m0.5-1h0m1 1.5h0m1.5-4h0m-5.5 6.5h0m1 1.5h0m1-3.5h0m4.5 3h0m21-1.5h0m0 3.5h0m2-3h0m-26 8h0m0.5 0.5h0m8 8.5h0"/></defs>
<defs><path id="q35" d="M471.5 277h0m-1.5 3.5h0m1.5-3h0m2 3.5h0m0 0h0m0.5-3h0m0.5 1.5h0m0-1.5h0m0.5 3h0m9 1.5h0m-18 4.5h0m0 0h0m1.5-3.5h0m0 2.5h0m2-2h0m2.5 1.5h0m0.5-0.5h0m1.5 2.5h0m-3.5 10h0m1-0.5h0m-3 0.5h0m1 1h0m0.5 2.5h0m2.5 1h0m2.5-1.5h0m0.5 1.5h0m0.5 0.5h0m0.5-1.5h0m0.5 0h0m0 1h0m20-4h0m1 0.5h0m-26.5 6.5h0m1-1.5h0m0.5 0.5h0m0.5 1.5h0m1-2.5h0m1.5 1.5h0m1.5-0.5h0m0-1.5h0m1 3.5h0m3 0h0m0-1.5h0"/></defs>
<defs><path id="q36" d="M457.5 292h0m-8.5 5h0m8.5-1.5h0m0.5-0.5h0m-7.5 3h0m0.5 4.5h0m2.5-3h0m2-1h0m-11 7.5h0m5.5-0.5h0m-12.5 11h0m5-3.5h0"/></defs>
<defs><path id="q37" d="M449.5 296h0m3.5 0h0m0.5-3h0m0.5 2h0m2.5 2.5h0m1.5-5h0m-7 7h0m-5 6.5h0m0.5 0.5h0m2.5-3h0m-7 7.5h0m0.5-2h0m0 3h0m0-2h0m3-1h0m3.5-0.5h0"/></defs>
<defs><path id="q38" d="M456 291.5h0m1 0.5h0m-1 1h0m1.5 1.5h0m0.5 2.5h0m0.5-2h0m-7.5 6.5h0m0-0.5h0m1.5 1h0m0-3h0m0.5 2.5h0m1.5-3h0m-7.5 6h0m0 1h0m4-3h0m-11 10h0m2-3.5h0m3 0.5h0m0 1.5h0m5-3h0m-10.5 9.5h0m2-3.5h0m1.5-0.5h0m0 0h0m0.5-0.5h0m-5 6.5h0"/></defs>
<defs><path id="q39" d="M457 295h0m-8 7.5h0m1.5 3h0m-4 6.5h0m-5.5 2h0m-2.5 5.5h0"/></defs>
<defs><path id="q40" d="M453.5 299.5h0m-8 6.5h0m4-3h0m2 1h0"/></defs>
<g fill="none" stroke-linecap="round" stroke-width="2.9">
<use href="#q0" stroke="#F8766D"/>
<use href="#q1" stroke="#F8766D"/>
<use href="#q2" stroke="#F8766D"/>
<use href="#q3" stroke="#D39200"/>
<use href="#q4" stroke="#D39200"/>
<use href="#q5" stroke="#D39200"/>
<use href="#q6" stroke="#D39200"/>
<use href="#q7" stroke="#D39200"/>
<use href="#q8" stroke="#D39200"/>
<use href="#q9" stroke="#93AA00"/>
<use href="#q10" stroke="#93AA00"/>
<use href="#q11" stroke="#93AA00"/>
<use href="#q12" stroke="#00BA38"/>
<use href="#q13" stroke="#00BA38"/>
<use href="#q14" stroke="#00BA38"/>
<use href="#q15" stroke="#00BA38"/>
<use href="#q16" stroke="#00BA38"/>
<use href="#q17" stroke="#00C19F"/>
<use href="#q18" stroke="#00C19F"/>
<use href="#q19" stroke="#00C19F"/>
<use href="#q20" stroke="#00C19F"/>
<use href="#q21" stroke="#00C19F"/>
<use href="#q22" stroke="#00B9E3"/>
<use href="#q23" stroke="#00B9E3"/>
<use href="#q24" stroke="#00B9E3"/>
<use href="#q25" stroke="#00B9E3"/>
<use href="#q26" stroke="#00B9E3"/>
<use href="#q27" stroke="#619CFF"/>
<use href="#q28" stroke="#619CFF"/>
<use href="#q29" stroke="#619CFF"/>
<use href="#q30" stroke="#619CFF"/>
<use href="#q31" stroke="#619CFF"/>
<use href="#q32" stroke="#619CFF"/>
<use href="#q33" stroke="#DB72FB"/>
<use href="#q34" stroke="#DB72FB"/>
<use href="#q35" stroke="#DB72FB"/>
<use href="#q36" stroke="#FF61C3"/>
<use href="#q37" stroke="#FF61C3"/>
<use href="#q38" stroke="#FF61C3"/>
<use href="#q39" stroke="#FF61C3"/>
<use href="#q40" stroke="#FF61C3"/>
</g>
<path d="M212 249.5h0m-14 7h0m-9 10h0m7.5 2.5h0m36.5 145h0" stroke="#00B9E3" stroke-width="2.9" stroke-linecap="round" fill="none"/>
<path d="M217 214h0m-2.5 18.5h0m-4 9.5h0m-2.5 4h0m-22 14.5h0m28 1h0m83 135.5h0m-12 16h0" stroke="#93AA00" stroke-width="3.2" stroke-linecap="round" fill="none"/>
<path d="M314 397h0m0.5 2.5h0" stroke="#00BA38" stroke-width="2.9" stroke-linecap="round" fill="none"/>
<path d="M259.5 129h0m265 16.5h0m-97 87.5h0m69 3h0m-168.5 196h0" stroke="#FF61C3" stroke-width="2.9" stroke-linecap="round" fill="none"/>
<path d="M527.5 153h0m-70.5 90h0" stroke="#00C19F" stroke-width="2.9" stroke-linecap="round" fill="none"/>
<path d="M455 255.5h0m19.5 9.5h0m2.5 13.5h0m-26.5 4.5h0m2.5 9h0" stroke="#D39200" stroke-width="2.9" stroke-linecap="round" fill="none"/>
<rect x="116.1" y="51.5" width="509.9" height="400.9" fill="none" stroke="#000" stroke-width="3.6"/>
<path d="M149.8 452.4L149.8 463.2M237.6 452.4L237.6 463.2M325.3 452.4L325.3 463.2M412.9 452.4L412.9 463.2M500.6 452.4L500.6 463.2M588.4 452.4L588.4 463.2" stroke="#000" stroke-width="3.3" fill="none"/>
<path d="M103.1 130.9L116.1 130.9M103.1 217.6L116.1 217.6M103.1 304.5L116.1 304.5M103.1 391.3L116.1 391.3" stroke="#000" stroke-width="3.3" fill="none"/>
<text font-size="32.2"><tspan transform="scale(1 1)" x="105.0" y="501.2" textLength="21.6" lengthAdjust="spacingAndGlyphs">−</tspan><tspan x="126.7" y="501.2" textLength="33.3" lengthAdjust="spacingAndGlyphs">10</tspan></text>
<text font-size="32.2"><tspan transform="scale(1 1)" x="207.6" y="501.2" textLength="21.6" lengthAdjust="spacingAndGlyphs">−</tspan><tspan x="230.4" y="501.2" textLength="16.7" lengthAdjust="spacingAndGlyphs">5</tspan></text>
<text transform="translate(315.9 501.2) scale(0.930 1)" font-size="32.2">0</text>
<text transform="translate(403.4 501.2) scale(0.930 1)" font-size="32.2">5</text>
<text transform="translate(482.4 501.2) scale(0.930 1)" font-size="32.2">10</text>
<text transform="translate(570.1 501.2) scale(0.930 1)" font-size="32.2">15</text>
<text transform="translate(78.7 142.7) scale(0.930 1)" font-size="32.2">5</text>
<text transform="translate(78.5 229.4) scale(0.930 1)" font-size="32.2">0</text>
<text font-size="32.2"><tspan transform="scale(1 1)" x="52.6" y="316.3" textLength="21.6" lengthAdjust="spacingAndGlyphs">−</tspan><tspan x="75.4" y="316.3" textLength="16.7" lengthAdjust="spacingAndGlyphs">5</tspan></text>
<text font-size="32.2"><tspan transform="scale(1 1)" x="36.9" y="403.1" textLength="21.6" lengthAdjust="spacingAndGlyphs">−</tspan><tspan x="58.6" y="403.1" textLength="33.3" lengthAdjust="spacingAndGlyphs">10</tspan></text>
<text transform="translate(251.8 543.5) scale(0.897 1)" font-size="32.5">UMAP-1</text>
<text transform="translate(36.0 320.6) rotate(-90) scale(0.936 1)" font-size="32.5">UMAP-2</text>
<text transform="translate(10.9 43.0) scale(0.940 1)" font-size="54.5" font-weight="bold">a</text>
<ellipse cx="649.9" cy="76.2" rx="11" ry="10.4" fill="#F8766D"/>
<text transform="translate(680.0 87.0) scale(0.967 1)" font-size="32.5">Acinar</text>
<ellipse cx="649.9" cy="113.9" rx="11" ry="10.4" fill="#D39200"/>
<text transform="translate(678.5 124.3) scale(0.925 1)" font-size="32.5">Beta</text>
<ellipse cx="649.9" cy="165.0" rx="11" ry="10.4" fill="#93AA00"/>
<text transform="translate(678.1 162.5) scale(0.994 1)" font-size="32.5">Trunk/</text>
<text transform="translate(678.3 191.8) scale(1.012 1)" font-size="32.5">Progenitor</text>
<ellipse cx="649.9" cy="218.0" rx="11" ry="10.4" fill="#00BA38"/>
<text transform="translate(678.0 228.5) scale(1.033 1)" font-size="32.5">Tip</text>
<ellipse cx="649.9" cy="255.7" rx="11" ry="10.4" fill="#00C19F"/>
<text transform="translate(680.0 265.8) scale(0.968 1)" font-size="32.5">Alpha</text>
<ellipse cx="649.9" cy="293.6" rx="11" ry="10.4" fill="#00B9E3"/>
<text transform="translate(678.3 304.1) scale(1.015 1)" font-size="32.5">Ductal</text>
<ellipse cx="649.9" cy="331.4" rx="11" ry="10.4" fill="#619CFF"/>
<text transform="translate(678.3 341.4) scale(0.987 1)" font-size="32.5">Delta</text>
<ellipse cx="649.9" cy="380.2" rx="11" ry="10.4" fill="#DB72FB"/>
<text transform="translate(678.4 375.8) scale(0.963 1)" font-size="32.5">Pancreatic</text>
<text transform="translate(678.3 404.9) scale(1.017 1)" font-size="32.5">Polypeptide</text>
<ellipse cx="649.9" cy="429.4" rx="11" ry="10.4" fill="#FF61C3"/>
<text transform="translate(678.8 439.3) scale(0.810 1)" font-size="32.5">EP</text>
<text transform="translate(261.7 94.1) scale(0.984 1)" font-size="25.2" fill="#EF7B74">Acinar</text>
<text transform="translate(224.9 243.4) scale(1.040 1)" font-size="25.2" fill="#22A04C">Tip</text>
<text transform="translate(132.7 320.3) scale(1.031 1)" font-size="25.2" fill="#8B8B2B">Trunk/Progenitor</text>
<text transform="translate(338.1 423.7) scale(1.052 1)" font-size="25.2" fill="#229CD8">Ductal</text>
<text transform="translate(438.5 189.5) scale(0.950 1)" font-size="25.2" fill="#F3A64E">Beta</text>
<text transform="translate(331.2 273.0) scale(0.988 1)" font-size="25.2" fill="#109B96">Alpha</text>
<text transform="translate(527.2 301.4)" font-size="25.2" fill="#229CD8">Delta</text>
<text transform="translate(405.9 348.6) scale(0.840 1)" font-size="25.2" fill="#B8539C">EP</text>
<text transform="translate(454.0 354.0)" font-size="25.2" fill="#BE66BE">Pancreatic</text>
<text transform="translate(453.9 383.3) scale(1.052 1)" font-size="25.2" fill="#BE66BE">Polypeptide</text>
<g fill="none" stroke-linecap="round" stroke-width="2.9" transform="matrix(1.008 0 0 0.992 873.5 -7.84)">
<use href="#q3" stroke="#C49A00"/>
<use href="#q9" stroke="#C49A00"/>
<use href="#q17" stroke="#C49A00"/>
<use href="#q22" stroke="#C49A00"/>
<use href="#q27" stroke="#C49A00"/>
<use href="#q36" stroke="#C49A00"/>
<use href="#q10" stroke="#F8766D"/>
<use href="#q0" stroke="#FB61D7"/>
<use href="#q4" stroke="#FB61D7"/>
<use href="#q12" stroke="#FB61D7"/>
<use href="#q18" stroke="#FB61D7"/>
<use href="#q23" stroke="#FB61D7"/>
<use href="#q28" stroke="#FB61D7"/>
<use href="#q33" stroke="#FB61D7"/>
<use href="#q37" stroke="#FB61D7"/>
<use href="#q1" stroke="#A58AFF"/>
<use href="#q5" stroke="#A58AFF"/>
<use href="#q13" stroke="#A58AFF"/>
<use href="#q19" stroke="#A58AFF"/>
<use href="#q24" stroke="#A58AFF"/>
<use href="#q29" stroke="#A58AFF"/>
<use href="#q34" stroke="#A58AFF"/>
<use href="#q38" stroke="#A58AFF"/>
<use href="#q2" stroke="#00B6EB"/>
<use href="#q6" stroke="#00B6EB"/>
<use href="#q14" stroke="#00B6EB"/>
<use href="#q20" stroke="#00B6EB"/>
<use href="#q25" stroke="#00B6EB"/>
<use href="#q30" stroke="#00B6EB"/>
<use href="#q35" stroke="#00B6EB"/>
<use href="#q39" stroke="#00B6EB"/>
<use href="#q7" stroke="#00C094"/>
<use href="#q11" stroke="#00C094"/>
<use href="#q15" stroke="#00C094"/>
<use href="#q21" stroke="#00C094"/>
<use href="#q26" stroke="#00C094"/>
<use href="#q31" stroke="#00C094"/>
<use href="#q8" stroke="#53B400"/>
<use href="#q16" stroke="#53B400"/>
<use href="#q32" stroke="#53B400"/>
<use href="#q40" stroke="#53B400"/>
</g>
<rect x="994.0" y="48.5" width="509.7" height="401.5" fill="none" stroke="#000" stroke-width="3.6"/>
<path d="M1026.7 450.0L1026.7 460.3M1114.7 450.0L1114.7 460.3M1202.7 450.0L1202.7 460.3M1290.7 450.0L1290.7 460.3M1378.7 450.0L1378.7 460.3M1476.3 450.0L1476.3 460.3" stroke="#000" stroke-width="3.3" fill="none"/>
<path d="M981.0 127.8L994.0 127.8M981.0 214.7L994.0 214.7M981.0 301.6L994.0 301.6M981.0 388.5L994.0 388.5" stroke="#000" stroke-width="3.3" fill="none"/>
<text font-size="32.2"><tspan transform="scale(1 1)" x="981.9" y="499.0" textLength="21.6" lengthAdjust="spacingAndGlyphs">−</tspan><tspan x="1003.6" y="499.0" textLength="33.3" lengthAdjust="spacingAndGlyphs">10</tspan></text>
<text font-size="32.2"><tspan transform="scale(1 1)" x="1084.6" y="499.0" textLength="21.6" lengthAdjust="spacingAndGlyphs">−</tspan><tspan x="1107.4" y="499.0" textLength="16.7" lengthAdjust="spacingAndGlyphs">5</tspan></text>
<text transform="translate(1193.3 499.0) scale(0.930 1)" font-size="32.2">0</text>
<text transform="translate(1281.2 499.0) scale(0.930 1)" font-size="32.2">5</text>
<text transform="translate(1360.4 499.0) scale(0.930 1)" font-size="32.2">10</text>
<text transform="translate(1457.3 499.0) scale(0.930 1)" font-size="32.2">15</text>
<text transform="translate(954.6 139.6) scale(0.930 1)" font-size="32.2">5</text>
<text transform="translate(954.4 226.5) scale(0.930 1)" font-size="32.2">0</text>
<text font-size="32.2"><tspan transform="scale(1 1)" x="929.8" y="313.4" textLength="21.6" lengthAdjust="spacingAndGlyphs">−</tspan><tspan x="952.6" y="313.4" textLength="16.7" lengthAdjust="spacingAndGlyphs">5</tspan></text>
<text font-size="32.2"><tspan transform="scale(1 1)" x="914.1" y="400.3" textLength="21.6" lengthAdjust="spacingAndGlyphs">−</tspan><tspan x="935.8" y="400.3" textLength="33.3" lengthAdjust="spacingAndGlyphs">10</tspan></text>
<text transform="translate(1202.9 545.2) scale(0.897 1)" font-size="32.5">UMAP-1</text>
<text transform="translate(925.9 336.1) rotate(-90) scale(0.936 1)" font-size="32.5">UMAP-2</text>
<text transform="translate(897.5 43.6) scale(1.027 1)" font-size="59" font-weight="bold">b</text>
<circle cx="1528.0" cy="96.8" r="10.5" fill="#F8766D"/>
<text transform="translate(1543.2 105.2) scale(0.938 1)" font-size="32.5">Week 8</text>
<circle cx="1528.0" cy="142.6" r="10.5" fill="#C49A00"/>
<text transform="translate(1543.2 151.0) scale(0.938 1)" font-size="32.5">Week 10</text>
<circle cx="1528.0" cy="188.3" r="10.5" fill="#53B400"/>
<text transform="translate(1543.2 196.7) scale(0.938 1)" font-size="32.5">Week 12</text>
<circle cx="1528.0" cy="234.1" r="10.5" fill="#00C094"/>
<text transform="translate(1543.2 242.5) scale(0.938 1)" font-size="32.5">Week 14</text>
<circle cx="1528.0" cy="279.8" r="10.5" fill="#00B6EB"/>
<text transform="translate(1543.2 288.2) scale(0.938 1)" font-size="32.5">Week 16</text>
<circle cx="1528.0" cy="325.6" r="10.5" fill="#A58AFF"/>
<text transform="translate(1543.2 334.0) scale(0.938 1)" font-size="32.5">Week 18</text>
<circle cx="1528.0" cy="371.4" r="10.5" fill="#FB61D7"/>
<text transform="translate(1543.2 379.8) scale(0.938 1)" font-size="32.5">Week 19</text>
<g fill="none" stroke-linecap="round" stroke-width="2.4" transform="matrix(1.039 0 0 0.996 -12.95 560.5)">
<use href="#q0" stroke="#D3D3D3"/>
<use href="#q1" stroke="#D3D3D3"/>
<use href="#q2" stroke="#D3D3D3"/>
<use href="#q3" stroke="#D3D3D3"/>
<use href="#q4" stroke="#D3D3D3"/>
<use href="#q5" stroke="#D3D3D3"/>
<use href="#q6" stroke="#D3D3D3"/>
<use href="#q7" stroke="#D3D3D3"/>
<use href="#q8" stroke="#D3D3D3"/>
<use href="#q9" stroke="#D3D3D3"/>
<use href="#q10" stroke="#D3D3D3"/>
<use href="#q11" stroke="#D3D3D3"/>
<use href="#q12" stroke="#D3D3D3"/>
<use href="#q13" stroke="#D3D3D3"/>
<use href="#q14" stroke="#D3D3D3"/>
<use href="#q15" stroke="#D3D3D3"/>
<use href="#q16" stroke="#D3D3D3"/>
<use href="#q17" stroke="#D3D3D3"/>
<use href="#q18" stroke="#D3D3D3"/>
<use href="#q19" stroke="#D3D3D3"/>
<use href="#q20" stroke="#D3D3D3"/>
<use href="#q21" stroke="#D3D3D3"/>
<use href="#q22" stroke="#D3D3D3"/>
<use href="#q23" stroke="#D3D3D3"/>
<use href="#q24" stroke="#D3D3D3"/>
<use href="#q25" stroke="#D3D3D3"/>
<use href="#q26" stroke="#D3D3D3"/>
<use href="#q27" stroke="#D3D3D3"/>
<use href="#q28" stroke="#D3D3D3"/>
<use href="#q29" stroke="#D3D3D3"/>
<use href="#q30" stroke="#D3D3D3"/>
<use href="#q31" stroke="#D3D3D3"/>
<use href="#q32" stroke="#D3D3D3"/>
<use href="#q33" stroke="#D3D3D3"/>
<use href="#q34" stroke="#D3D3D3"/>
<use href="#q35" stroke="#D3D3D3"/>
<use href="#q36" stroke="#D3D3D3"/>
<use href="#q37" stroke="#D3D3D3"/>
<use href="#q38" stroke="#D3D3D3"/>
<use href="#q39" stroke="#D3D3D3"/>
<use href="#q40" stroke="#D3D3D3"/>
</g>
<path d="M210 631.5h0m-10.5 3.5h0m2-1h0m27 3h0m-25 3h0m1.5-2h0m9.5-0.5h0m8.5 1.5h0m4.5-1h0m5 4.5h0m-37.5 0.5h0m3 1.5h0m4.5-1h0m3 2h0m0 1.5h0m0.5-2.5h0m2.5-0.5h0m0.5 1.5h0m2-0.5h0m0-2h0m2.5 2.5h0m1.5 1.5h0m9.5 0h0m0-3.5h0m2.5 0h0m1.5 0h0m4.5 3h0m-48.5 4h0m2 0.5h0m2.5 0.5h0m3.5-2.5h0m0 0h0m1.5 0h0m1 0h0m0.5 2h0m4.5-1.5h0m2 1.5h0m2.5-2.5h0m2 1.5h0m4-1h0m4.5 1.5h0m0.5-2.5h0m1.5 3.5h0m1-2.5h0m0.5 1.5h0m4.5 1.5h0m4-0.5h0m1 0.5h0m13.5-1h0m1.5 1.5h0m-57 5h0m2-2h0m0.5-1.5h0m2-1.5h0m0 2.5h0m2.5 0h0m3-1.5h0m3.5-0.5h0m3.5 3.5h0m5-2h0m0.5-1h0m6.5-0.5h0m6 3h0m1-2h0m5.5 3.5h0m1.5-0.5h0m3.5 0.5h0m1.5-4h0m0.5 4h0m4.5-3h0m-60 7h0m1 0h0m0.5 0.5h0m2.5-1h0m1.5 1.5h0m6-0.5h0m2-3h0m4-1h0m10 1h0m0.5 3h0m16-2.5h0m1.5 0.5h0m5.5-2h0m3-0.5h0m2 0h0m8.5 2.5h0m5-2h0m-67.5 7h0m5.5 2h0m1.5-2h0m4.5-1h0m0.5 3.5h0m15-4.5h0m3.5 3.5h0m3.5 1h0m0-1.5h0m1.5-3h0m5 3.5h0m0-2h0m5.5 2h0m7.5-2.5h0m1 1h0m2-0.5h0m2-0.5h0m6.5 1.5h0m9.5 1.5h0m-78 3.5h0m2-2h0m5.5-1h0m3.5 1.5h0m7 1.5h0m0-0.5h0m3-2.5h0m1 0.5h0m4-0.5h0m1 5h0m2.5-0.5h0m1-2h0m1.5 0.5h0m0.5 0h0m0 0.5h0m1-2h0m3.5-1h0m5 0.5h0m4.5 4h0m4.5-4.5h0m8 1h0m3-0.5h0m0.5 3.5h0m4-1.5h0m0.5-0.5h0m1-1.5h0m4.5 3.5h0m11-3.5h0m-108 6h0m3.5-1.5h0m2 1h0m19.5-0.5h0m7.5 2h0m2.5-0.5h0m12.5 2h0m1.5-4.5h0m1.5 2h0m3 1.5h0m2.5-1h0m6.5 1h0m1.5 1h0m3-3h0m1 1.5h0m0.5-0.5h0m6.5 1h0m2-1h0m6.5-1h0m2.5 3h0m1.5-2h0m0.5 1h0m1-0.5h0m2-2.5h0m7-0.5h0m8 3h0m268 1h0m-387 4.5h0m2 1h0m3-4.5h0m4.5 0.5h0m0.5 1h0m1.5 1h0m0-0.5h0m1 3h0m1.5 0h0m0.5-3.5h0m2 1.5h0m26.5-1.5h0m0.5 0h0m1-1.5h0m7.5 2h0m9.5 0h0m1.5-0.5h0m4 2.5h0m4-2h0m5 1.5h0m2-2.5h0m3 0.5h0m17-0.5h0m8-1h0m5.5 3.5h0m4.5-2h0m1.5 1h0m267.5 0h0m0.5 0h0m0.5-0.5h0m0 3h0m2-1.5h0m4 0h0m6 1.5h0m-397 0h0m5.5 1h0m3.5 0.5h0m1 2.5h0m12-0.5h0m5-1.5h0m16.5-1.5h0m0 0h0m3 0h0m4 3.5h0m3.5 0.5h0m3.5-0.5h0m8 0.5h0m1.5-2.5h0m4-1h0m0.5-0.5h0m0 1h0m10-1h0m0 0.5h0m9 3h0m0.5-3h0m3.5 3h0m2.5-2.5h0m1.5-1.5h0m2.5 4h0m1.5-2.5h0m8.5 3h0m1-0.5h0m3-3h0m0.5-0.5h0m0-0.5h0m2.5 1.5h0m4 2.5h0m261-3.5h0m3.5 1h0m2 0.5h0m6 3h0m2.5-0.5h0m9 0h0m1-1h0m-411 2.5h0m0 1h0m3 2.5h0m0-1.5h0m6.5 1h0m4.5 0.5h0m7-4h0m0.5 0.5h0m0.5 3.5h0m1-1.5h0m1-2h0m3.5 2.5h0m1-3h0m7 0h0m28.5 2.5h0m8-3h0m4 1h0m2.5-0.5h0m3.5 0.5h0m0.5 2h0m4.5-1h0m4 0.5h0m0-2.5h0m4 1h0m0.5 3h0m9-3.5h0m1.5 1.5h0m1-1.5h0m3 2h0m1 0.5h0m3-2.5h0m4.5 3h0m2 0h0m3 0.5h0m1 0h0m1.5-2h0m261.5-1.5h0m1 0.5h0m1 2h0m8 1.5h0m3-1h0m6.5-1.5h0m1.5 1h0m0-1.5h0m2.5 2h0m1 1.5h0m3.5-3h0m-418.5 6.5h0m1.5-3h0m2-0.5h0m2.5 5h0m1-2.5h0m1-1h0m2 2.5h0m2-0.5h0m11-3.5h0m0.5 1.5h0m7.5 1h0m8.5 1.5h0m4-0.5h0m10.5-2.5h0m9.5 2.5h0m5-3h0m3.5 0.5h0m4.5 2.5h0m0.5-1.5h0m2.5 0.5h0m5.5-2h0m1 1.5h0m2 2h0m0.5 0h0m4-3h0m0.5 2.5h0m0-0.5h0m5-0.5h0m10.5 2.5h0m13-1.5h0m0-1h0m9-0.5h0m266-2h0m1.5 3.5h0m6.5-1.5h0m1.5-1.5h0m1.5 2.5h0m9.5 1h0m4-4h0m-424.5 7.5h0m2 0h0m1.5 1.5h0m4.5-3h0m1 0h0m5.5 3.5h0m0.5-1h0m1.5-1h0m1 1.5h0m3-2.5h0m4.5 1h0m2.5 2h0m1-1h0m7-1.5h0m3.5 2h0m28-3.5h0m6 4h0m3.5-2h0m3.5-2h0m0.5 1h0m0-1h0m11 4h0m2.5-1.5h0m3 0.5h0m5 1h0m1-3h0m1 3h0m0.5 0h0m3.5-3h0m1.5 3h0m2.5-2h0m1.5 1h0m6 0h0m2.5-0.5h0m0.5 0.5h0m4.5-3h0m1.5 1h0m2.5-1.5h0m277 5h0m4.5-3h0m0.5 2h0m0.5 0h0m5-3h0m3 1h0m4 2.5h0m0-1h0m-417.5 4.5h0m3.5-0.5h0m4.5-0.5h0m3 0.5h0m12.5 0h0m2.5-0.5h0m5 1h0m25.5 1h0m1.5 1h0m0-3.5h0m10.5 3.5h0m5.5-4.5h0m1 2.5h0m2 0h0m1-2h0m11 0h0m6.5 2.5h0m4.5-1.5h0m0.5 1h0m1-1h0m3.5 1h0m8.5-1.5h0m0.5 1.5h0m4 0.5h0m1.5 0h0m0.5-1h0m278.5-1h0m3-1h0m3 1.5h0m8 2h0m1-1.5h0m-406 6.5h0m3-3h0m1 2.5h0m2.5-0.5h0m4 0.5h0m0 0.5h0m8-2h0m3.5 1.5h0m2 0.5h0m22-1.5h0m1.5-2h0m3.5 1h0m3 2h0m10.5-2.5h0m4.5 0.5h0m4.5 2.5h0m0.5 0.5h0m1.5-4h0m0-0.5h0m2 3.5h0m0.5-0.5h0m3 2h0m1.5-4h0m6 2.5h0m4.5 1.5h0m2-3h0m2 1h0m3 0h0m3.5-2.5h0m1 0.5h0m1 2.5h0m4-3h0m289.5 1h0m7 0h0m-397.5 6.5h0m4.5-2h0m1.5 2.5h0m7 1.5h0m1-3h0m24.5-0.5h0m2.5-1h0m4 2.5h0m0.5 1h0m4 0.5h0m11.5-3.5h0m1.5 4h0m6.5-3.5h0m1 1h0m3-2.5h0m4 3.5h0m8.5-2h0m6.5-0.5h0m282 3.5h0m22-3.5h0m-398.5 4h0m4 3h0m0-0.5h0m3-0.5h0m34.5-1h0m0.5-0.5h0m1.5 3.5h0m0.5 0.5h0m4-3.5h0m3.5 0.5h0m14 3h0m0.5-1.5h0m6 0h0m2 0h0m17-1h0m268 2.5h0m1.5-2.5h0m14 1h0m3 0h0m2-2.5h0m5 2.5h0m0-1h0m8 0.5h0m5-2h0m10.5 3.5h0m-400.5 3h0m6 0.5h0m3-1.5h0m22.5-1h0m2 3.5h0m4-0.5h0m10 2h0m8-4.5h0m3.5 3h0m7 1h0m0.5-1h0m1.5-1h0m0.5-2.5h0m1 0.5h0m0.5 0.5h0m7.5 2h0m278.5-2.5h0m4 4.5h0m1-4.5h0m1.5 0h0m3 4h0m2.5-1h0m0 1h0m24.5 0h0m10.5-1h0m-393.5 5.5h0m22.5-3h0m3 2.5h0m0-0.5h0m0 2h0m1-2.5h0m0.5 0h0m1 2h0m1-3h0m0.5 3h0m8-2.5h0m1.5 0.5h0m11 1.5h0m4.5 0.5h0m2.5-2.5h0m2.5-1h0m2 0h0m3 3h0m7.5-2.5h0m2.5 2.5h0m2 0h0m1.5 0h0m3.5-0.5h0m1.5-3h0m265 1h0m13.5 2.5h0m0.5 0.5h0m4 0h0m1.5-0.5h0m16-4h0m17 2.5h0m-401.5 4.5h0m1 2h0m0.5-1.5h0m3.5 1h0m14.5-1.5h0m13.5 0.5h0m1.5-1.5h0m0 1h0m2.5-1.5h0m1.5 2h0m8.5-1h0m7.5 1.5h0m8.5-3h0m0.5 4h0m1-3.5h0m10.5 1.5h0m4-1h0m1-0.5h0m0 0h0m270.5 3.5h0m1-3h0m2 0h0m7.5 3h0m3-2.5h0m2.5 0h0m1-1.5h0m1 4h0m6 0h0m1-0.5h0m13.5-2h0m18 1.5h0m0-2.5h0m-402 9h0m34.5 0h0m1.5-2.5h0m10.5 1h0m5-2.5h0m4.5 3h0m2.5-2.5h0m2.5 3h0m0.5-2h0m4.5-0.5h0m278.5-0.5h0m2.5 3h0m3-1h0m4 0.5h0m2 1h0m5.5-3h0m46-1h0m3 0.5h0m-387.5 4h0m4 2h0m5-2h0m4 1h0m16 0h0m5 1h0m0.5 1h0m3 1h0m1.5 0.5h0m6 0h0m1.5-1.5h0m276-0.5h0m1.5-2h0m3 0.5h0m0.5 3h0m1.5-2.5h0m1-1h0m2 1.5h0m1.5-2h0m6.5 2.5h0m3.5 0.5h0m1.5-1.5h0m1 1.5h0m2.5 1.5h0m0-4h0m5 2.5h0m1-2h0m8.5 0.5h0m13-1h0m-387 7.5h0m3.5 1.5h0m4-4.5h0m3 4h0m5.5 1h0m20.5-3.5h0m1-0.5h0m4 3h0m1-3.5h0m1.5 1.5h0m0-1.5h0m0 1.5h0m2-1h0m4.5-0.5h0m3.5 2h0m276 2h0m4.5-3.5h0m12-0.5h0m1 0h0m3.5 4h0m0-1.5h0m4.5 1h0m0.5-4h0m3.5 2h0m4 2.5h0m-360 4.5h0m39 1h0m2-5h0m0 5h0m4-2h0m0.5 1h0m2-1.5h0m0-2h0m4 1.5h0m1.5-0.5h0m260 3h0m1-2h0m0.5-1.5h0m0 1h0m2.5 1.5h0m13 1.5h0m2-3.5h0m5.5-1h0m11.5 1h0m1.5 0h0m0.5-1h0m4 1h0m1.5 1h0m0-1.5h0m1.5 2h0m6-2.5h0m2.5 4.5h0m31-2h0m1-2.5h0m-406 5h0m17 2h0m20.5 1.5h0m0.5-2h0m3.5 1h0m1 0.5h0m2.5 0.5h0m1.5 0.5h0m0 0h0m3-1.5h0m3.5-2h0m4.5 1h0m261.5 1h0m9-3h0m0.5 4.5h0m1.5-3h0m0.5 0.5h0m2.5 2h0m19-1h0m0.5-3h0m5 2.5h0m0.5-2.5h0m8 3.5h0m0.5-1.5h0m0.5-0.5h0m0.5 0.5h0m3.5-0.5h0m0 0.5h0m3.5-0.5h0m3.5 2.5h0m4.5 0.5h0m1.5 0h0m4 0.5h0m9.5-3.5h0m3-1h0m4.5 1.5h0m3.5 3h0m-404.5 3h0m3.5-3h0m2 1.5h0m2-1h0m3.5 3.5h0m10.5 0h0m0.5-0.5h0m3-1h0m8 2.5h0m1.5-4h0m7.5 2h0m3-1.5h0m1 0.5h0m0.5-1h0m241 3.5h0m24-3h0m3-0.5h0m1 4h0m6-3.5h0m1.5 0.5h0m1 1h0m2.5-0.5h0m2-2h0m4 4h0m1-4h0m11.5 0h0m6 3h0m3.5 0h0m2 1h0m2-3h0m0.5 3h0m2.5-2h0m2-0.5h0m5.5-1h0m1.5 1h0m1.5 2.5h0m0.5-4h0m8-0.5h0m6 5h0m16.5-3h0m2.5 0h0m-407.5 4.5h0m2 3h0m3-0.5h0m4-3h0m21 2h0m7.5 1.5h0m184-2h0m63 0.5h0m0 0.5h0m1 0.5h0m4 0h0m54.5-1.5h0m4-2.5h0m1.5 0.5h0m3.5 4h0m2.5-1h0m1.5-2.5h0m7 2h0m6-2h0m4.5 0h0m1 3h0m0.5-0.5h0m0.5-3h0m0.5 0h0m1.5 4h0m2-1.5h0m1-1h0m4 2h0m4.5 0h0m2 0.5h0m5.5-2h0m5-1.5h0m6-1h0m-407 7.5h0m1.5-1h0m1.5-0.5h0m1 1.5h0m3 1h0m0-1h0m0-1.5h0m2 2.5h0m18.5-2h0m1 2h0m1.5-1h0m1.5 0h0m0-0.5h0m0.5 2.5h0m4-1h0m194.5-2h0m0.5 3h0m53.5 0h0m40-4h0m5 0h0m0 4h0m10-0.5h0m9.5-0.5h0m3 0.5h0m1.5-3h0m8.5 4h0m16.5-5h0m3 1h0m0 1h0m8 1.5h0m1.5-2h0m-388.5 3.5h0m5 3.5h0m10 1h0m7.5-2.5h0m2 2h0m2-0.5h0m6-1.5h0m194-1h0m0 1h0m2-1h0m3.5 3.5h0m46-2.5h0m4.5 0h0m0.5-1h0m1 3.5h0m2.5-1.5h0m6.5-1.5h0m29.5 1h0m0 1.5h0m9.5-2.5h0m5 3.5h0m0-1.5h0m6.5-1.5h0m3-1.5h0m3 3.5h0m5-1h0m2-2.5h0m0 2.5h0m1.5-2.5h0m2.5 0h0m5 4h0m0 0h0m0.5-4.5h0m1 0h0m1.5 2h0m7 0h0m1.5 0.5h0m3-1h0m-384.5 4h0m3.5 3h0m0.5-1.5h0m9 2h0m13-1h0m2 0h0m210.5-1h0m0.5 1.5h0m1.5-0.5h0m3 1h0m44.5-3.5h0m12 2.5h0m0.5-1.5h0m2.5 2h0m2.5 0h0m3.5-1.5h0m44 0h0m4.5 0.5h0m4-1.5h0m-363.5 7h0m2-1.5h0m5.5 1.5h0m0-2h0m24.5 1h0m2.5 0.5h0m1-1h0m210.5-1h0m54 4h0m0.5-1.5h0m0.5-1h0m3.5 1h0m38-3h0m-348.5 8.5h0m7-0.5h0m2.5 1.5h0m0.5-0.5h0m3-1.5h0m6 1.5h0m296.5-4h0m10 1h0m7.5 0h0m-331.5 7h0m1.5 1.5h0m1-2h0m3.5-2h0m6.5 1.5h0m1.5 2.5h0m3.5-1h0m15-2.5h0m219.5 0.5h0m51-1h0m0.5 0h0m2.5 1.5h0m0.5 2h0m4-2.5h0m-310.5 7.5h0m2.5 0.5h0m2.5-1.5h0m6 0.5h0m11.5 1.5h0m-26 4h0m1.5-2h0m3.5-2h0m1.5 3.5h0m10-3.5h0m1 0.5h0m11.5 3.5h0m292.5-1h0m-317 4h0m5.5 1.5h0m2.5-1h0m260 1.5h0m14.5-1h0m1 1h0m37-3.5h0m11 2h0m-339 6h0m2-1h0m4.5 0h0m3 1.5h0m0 0.5h0m4-0.5h0m0.5-3h0m26 2h0m238.5 0h0m2-2.5h0m0 2h0m2.5 1h0m0-1.5h0m5-2h0m3.5 3.5h0m2 1h0m2-2h0m0 1.5h0m3 0h0m31.5-4h0m3.5 5h0m1 0h0m16-2h0m-350 5.5h0m2-2h0m1 2h0m1.5 0.5h0m1-1.5h0m5.5-0.5h0m1.5 0h0m0.5 2h0m1-2h0m252.5 0.5h0m0.5-0.5h0m6.5 2.5h0m0.5-2.5h0m0 1h0m7.5 1h0m4.5-1.5h0m2 1.5h0m0.5-3h0m0.5 2h0m2.5-0.5h0m2-1.5h0m2.5-0.5h0m5.5 0.5h0m32 1h0m-326.5 5h0m247.5 0.5h0m16 0h0m1-2h0m4 3h0m1 0.5h0m0.5-3.5h0m4-0.5h0m2.5 1.5h0m1 2.5h0m1.5 0.5h0m1-2h0m2-1h0m1 3h0m4-3h0m47 2h0m0.5 1h0m-97.5 2.5h0m20 1.5h0m10-1.5h0m2.5 1.5h0m5.5-2h0m3 0.5h0m22 2h0m32.5-3.5h0m0 2h0m1 0h0m6 2.5h0m-112 3h0m8-1.5h0m11.5 3h0m4-4h0m3 1.5h0m13 1.5h0m1.5-3.5h0m0 4h0m0.5-3.5h0m0.5 0h0m1.5 1.5h0m1 0.5h0m0.5-1h0m0.5 1h0m3-2h0m0 2.5h0m3.5 1.5h0m12-4.5h0m6 1h0m2.5-0.5h0m2.5 2.5h0m1.5-1h0m19.5 1h0m12.5 0.5h0m-98.5 4.5h0m9.5-2h0m28 1h0m1.5 2h0m1-3h0m24 1h0m1 2.5h0m13-0.5h0m25-4h0m8.5 2h0m-75.5 5h0m11.5 2h0m55.5 0h0m1-2h0m2-0.5h0m1 1h0m0.5-2h0m3-0.5h0m2.5 4h0m-50.5 4.5h0m0.5-1h0m26 2.5h0m16-4.5h0m1 4h0m8-3.5h0m-74.5 9h0m6.5-5h0m15 3h0m2.5 1h0m5-1.5h0m18.5-0.5h0m1.5-1h0m0 3h0m1-3h0m0.5-1h0m15 1h0m2 4h0m2-3.5h0m3 1h0m0.5-2h0m-78 7h0m2.5 0h0m2-2.5h0m1 4.5h0m23.5 0h0m1.5-4h0m2 1h0m43.5 3h0m-77 5h0m1.5-1.5h0m31-2h0m2.5 2h0m6.5 1h0m11.5-3.5h0m24 0.5h0m2 0h0m-39 6.5h0m1.5 2h0m1.5 1.5h0m-290 9h0m2-0.5h0m2-2.5h0m-1.5 3.5h0m3 0h0m0.5 3h0m1.5 1h0m0.5-3.5h0m-16.5 7h0m1 1.5h0m3-0.5h0m4.5-3h0m3-1h0m0.5 1h0m1 2h0m5 2h0m-19 2.5h0m1.5-1h0m1 0.5h0m8.5 2.5h0m0.5-3.5h0m2-0.5h0m0.5 2.5h0m-12 5.5h0m3.5-3h0m5 0.5h0m1 2h0m0.5-2h0m1.5-1h0m11.5 3.5h0m1.5-2.5h0m16 2.5h0m-42.5 2.5h0m4 2h0m9-1h0m2.5 3h0m4.5-1h0m1-3h0m4.5 0h0m0.5-0.5h0m26 4h0m2.5-1.5h0m-56 3h0m1.5 0.5h0m1.5 2h0m4 0h0m1-2.5h0m3 2.5h0m0-0.5h0m11.5 1.5h0m0.5-2.5h0m0.5 1h0m4.5 1.5h0m24-2.5h0m4.5-1h0m4.5 2.5h0m1-1.5h0m7 3h0m-70.5 1h0m5.5 1.5h0m3.5-2.5h0m0.5 0h0m1.5 4.5h0m2-1h0m3-2.5h0m1.5 2h0m2.5-1.5h0m13 2.5h0m17.5 1h0m0.5-1h0m1-3h0m5-1h0m2 2h0m0 3h0m0.5-1.5h0m0 0.5h0m3 0h0m3-3h0m1 1.5h0m0.5 1h0m6 1h0m-67.5 4.5h0m0.5-0.5h0m4-0.5h0m1 0.5h0m3.5-2.5h0m0 0h0m1.5 3h0m0-2.5h0m0.5 3h0m0.5 0h0m3.5-4h0m3.5 3h0m4.5-2h0m5 0.5h0m15.5 1h0m0.5 2h0m2.5-1.5h0m11 1h0m2-2h0m0.5 0h0m7-1h0m-69 5h0m2 1h0m0.5-1.5h0m3-0.5h0m2.5-0.5h0m4 5h0m6.5-1h0m0-0.5h0m1-1h0m3-0.5h0m2-0.5h0m0 0h0m2 0.5h0m2 1.5h0m2-1h0m10 0h0m1.5-2.5h0m4.5 2h0m3.5 0h0m5.5 0h0m2-1h0m1.5 0.5h0m2.5 0.5h0m1-1h0m0.5 0.5h0m0-0.5h0m4 0h0m-68 6h0m4 2.5h0m8-1h0m2.5-0.5h0m5.5 1h0m2 0.5h0m4-3h0m1.5 1h0m0.5 2.5h0m3.5-0.5h0m2.5-3.5h0m3 0h0m2.5 2h0m0 1h0m1.5-3h0m0.5 1h0m1.5 0.5h0m4.5-1.5h0m8.5-1h0m1 0.5h0m-54 6h0m0.5 1.5h0m8.5-1h0m1-1h0m2 2h0m9.5-1.5h0m7-1h0m1 2.5h0m1 0.5h0m6.5 1.5h0m-34 1.5h0m1 3h0m15-0.5h0m0-3h0m1 0h0m2 0.5h0m3.5-1.5h0m1.5 3h0m0.5-1h0m3 1.5h0m1.5-3.5h0m8 4h0m4.5-3h0m-42.5 5.5h0m3.5 3h0m14-1.5h0m0.5 1.5h0m3 0.5h0m0-2.5h0m2-1h0m6-0.5h0m1-0.5h0m4 4.5h0m2.5-3.5h0m0 3h0m6.5-0.5h0m-38 3h0m5.5 1h0m2 0.5h0m0.5-3h0m1.5 2.5h0m1.5-2.5h0m0.5 3h0m11-2h0m0.5-0.5h0m0.5-0.5h0m2.5 3h0m1-1.5h0m2-0.5h0m2.5 1.5h0m12 1.5h0m-32.5 1h0m3 3.5h0m2-2.5h0m1.5-1h0m0.5 3h0m2-2h0m1 3h0m3-0.5h0m2.5-2h0m0.5 0.5h0m3-2.5h0m4 4h0m77.5 0h0m4-1h0m-100.5 2.5h0m14 1.5h0m2-0.5h0m4.5 1h0m2-1h0m2-1h0m1.5-0.5h0m63.5 4.5h0m19-3h0m-102 5h0m0 2.5h0m4 0h0m0.5-3.5h0m1 0.5h0m0.5 0h0m0.5 1.5h0m2.5 0.5h0m65-2h0m10.5 0h0m3 1h0m6.5 2.5h0m5-1.5h0m1.5 0.5h0m0-2.5h0m-92.5 4.5h0m59.5 2h0m6.5-2h0m0.5 2.5h0m0.5 1h0m0 0.5h0m1.5-4h0m3.5-0.5h0m19 3h0m-29 4.5h0m1.5 1h0m7.5-2.5h0m15.5 3h0m7.5-3.5h0m2.5 4.5h0m-40.5 3h0m1.5 1.5h0m22.5 0.5h0m0.5-2.5h0m4 1h0m1.5-1.5h0m2 2h0m2.5 0h0m2 1h0m3-5h0m-38.5 5.5h0m10 0.5h0m12.5 1.5h0m1.5-1h0m4 3h0m4.5-2.5h0m2 1h0m0.5-1.5h0m-17 3.5h0m7 0.5h0" stroke="#A0A0E3" stroke-width="2.5" stroke-linecap="round" fill="none"/>
<path d="M211 638h0m-18.5 5.5h0m23.5 9h0m13-2.5h0m5.5 12h0m-58.5 10h0m2.5-2.5h0m20.5-1h0m65 9.5h0m-68 9.5h0m42.5-4.5h0m-104.5 8.5h0m79-0.5h0m6-2.5h0m2.5 0h0m32.5 1h0m1-1.5h0m276-0.5h0m-388 5.5h0m7.5 2.5h0m8.5-1.5h0m372 2h0m7 1h0m-385.5 4.5h0m62 0.5h0m24 0h0m292-3h0m-290 7.5h0m5.5-1h0m307.5-0.5h0m-417.5 2.5h0m71 1h0m14 2.5h0m9.5 1h0m15.5-3.5h0m295.5-0.5h0m11 4h0m-394.5 3h0m40.5 2h0m38.5-1h0m302 5h0m-325.5 5.5h0m299.5-3.5h0m51 1.5h0m-335 5h0m25-0.5h0m263-1h0m-320 9h0m9.5-0.5h0m41.5 0h0m286.5 1h0m0-1h0m-358.5 2h0m70-0.5h0m313.5-0.5h0m-41 5h0m53 5h0m12.5 1.5h0m-397 6h0m18-2h0m-13 6h0m48 1h0m307.5 0h0m-358.5 3h0m279.5 3h0m33-2h0m25 3h0m12-1h0m29.5-3.5h0m1.5 2.5h0m18 0h0m-391 4.5h0m4 1.5h0m206.5 0.5h0m62-2.5h0m31.5-1.5h0m18 2h0m19-1h0m39 1h0m-389.5 5.5h0m37-2.5h0m290 3.5h0m-44 6h0m3.5-1.5h0m63-2h0m0.5 2h0m12.5-2h0m3.5 0h0m-75.5 9.5h0m7-0.5h0m-313 20h0m4 4.5h0m295.5-3.5h0m-293.5 7h0m243.5 20h0m59 1.5h0m29.5-3h0m-82.5 3.5h0m55.5 4.5h0m42 12h0m-47 8h0m24 7h0m-18 4h0m-269 33h0m-16.5 10h0m6.5-3h0m37 5h0m18 6.5h0m-61.5 4h0m12.5 13.5h0m34.5 14h0m-21.5 12.5h0m7 2h0m81.5-1h0m9.5 3h0m-23 9h0m28.5 1h0m-42.5 2h0m30.5 8.5h0" stroke="#6E6EE8" stroke-width="2.5" stroke-linecap="round" fill="none"/>
<path d="M205 636.5h0m30 20.5h0m16.5 1h0m-11.5 8h0m-34 1.5h0m-49 9.5h0m372.5 3h0m2-1h0m1.5 1.5h0m6 1h0m-8.5 5.5h0m14 0h0m-333 3h0m49.5 1h0m-86 6h0m356.5-2.5h0m-390.5 3.5h0m386.5 1h0m26 0h0m-16.5 3.5h0m12.5 2h0m4 2.5h0m-310 2.5h0m301.5 0h0m-397 8h0m55.5 0h0m7.5-1.5h0m301-0.5h0m21.5 2h0m-304.5 3.5h0m303-0.5h0m1-2.5h0m-13.5 6.5h0m9.5 0h0m-9.5 3.5h0m4.5 0.5h0m50 8.5h0m-57 5.5h0m3.5-2h0m11 1.5h0m5.5-2.5h0m5.5 2.5h0m-11.5 4.5h0m8.5-3.5h0m3 4.5h0m27.5-0.5h0m-39 5h0m0.5-1.5h0m0.5-2.5h0m9-0.5h0m6 5h0m-22.5 1.5h0m1-0.5h0m3.5-0.5h0m11.5 0.5h0m3.5 2h0m3.5-1h0m2.5 0.5h0m1 2h0m4 0h0m0.5-1.5h0m5 1h0m1.5 0h0m0-1.5h0m2.5-0.5h0m23-0.5h0m-394.5 6h0m30.5 0h0m0-0.5h0m294.5 2.5h0m4.5-2h0m17.5 0.5h0m2 1.5h0m0.5-4h0m3 2h0m1.5 1h0m2 0h0m1 0h0m7-2.5h0m2 2.5h0m3 1h0m3 0h0m1.5-4h0m7 3.5h0m1-3h0m10.5 3h0m5-0.5h0m-66.5 6.5h0m15-3.5h0m0.5-0.5h0m7.5 1h0m0.5-1.5h0m11 4h0m8.5-3h0m5-1h0m2-0.5h0m4 3h0m0 1.5h0m3-3.5h0m6 3h0m0 0h0m3.5-3.5h0m-186.5 7.5h0m4-1h0m1 1.5h0m60.5-2.5h0m42 1.5h0m1 1h0m32-1h0m7.5-1h0m0.5 2.5h0m1 1h0m1.5-2.5h0m0-0.5h0m1 2.5h0m2.5-1.5h0m2.5-1h0m10.5 1h0m9.5-1.5h0m3-1h0m-42 9h0m2-3h0m3.5 0.5h0m3 2h0m4.5-3.5h0m2 2.5h0m3.5-1h0m6.5-0.5h0m0.5 3h0m3.5-3h0m0.5 2.5h0m0-1.5h0m0.5 2.5h0m1.5-0.5h0m1.5-4h0m1 3h0m-109.5 4.5h0m74.5-1.5h0m6 0h0m2 1.5h0m0.5 1.5h0m2.5-2.5h0m0.5 1.5h0m5-0.5h0m0 0h0m6 0h0m2.5-1.5h0m4.5 1h0m-150 3.5h0m66 2h0m32.5-1h0m6.5 2h0m10.5-2h0m15.5-1.5h0m-343.5 5.5h0m278 4h0m7-1h0m1-2.5h0m-28.5 14.5h0m-11 12h0m9-2h0m-23.5 9h0m20.5-4.5h0m7 3.5h0m49.5-3.5h0m-55 5.5h0m44.5 2h0m-334.5 3.5h0m250 1h0m28 0h0m59.5 1.5h0m-52 2.5h0m63 2.5h0m-40 2.5h0m33.5 2.5h0m6.5-0.5h0m-73 6.5h0m2.5-4h0m5.5 0h0m19.5-0.5h0m-12.5 8.5h0m0 2.5h0m1 0.5h0m-9.5 7.5h0m2 0h0m0-3h0m1.5 2h0m0.5-3h0m0 3h0m1-2.5h0m22.5 2.5h0m-30.5 4.5h0m5-0.5h0m70 0h0m-74.5 6.5h0m-9.5 4.5h0m4.5-2.5h0m37 6h0m9.5 5h0m-299.5 19.5h0m26.5 46.5h0m2.5 8.5h0m72-1.5h0m6 30h0m14.5 0h0" stroke="#E7A3A3" stroke-width="2.5" stroke-linecap="round" fill="none"/>
<path d="M220 670.5h0m3 0.5h0m6.5 1h0m-68 15h0m384 2h0m-410 5.5h0m62-1h0m23.5 0h0m328-0.5h0m-12.5 6h0m6.5 3h0m12.5-2h0m-347.5 3h0m2 4.5h0m25 7h0m300 2h0m-25.5 8h0m54.5-1.5h0m-328 4.5h0m302.5 0.5h0m32.5 4.5h0m-34.5 0h0m4 2.5h0m-19.5 5.5h0m3.5-0.5h0m-337.5 3.5h0m348.5 6h0m9-2h0m2.5 2h0m-43.5 6.5h0m55.5-0.5h0m-25 5.5h0m2.5-2.5h0m16.5 0.5h0m2.5 3h0m4.5 0h0m8-4.5h0m0 0h0m-63.5 9.5h0m5-1.5h0m37.5-0.5h0m-80 4.5h0m1.5 2.5h0m1-3h0m68 1.5h0m2-0.5h0m24.5 1.5h0m2.5-2h0m7.5-0.5h0m4-0.5h0m-111 7h0m43.5 2h0m-46 0.5h0m8 3.5h0m46.5 0.5h0m20.5 0h0m16.5-4h0m-349 7h0m303.5-0.5h0m29 1h0m-57.5 3.5h0m0.5-1.5h0m4.5 5h0m0.5-4h0m3 3h0m-10.5 3.5h0m4 1.5h0m3-3.5h0m1.5 1.5h0m-18.5 4.5h0m12 1h0m-38 8h0m11 7h0m45.5 2h0m-61.5 4.5h0m13.5-2.5h0m10.5-0.5h0m-30.5 7h0m23.5-1h0m55 6h0m2.5 2.5h0m-61 6h0m17.5-1.5h0m20 4h0m30-0.5h0m-112 3h0m45 3.5h0m24.5 13.5h0m1.5 3.5h0m0 3.5h0m46.5 1.5h0m3-1h0m-320.5 23h0m-3.5 2h0m4 2h0m4 5h0m-13.5 11.5h0m50.5 2.5h0m-39.5 5h0m28-1.5h0m3.5 6.5h0m10.5 3h0m-59 4h0m13-3.5h0m24.5 2.5h0m25-1.5h0m-48.5 4h0m0.5 0.5h0m10.5 2.5h0m-6 9h0m71 1.5h0m-51 14.5h0m7-3h0m-19 7.5h0m16 1h0m1.5 0h0m5-3h0" stroke="#0000FF" stroke-width="2.5" stroke-linecap="round" fill="none"/>
<path d="M544.5 755.5h0m8-1.5h0m-6.5 6h0m38-0.5h0m0.5 0.5h0m-44.5 5h0m21-1.5h0m-10 8.5h0m7-2h0m-12.5 8.5h0m-1 5h0m-91 33.5h0m7.5-2h0m-19.5 7h0m10.5 2h0m3 4.5h0m-8 7h0m3.5 1.5h0m-3 8h0m11 7.5h0m-4.5 3.5h0m7 0.5h0m1-2h0m0 0.5h0m1 1h0m-7.5 5.5h0m0.5-1.5h0m3-2h0m-9.5 7.5h0m1.5 0.5h0m0.5-2h0m4.5-1h0m-12 8.5h0m2-3h0m1 1h0m3-1h0m3.5-1h0m-10 9h0m4-4h0m-5 6h0" stroke="#F22222" stroke-width="2.5" stroke-linecap="round" fill="none"/>
<rect x="115.9" y="612.0" width="752.6" height="401.1" fill="none" stroke="#000" stroke-width="3.6"/>
<path d="M149.8 1013.1L149.8 1023.9M237.5 1013.1L237.5 1023.9M325.2 1013.1L325.2 1023.9M412.9 1013.1L412.9 1023.9M500.6 1013.1L500.6 1023.9M588.3 1013.1L588.3 1023.9" stroke="#000" stroke-width="3.3" fill="none"/>
<path d="M102.9 691.6L115.9 691.6M102.9 778.1L115.9 778.1M102.9 864.8L115.9 864.8M102.9 951.7L115.9 951.7" stroke="#000" stroke-width="3.3" fill="none"/>
<text font-size="32.2"><tspan transform="scale(1 1)" x="105.0" y="1062.0" textLength="21.6" lengthAdjust="spacingAndGlyphs">−</tspan><tspan x="126.7" y="1062.0" textLength="33.3" lengthAdjust="spacingAndGlyphs">10</tspan></text>
<text font-size="32.2"><tspan transform="scale(1 1)" x="207.5" y="1062.0" textLength="21.6" lengthAdjust="spacingAndGlyphs">−</tspan><tspan x="230.3" y="1062.0" textLength="16.7" lengthAdjust="spacingAndGlyphs">5</tspan></text>
<text transform="translate(315.8 1062.0) scale(0.930 1)" font-size="32.2">0</text>
<text transform="translate(403.4 1062.0) scale(0.930 1)" font-size="32.2">5</text>
<text transform="translate(482.4 1062.0) scale(0.930 1)" font-size="32.2">10</text>
<text transform="translate(570.0 1062.0) scale(0.930 1)" font-size="32.2">15</text>
<text transform="translate(78.7 703.4) scale(0.930 1)" font-size="32.2">5</text>
<text transform="translate(78.5 789.9) scale(0.930 1)" font-size="32.2">0</text>
<text font-size="32.2"><tspan transform="scale(1 1)" x="52.6" y="876.6" textLength="21.6" lengthAdjust="spacingAndGlyphs">−</tspan><tspan x="75.4" y="876.6" textLength="16.7" lengthAdjust="spacingAndGlyphs">5</tspan></text>
<text font-size="32.2"><tspan transform="scale(1 1)" x="36.9" y="963.5" textLength="21.6" lengthAdjust="spacingAndGlyphs">−</tspan><tspan x="58.6" y="963.5" textLength="33.3" lengthAdjust="spacingAndGlyphs">10</tspan></text>
<text transform="translate(352.3 1099.7) scale(0.897 1)" font-size="32.5">UMAP-1</text>
<text transform="translate(40.5 895.3) rotate(-90) scale(0.936 1)" font-size="32.5">UMAP-2</text>
<text transform="translate(-2.3 611.3) scale(0.919 1)" font-size="54.5" font-weight="bold">c</text>
<text transform="translate(617.5 648.6) scale(0.888 1)" font-size="30.8" font-style="italic" fill="#E2001A">NEUROG3</text>
<text transform="translate(761.2 648.6) scale(1.113 1)" font-size="30.8" font-style="italic">/</text>
<text transform="translate(777.4 648.6) scale(0.872 1)" font-size="30.8" font-style="italic" fill="#1B1B8D">USP7</text>
<g shape-rendering="crispEdges"><rect x="669.60" y="945.62" width="19.24" height="12.78" fill="#D3D3D3"/><rect x="688.04" y="945.62" width="19.24" height="12.78" fill="#CFCFD4"/><rect x="706.48" y="945.62" width="19.24" height="12.78" fill="#C4C4D6"/><rect x="724.92" y="945.62" width="19.24" height="12.78" fill="#B0B0DA"/><rect x="743.36" y="945.62" width="19.24" height="12.78" fill="#9595E0"/><rect x="761.80" y="945.62" width="19.24" height="12.78" fill="#7777E6"/><rect x="780.24" y="945.62" width="19.24" height="12.78" fill="#5858ED"/><rect x="798.68" y="945.62" width="19.24" height="12.78" fill="#3A3AF3"/><rect x="817.12" y="945.62" width="19.24" height="12.78" fill="#1C1CF9"/><rect x="835.56" y="945.62" width="18.44" height="12.78" fill="#0000FF"/><rect x="669.60" y="932.84" width="19.24" height="13.58" fill="#D4CFCF"/><rect x="688.04" y="932.84" width="19.24" height="13.58" fill="#D1CCD1"/><rect x="706.48" y="932.84" width="19.24" height="13.58" fill="#C6C1D4"/><rect x="724.92" y="932.84" width="19.24" height="13.58" fill="#B3AFD9"/><rect x="743.36" y="932.84" width="19.24" height="13.58" fill="#9A96E1"/><rect x="761.80" y="932.84" width="19.24" height="13.58" fill="#7F7AE9"/><rect x="780.24" y="932.84" width="19.24" height="13.58" fill="#625EF2"/><rect x="798.68" y="932.84" width="19.24" height="13.58" fill="#4742FB"/><rect x="817.12" y="932.84" width="19.24" height="13.58" fill="#2C28FF"/><rect x="835.56" y="932.84" width="18.44" height="13.58" fill="#130FFF"/><rect x="669.60" y="920.06" width="19.24" height="13.58" fill="#D6C4C4"/><rect x="688.04" y="920.06" width="19.24" height="13.58" fill="#D4C1C6"/><rect x="706.48" y="920.06" width="19.24" height="13.58" fill="#CAB8CA"/><rect x="724.92" y="920.06" width="19.24" height="13.58" fill="#B9A7D1"/><rect x="743.36" y="920.06" width="19.24" height="13.58" fill="#A390DB"/><rect x="761.80" y="920.06" width="19.24" height="13.58" fill="#8A77E6"/><rect x="780.24" y="920.06" width="19.24" height="13.58" fill="#705DF2"/><rect x="798.68" y="920.06" width="19.24" height="13.58" fill="#5745FE"/><rect x="817.12" y="920.06" width="19.24" height="13.58" fill="#402DFF"/><rect x="835.56" y="920.06" width="18.44" height="13.58" fill="#2A18FF"/><rect x="669.60" y="907.28" width="19.24" height="13.58" fill="#DAB0B0"/><rect x="688.04" y="907.28" width="19.24" height="13.58" fill="#D9AFB3"/><rect x="706.48" y="907.28" width="19.24" height="13.58" fill="#D1A7B9"/><rect x="724.92" y="907.28" width="19.24" height="13.58" fill="#C398C3"/><rect x="743.36" y="907.28" width="19.24" height="13.58" fill="#AF84CF"/><rect x="761.80" y="907.28" width="19.24" height="13.58" fill="#986EDC"/><rect x="780.24" y="907.28" width="19.24" height="13.58" fill="#8257EB"/><rect x="798.68" y="907.28" width="19.24" height="13.58" fill="#6C41FA"/><rect x="817.12" y="907.28" width="19.24" height="13.58" fill="#582DFF"/><rect x="835.56" y="907.28" width="18.44" height="13.58" fill="#451AFF"/><rect x="669.60" y="894.50" width="19.24" height="13.58" fill="#E09595"/><rect x="688.04" y="894.50" width="19.24" height="13.58" fill="#E1969A"/><rect x="706.48" y="894.50" width="19.24" height="13.58" fill="#DB90A3"/><rect x="724.92" y="894.50" width="19.24" height="13.58" fill="#CF84AF"/><rect x="743.36" y="894.50" width="19.24" height="13.58" fill="#BE73BE"/><rect x="761.80" y="894.50" width="19.24" height="13.58" fill="#AA5FCE"/><rect x="780.24" y="894.50" width="19.24" height="13.58" fill="#964BE0"/><rect x="798.68" y="894.50" width="19.24" height="13.58" fill="#8339F2"/><rect x="817.12" y="894.50" width="19.24" height="13.58" fill="#7227FF"/><rect x="835.56" y="894.50" width="18.44" height="13.58" fill="#6217FF"/><rect x="669.60" y="881.72" width="19.24" height="13.58" fill="#E67777"/><rect x="688.04" y="881.72" width="19.24" height="13.58" fill="#E97A7F"/><rect x="706.48" y="881.72" width="19.24" height="13.58" fill="#E6778A"/><rect x="724.92" y="881.72" width="19.24" height="13.58" fill="#DC6E98"/><rect x="743.36" y="881.72" width="19.24" height="13.58" fill="#CE5FAA"/><rect x="761.80" y="881.72" width="19.24" height="13.58" fill="#BD4FBD"/><rect x="780.24" y="881.72" width="19.24" height="13.58" fill="#AC3ED2"/><rect x="798.68" y="881.72" width="19.24" height="13.58" fill="#9C2EE7"/><rect x="817.12" y="881.72" width="19.24" height="13.58" fill="#8E1FFC"/><rect x="835.56" y="881.72" width="18.44" height="13.58" fill="#8112FF"/><rect x="669.60" y="868.94" width="19.24" height="13.58" fill="#ED5858"/><rect x="688.04" y="868.94" width="19.24" height="13.58" fill="#F25E62"/><rect x="706.48" y="868.94" width="19.24" height="13.58" fill="#F25D70"/><rect x="724.92" y="868.94" width="19.24" height="13.58" fill="#EB5782"/><rect x="743.36" y="868.94" width="19.24" height="13.58" fill="#E04B96"/><rect x="761.80" y="868.94" width="19.24" height="13.58" fill="#D23EAC"/><rect x="780.24" y="868.94" width="19.24" height="13.58" fill="#C42FC4"/><rect x="798.68" y="868.94" width="19.24" height="13.58" fill="#B622DB"/><rect x="817.12" y="868.94" width="19.24" height="13.58" fill="#AB16F3"/><rect x="835.56" y="868.94" width="18.44" height="13.58" fill="#A00CFF"/><rect x="669.60" y="856.16" width="19.24" height="13.58" fill="#F33A3A"/><rect x="688.04" y="856.16" width="19.24" height="13.58" fill="#FB4247"/><rect x="706.48" y="856.16" width="19.24" height="13.58" fill="#FE4557"/><rect x="724.92" y="856.16" width="19.24" height="13.58" fill="#FA416C"/><rect x="743.36" y="856.16" width="19.24" height="13.58" fill="#F23983"/><rect x="761.80" y="856.16" width="19.24" height="13.58" fill="#E72E9C"/><rect x="780.24" y="856.16" width="19.24" height="13.58" fill="#DB22B6"/><rect x="798.68" y="856.16" width="19.24" height="13.58" fill="#D118D1"/><rect x="817.12" y="856.16" width="19.24" height="13.58" fill="#C80FEB"/><rect x="835.56" y="856.16" width="18.44" height="13.58" fill="#C007FF"/><rect x="669.60" y="843.38" width="19.24" height="13.58" fill="#F91C1C"/><rect x="688.04" y="843.38" width="19.24" height="13.58" fill="#FF282C"/><rect x="706.48" y="843.38" width="19.24" height="13.58" fill="#FF2D40"/><rect x="724.92" y="843.38" width="19.24" height="13.58" fill="#FF2D58"/><rect x="743.36" y="843.38" width="19.24" height="13.58" fill="#FF2772"/><rect x="761.80" y="843.38" width="19.24" height="13.58" fill="#FC1F8E"/><rect x="780.24" y="843.38" width="19.24" height="13.58" fill="#F316AB"/><rect x="798.68" y="843.38" width="19.24" height="13.58" fill="#EB0FC8"/><rect x="817.12" y="843.38" width="19.24" height="13.58" fill="#E508E5"/><rect x="835.56" y="843.38" width="18.44" height="13.58" fill="#E003FF"/><rect x="669.60" y="830.60" width="19.24" height="13.58" fill="#FF0000"/><rect x="688.04" y="830.60" width="19.24" height="13.58" fill="#FF0F13"/><rect x="706.48" y="830.60" width="19.24" height="13.58" fill="#FF182A"/><rect x="724.92" y="830.60" width="19.24" height="13.58" fill="#FF1A45"/><rect x="743.36" y="830.60" width="19.24" height="13.58" fill="#FF1762"/><rect x="761.80" y="830.60" width="19.24" height="13.58" fill="#FF1281"/><rect x="780.24" y="830.60" width="19.24" height="13.58" fill="#FF0CA0"/><rect x="798.68" y="830.60" width="19.24" height="13.58" fill="#FF07C0"/><rect x="817.12" y="830.60" width="19.24" height="13.58" fill="#FF03E0"/><rect x="835.56" y="830.60" width="18.44" height="13.58" fill="#FF00FF"/></g>
<path d="M669.4 830.6L669.4 958.9M668.9 958.6L854.0 958.6" stroke="#222" stroke-width="1" fill="none"/>
<path d="M667.0 932.8L669.0 932.8M667.0 900.9L669.0 900.9M667.0 868.9L669.0 868.9M667.0 837.0L669.0 837.0" stroke="#555" stroke-width="1" fill="none"/>
<path d="M697.1 959.0L697.1 960.5M733.9 959.0L733.9 960.5M770.8 959.0L770.8 960.5M807.7 959.0L807.7 960.5" stroke="#555" stroke-width="1" fill="none"/>
<path d="M872.2 958.0L875.5 958.0" stroke="#777" stroke-width="1" fill="none"/>
<text transform="translate(670.4 828.2) scale(1.005 1)" font-size="18.8">Color threshold: 0.3</text>
<text transform="translate(631.1 845.3) scale(0.950 1)" font-size="17.4">10.0</text>
<text transform="translate(640.4 875.6) scale(0.950 1)" font-size="17.4">7.5</text>
<text transform="translate(640.3 909.6) scale(0.950 1)" font-size="17.4">5.0</text>
<text transform="translate(640.4 941.2) scale(0.950 1)" font-size="17.4">2.5</text>
<text transform="translate(690.8 976.4) scale(0.950 1)" font-size="17.4">2</text>
<text transform="translate(728.0 976.4) scale(0.950 1)" font-size="17.4">4</text>
<text transform="translate(764.2 976.4) scale(0.950 1)" font-size="17.4">6</text>
<text transform="translate(800.6 976.4) scale(0.950 1)" font-size="17.4">8</text>
<text transform="translate(834.3 976.4) scale(0.950 1)" font-size="17.4">10</text>
<text transform="translate(625.4 943.1) rotate(-90) scale(0.840 1)" font-size="25.5" font-style="italic" fill="#E8112D">NEUROG3</text>
<text transform="translate(741.4 1000.3) scale(0.835 1)" font-size="25.5" font-style="italic" fill="#1010E0">USP7</text>
<text transform="translate(917.0 606.5) scale(1.054 1)" font-size="59" font-weight="bold">d</text>
<text transform="translate(1081.5 679.9) scale(0.941 1)" font-size="32.5">Average Expression</text>
<defs><linearGradient id="gd" x1="0" x2="1" y1="0" y2="0"><stop offset="0" stop-color="#FF0000"/><stop offset="0.25" stop-color="#FD4E33"/><stop offset="0.5" stop-color="#F8856C"/><stop offset="0.75" stop-color="#EBAFA1"/><stop offset="1" stop-color="#D3D3D3"/></linearGradient></defs>
<rect x="1372.5" y="656.4" width="129.3" height="25.5" fill="url(#gd)"/>
<path d="M1391.3 656.4L1391.3 661.4M1428.0 656.4L1428.0 661.4M1464.8 656.4L1464.8 661.4M1501.3 656.4L1501.3 661.4" stroke="#fff" stroke-width="0.8" fill="none"/>
<path d="M1501.3 676.9L1501.3 681.9" stroke="#fff" stroke-width="0.8" fill="none"/>
<text transform="translate(1401.0 645.1) rotate(-90) scale(0.913 1)" font-size="32.2">1.5</text>
<text transform="translate(1437.5 645.1) rotate(-90) scale(0.910 1)" font-size="32.2">1.0</text>
<text transform="translate(1474.0 644.0) rotate(-90) scale(0.889 1)" font-size="32.2">0.5</text>
<text transform="translate(1510.5 644.0) rotate(-90) scale(0.886 1)" font-size="32.2">0.0</text>
<rect x="1066.9" y="727.7" width="459.6" height="285.9" fill="none" stroke="#000" stroke-width="3.6"/>
<path d="M1102.4 1013.6L1102.4 1023.1M1153.2 1013.6L1153.2 1023.1M1231.8 1013.6L1231.8 1023.1M1297.5 1013.6L1297.5 1023.1M1361.2 1013.6L1361.2 1023.1M1426.2 1013.6L1426.2 1023.1M1492.3 1013.6L1492.3 1023.1" stroke="#000" stroke-width="3.3" fill="none"/>
<path d="M1057.4 781.1L1066.9 781.1M1057.4 870.7L1066.9 870.7M1057.4 960.2L1066.9 960.2" stroke="#000" stroke-width="3.3" fill="none"/>
<text transform="translate(1091.9 1056.6) scale(0.930 1)" font-size="32.2">8</text>
<text transform="translate(1148.5 1056.6) scale(0.930 1)" font-size="32.2">10</text>
<text transform="translate(1214.4 1056.6) scale(0.930 1)" font-size="32.2">12</text>
<text transform="translate(1277.0 1056.6) scale(0.930 1)" font-size="32.2">14</text>
<text transform="translate(1342.1 1056.6) scale(0.930 1)" font-size="32.2">16</text>
<text transform="translate(1407.3 1056.6) scale(0.930 1)" font-size="32.2">18</text>
<text transform="translate(1472.2 1056.6) scale(0.930 1)" font-size="32.2">19</text>
<text transform="translate(905.5 794.5) scale(0.885 1)" font-size="30.8" font-style="italic">NEUROG3</text>
<text transform="translate(978.8 884.0) scale(0.871 1)" font-size="30.8" font-style="italic">USP7</text>
<text transform="translate(975.6 969.3) scale(0.903 1)" font-size="30.8" font-style="italic">PDX1</text>
<text transform="translate(1166.7 1100.5) scale(0.974 1)" font-size="32.5">Gestational week</text>
<circle cx="1102.4" cy="781.1" r="1.5" fill="#CFCFCF"/>
<circle cx="1167.2" cy="781.1" r="6.6" fill="#F6917C"/>
<circle cx="1232.0" cy="781.1" r="5.2" fill="#E9B7AC"/>
<circle cx="1297.3" cy="781.1" r="7.1" fill="#F2A594"/>
<circle cx="1361.4" cy="781.1" r="7.7" fill="#FA6242"/>
<circle cx="1426.4" cy="781.1" r="3.0" fill="#D3D3D3"/>
<circle cx="1491.2" cy="781.1" r="2.3" fill="#D3D3D3"/>
<circle cx="1102.4" cy="870.7" r="8.4" fill="#D3D3D3"/>
<circle cx="1167.2" cy="870.7" r="10.2" fill="#F7836B"/>
<circle cx="1232.0" cy="870.7" r="9.4" fill="#F0A796"/>
<circle cx="1297.3" cy="870.7" r="11.2" fill="#FB5A3B"/>
<circle cx="1361.4" cy="870.7" r="7.9" fill="#D3D3D3"/>
<circle cx="1426.4" cy="870.7" r="6.6" fill="#D3D3D3"/>
<circle cx="1491.2" cy="870.7" r="8.4" fill="#D3D3D3"/>
<circle cx="1102.4" cy="960.2" r="8.4" fill="#D3D3D3"/>
<circle cx="1167.2" cy="960.2" r="12.0" fill="#E8B9AF"/>
<circle cx="1232.0" cy="960.2" r="17.4" fill="#FF0000"/>
<circle cx="1297.3" cy="960.2" r="14.0" fill="#F2A18E"/>
<circle cx="1361.4" cy="960.2" r="11.0" fill="#D3D3D3"/>
<circle cx="1426.4" cy="960.2" r="6.6" fill="#D3D3D3"/>
<circle cx="1491.2" cy="960.2" r="10.0" fill="#D3D3D3"/>
<text transform="translate(1573.5 1014.0) rotate(-90) scale(0.909 1)" font-size="32.5">% Expressed</text>
<circle cx="1601.3" cy="875.3" r="1.1" fill="#000"/>
<text transform="translate(1622.5 884.9) scale(0.930 1)" font-size="32.2">0</text>
<circle cx="1601.3" cy="907.1" r="5.6" fill="#000"/>
<text transform="translate(1621.5 916.2) scale(0.930 1)" font-size="32.2">10</text>
<circle cx="1601.3" cy="938.5" r="9.4" fill="#000"/>
<text transform="translate(1622.2 947.6) scale(0.930 1)" font-size="32.2">20</text>
<circle cx="1601.3" cy="973.0" r="13.5" fill="#000"/>
<text transform="translate(1622.5 981.2) scale(0.930 1)" font-size="32.2">30</text>
<text transform="translate(17.9 1649.0) scale(1.159 1)" font-size="54.5" font-weight="bold">g</text>
<text transform="translate(190.9 1667.5) scale(0.941 1)" font-size="32.5">Average Expression</text>
<defs><linearGradient id="gg" x1="0" x2="1" y1="0" y2="0"><stop offset="0" stop-color="#FF0000"/><stop offset="0.25" stop-color="#FD4E33"/><stop offset="0.5" stop-color="#F8856C"/><stop offset="0.75" stop-color="#EBAFA1"/><stop offset="1" stop-color="#D3D3D3"/></linearGradient></defs>
<rect x="481.2" y="1645.6" width="129.3" height="25.4" fill="url(#gg)"/>
<path d="M500.3 1645.6L500.3 1650.6M537.0 1645.6L537.0 1650.6M574.0 1645.6L574.0 1650.6M610.0 1645.6L610.0 1650.6" stroke="#fff" stroke-width="0.8" fill="none"/>
<path d="M610.0 1666.0L610.0 1671.0" stroke="#fff" stroke-width="0.8" fill="none"/>
<text transform="translate(509.5 1634.0) rotate(-90) scale(0.913 1)" font-size="32.2">1.5</text>
<text transform="translate(546.0 1634.0) rotate(-90) scale(0.910 1)" font-size="32.2">1.0</text>
<text transform="translate(582.5 1632.9) rotate(-90) scale(0.889 1)" font-size="32.2">0.5</text>
<text transform="translate(619.0 1632.9) rotate(-90) scale(0.886 1)" font-size="32.2">0.0</text>
<rect x="169.6" y="1686.2" width="491.2" height="237.5" fill="none" stroke="#000" stroke-width="3.6"/>
<path d="M226.0 1923.7L226.0 1929.7M320.4 1923.7L320.4 1929.7M414.8 1923.7L414.8 1929.7M509.2 1923.7L509.2 1929.7M603.6 1923.7L603.6 1929.7" stroke="#000" stroke-width="3.3" fill="none"/>
<path d="M163.6 1725.9L169.6 1725.9M163.6 1792.2L169.6 1792.2M163.6 1864.4L169.6 1864.4" stroke="#000" stroke-width="3.3" fill="none"/>
<text transform="translate(19.6 1736.3) scale(0.882 1)" font-size="30.8" font-style="italic">NEUROG3</text>
<text transform="translate(79.1 1803.7) scale(0.858 1)" font-size="30.8" font-style="italic">USP7</text>
<text transform="translate(76.5 1875.1) scale(0.898 1)" font-size="30.8" font-style="italic">PDX1</text>
<text transform="translate(212.9 1966.1) scale(0.838 1)" font-size="32.5">EP</text>
<text transform="translate(280.5 1966.1) scale(0.962 1)" font-size="32.5">Alpha</text>
<text transform="translate(382.1 1966.1) scale(0.929 1)" font-size="32.5">Beta</text>
<text transform="translate(470.8 1966.1) scale(0.987 1)" font-size="32.5">Delta</text>
<text transform="translate(584.8 1966.1) scale(0.864 1)" font-size="32.5">PP</text>
<circle cx="226.0" cy="1725.9" r="16.6" fill="#FF0000"/>
<circle cx="320.4" cy="1725.9" r="5.6" fill="#BEBEBE"/>
<circle cx="414.8" cy="1725.9" r="5.1" fill="#BEBEBE"/>
<circle cx="509.2" cy="1725.9" r="3.8" fill="#BEBEBE"/>
<circle cx="603.6" cy="1725.9" r="1.5" fill="#BEBEBE"/>
<circle cx="226.0" cy="1792.2" r="7.7" fill="#F4624A"/>
<circle cx="320.4" cy="1792.2" r="8.7" fill="#CFADA6"/>
<circle cx="414.8" cy="1792.2" r="10.0" fill="#E4988A"/>
<circle cx="509.2" cy="1792.2" r="7.7" fill="#BEBEBE"/>
<circle cx="603.6" cy="1792.2" r="6.6" fill="#BEBEBE"/>
<circle cx="226.0" cy="1864.4" r="8.9" fill="#E98A76"/>
<circle cx="320.4" cy="1864.4" r="4.6" fill="#BEBEBE"/>
<circle cx="414.8" cy="1864.4" r="14.5" fill="#F26E54"/>
<circle cx="509.2" cy="1864.4" r="10.0" fill="#CFADA6"/>
<circle cx="603.6" cy="1864.4" r="5.1" fill="#BEBEBE"/>
<text transform="translate(709.3 1905.4) rotate(-90) scale(0.901 1)" font-size="32.5">% Expressed</text>
<circle cx="743.4" cy="1804.2" r="6.1" fill="#000"/>
<text transform="translate(774.1 1816.0) scale(0.930 1)" font-size="32.2">10</text>
<circle cx="743.4" cy="1833.0" r="10.2" fill="#000"/>
<text transform="translate(774.8 1844.7) scale(0.930 1)" font-size="32.2">20</text>
<circle cx="743.4" cy="1865.7" r="15.0" fill="#000"/>
<text transform="translate(775.1 1877.7) scale(0.930 1)" font-size="32.2">30</text>
<defs><path id="e_Beta" d="M414.5 1192h0m1-2h0m0.5 2h0m0.5-1h0m0.5 1h0m0 0h0m0.5-1h0m0.5-0.5h0m1-2.5h0m0 3h0m0-2h0m0.5 2.5h0m2-3h0m1 2h0m1 2h0m1.5-1h0m-14 5h0m3.5-0.5h0m1.5 0h0m2-2h0m2-1h0m5 1.5h0m0.5 2.5h0m2-1.5h0m0.5 1.5h0m-19.5 2h0m1.5 3h0m1.5-2.5h0m0 3h0m1-0.5h0m3.5-3.5h0m3.5 3.5h0m1.5-1h0m1-1.5h0m0.5-1.5h0m1.5 3h0m0.5-1.5h0m1-0.5h0m0.5 1.5h0m0-2.5h0m0 1.5h0m1 0h0m-18 4h0m0 0.5h0m0.5 0.5h0m0 1h0m0-1.5h0m1 0.5h0m0-1h0m0.5 3h0m1.5 1h0m2-0.5h0m1-1.5h0m1 1.5h0m0.5-2h0m1.5 2h0m0.5-1h0m0.5-2.5h0m1 0h0m1-0.5h0m1.5-0.5h0m2 1h0m1.5 1.5h0m2-1h0m0-1h0m3 4.5h0m1.5-1h0m1-2.5h0m-26.5 8.5h0m1-4.5h0m1 2.5h0m3-1h0m2-2h0m3 1.5h0m0 2.5h0m0.5-4h0m1 4.5h0m0.5-4h0m1.5 3.5h0m1 0.5h0m0-1.5h0m0 0h0m0-1h0m0 1.5h0m1.5 1.5h0m0.5-4h0m0 4h0m0-2.5h0m4.5-1h0m1 2h0m0.5-1.5h0m0-1h0m2.5 1h0m1 2.5h0m2.5 0h0m1 0.5h0m-38.5 1.5h0m8 2h0m0-1.5h0m2.5 0.5h0m1 0.5h0m1.5 0h0m0.5-1h0m0 1h0m0-0.5h0m5.5 1.5h0m0-1h0m0.5 1.5h0m1.5-2h0m0.5 1.5h0m1.5-2.5h0m2.5 1.5h0m0 0h0m0.5-1.5h0m2.5 1h0m2.5 0h0m1 0.5h0m0 0.5h0m2-0.5h0m0.5-2h0m0.5 0h0m-28 4h0m1 1h0m1 3h0m2 0h0m1 0.5h0m1-1h0m1.5-3h0m1.5 3h0m0-1.5h0m0 0h0m1 0.5h0m0-0.5h0m3 2.5h0m0.5-3.5h0m2.5 1h0m2 1h0m3.5 1.5h0m1-4h0m1.5 3h0m1-2h0m0 1.5h0m1 0h0m3.5-2h0m3.5 2.5h0m-58 6h0m4-2h0m4-2h0m14.5 1h0m0.5 1.5h0m0.5 1h0m0.5-4h0m0.5 5h0m1-4.5h0m0 4h0m0.5-4h0m1-0.5h0m0.5 2h0m1 0h0m0.5 2.5h0m0-3h0m1.5 2h0m0-0.5h0m2-1h0m1 2h0m1-0.5h0m1-3h0m2 2h0m2.5 1h0m3 1h0m0.5-4h0m1 2h0m3.5-2h0m3.5-0.5h0m0.5 2h0m1.5 0.5h0m1-2.5h0m0.5 1.5h0m1 1.5h0m1-2h0m1 2.5h0m0.5 0.5h0m0.5-2h0m0 2.5h0m-54 2.5h0m6.5 2.5h0m5-4h0m4.5 4h0m2-2.5h0m3 0h0m0-0.5h0m0 2.5h0m0.5-3h0m4 1h0m1 2.5h0m1 0h0m1.5-0.5h0m1-2h0m1.5-1.5h0m1 1.5h0m0.5-1h0m1.5 1h0m2.5 3h0m0.5-3.5h0m1 2.5h0m1 1h0m0-3.5h0m2 1.5h0m0.5 1.5h0m0.5 0h0m2 0h0m0-2.5h0m2.5 1.5h0m0-2h0m1.5 2h0m5-2h0m-136 8h0m94 0.5h0m4-1.5h0m0 0h0m1-1.5h0m1.5 2.5h0m0.5-2h0m0-2h0m1.5 1.5h0m0-0.5h0m2 1h0m0 1.5h0m0.5 0.5h0m1.5-1h0m3-1.5h0m1.5-1h0m0.5 1h0m3-1h0m0 2.5h0m2.5 0h0m0.5-2h0m0 3h0m1-4.5h0m0.5 1h0m0.5 1h0m2 0h0m0 2h0m0.5-1.5h0m1.5-1h0m0.5 1h0m0-0.5h0m1 0h0m0 2.5h0m0.5-1h0m1-2h0m2 1h0m2.5-1h0m0.5-1h0m2 1.5h0m1.5-2h0m-139 9.5h0m101-2.5h0m3.5 2.5h0m2.5-4.5h0m0 1h0m0.5 1h0m0.5 0h0m0.5 0h0m0.5 1.5h0m2-3h0m0 3.5h0m1.5 0h0m0-1h0m4.5 1.5h0m3.5-4h0m2 2.5h0m4-0.5h0m0 2h0m3-3.5h0m3 1.5h0m4 2.5h0m1-2.5h0m-163 4.5h0m126 1h0m3 0h0m1-1h0m1-1h0m3.5 3.5h0m5.5-1h0m1.5-1h0m0-1h0m0.5 2h0m0.5-2h0m0.5 0.5h0m0.5 0h0m5.5 3h0m4.5-2h0m3 1h0m0-3h0m1.5 4h0m4.5-4.5h0m2 3h0m-42 4h0m10.5-2h0m2 3.5h0m0-1h0m1 0.5h0m0-2.5h0m2 1h0m2-1h0m2.5 0.5h0m1 2h0m1-0.5h0m0 0h0m0.5 1.5h0m1-3h0m2-1h0m0 1.5h0m1-2h0m1.5 3.5h0m1.5-3.5h0m-93 10h0m35.5-2.5h0m36-2h0m4 2h0m3.5 1.5h0m2.5 1h0m0-3.5h0m1.5-1.5h0m7.5 1.5h0m1.5-1.5h0m13.5 1h0m-119 6h0m1 0h0m1 3h0m1-4h0m0.5 2.5h0m1.5 1h0m0-2h0m2 2.5h0m0.5-2h0m1 1.5h0m0-1h0m1.5-2h0m1.5 2.5h0m0.5-1.5h0m0-2h0m0 2.5h0m0.5 0h0m0.5 0h0m0.5-0.5h0m7 1.5h0m-21 5.5h0m0-0.5h0m0.5 0h0m0.5-4h0m1.5 3h0m0.5-1h0m4.5 0h0m0 0.5h0m0.5-1h0m0.5 0h0m2.5-1.5h0m2 1h0m1.5 3.5h0m1-1h0m1 0.5h0m0-1.5h0m1-1h0m3.5 2.5h0m5-0.5h0m0 1h0m5.5-0.5h0m15.5-1.5h0m31.5 1.5h0m24.5-4h0m16.5 1h0m4.5 3h0m0-2h0m4 1h0m13-3h0m-142 6h0m2 2.5h0m1-3.5h0m1 1h0m0 0h0m1.5 1h0m1-1h0m0.5 4h0m1.5-3h0m4 2h0m0.5 0.5h0m0 0h0m1-3.5h0m0.5 1h0m1.5-1.5h0m3.5 1h0m1-1h0m1 4h0m2 0h0m1.5-3.5h0m1 3.5h0m86.5-0.5h0m2.5-3h0m0.5 1.5h0m3 1h0m0.5-1.5h0m0 1.5h0m0-0.5h0m1.5 0.5h0m2-3h0m1.5 0.5h0m5 3h0m1-1.5h0m0.5 2h0m11-1.5h0m-165 3.5h0m24.5-0.5h0m3 2.5h0m1-1.5h0m1 1.5h0m2-3.5h0m0.5 0h0m0 4h0m0.5 0.5h0m0.5-3.5h0m4.5 0h0m0.5 4h0m2-3h0m0.5-0.5h0m1.5-0.5h0m1 3h0m2 0h0m2-4h0m1 1.5h0m2.5-1h0m19.5 2.5h0m8 1.5h0m9.5 0h0m49-3.5h0m0.5 3h0m0.5 0h0m1.5-3h0m3 3.5h0m0.5-4h0m0.5 0h0m0.5 1h0m0.5 1.5h0m2 2h0m2.5-1.5h0m0.5-3h0m2 1h0m2 1.5h0m3.5-1.5h0m0.5 0.5h0m1.5-0.5h0m0.5-1.5h0m0.5 3.5h0m0 1h0m1.5-4.5h0m1.5 0.5h0m1 4h0m1-1.5h0m2.5-2h0m1 2h0m2.5 0.5h0m0.5 0.5h0m-163.5 1.5h0m2.5 2.5h0m15.5 0h0m4-1.5h0m0.5 0h0m0.5 3.5h0m2.5-4.5h0m0.5 1.5h0m0.5-1h0m0.5 2.5h0m0-2.5h0m4.5 1h0m0.5 2h0m4-1h0m0.5-2h0m4.5 0.5h0m23 2.5h0m5.5 0.5h0m5.5-2.5h0m3.5 1.5h0m0-2.5h0m0.5-1h0m1.5 0.5h0m2.5-0.5h0m0 4h0m0.5-2.5h0m7 2h0m39-1.5h0m1.5 2h0m1.5-2.5h0m2.5-1.5h0m0 2h0m2 0h0m0 3h0m1-0.5h0m0-2h0m0.5 0h0m2.5-1.5h0m0.5 2h0m2-0.5h0m0-2.5h0m1 1h0m1 3.5h0m0.5-0.5h0m3.5 0h0m1.5-2.5h0m0.5 2h0m1 0.5h0m1.5 0.5h0m2 0.5h0m0.5-2h0m2-1h0m0-1h0m0.5 1h0m1.5 2h0m2.5-2.5h0m-141.5 3.5h0m0 2.5h0m0.5-0.5h0m5 1h0m0-2.5h0m0 0h0m1.5 0h0m0 2.5h0m6-2.5h0m5 1.5h0m22-1.5h0m2.5 2.5h0m3 1h0m3 1h0m0-3.5h0m2.5 3.5h0m0.5-2.5h0m0-1h0m1 1.5h0m3-3h0m0.5 0.5h0m0.5 4h0m0-2h0m0.5-2h0m0.5 2.5h0m1.5-3h0m1.5 1h0m5 1h0m0.5 1h0m1-3h0m0.5 4h0m2-2.5h0m0.5-0.5h0m1 3h0m1 0h0m2-2.5h0m33.5 3h0m1-4.5h0m1 5h0m1.5-2.5h0m1 0.5h0m1.5 0.5h0m1.5-1.5h0m0 0.5h0m2.5-2h0m1 1h0m3.5 0.5h0m1-1.5h0m0 1h0m0.5 0h0m4 2h0m1.5-2h0m2 2h0m1.5-0.5h0m0 1h0m1-4h0m0.5 3.5h0m1 0.5h0m0.5-0.5h0m0.5 1h0m0 0.5h0m1.5-5h0m0.5 3.5h0m0-3h0m1 2.5h0m0-1.5h0m0 0h0m1 0.5h0m1-1.5h0m1 4h0m2.5-0.5h0m0.5 1h0m-155 2h0m8 2.5h0m2.5-2.5h0m1 0h0m4 1h0m40.5 0.5h0m0.5-3h0m4.5 3h0m0.5-3h0m1 4.5h0m0-1h0m0.5-0.5h0m3.5-3h0m2 0h0m0.5 2h0m1-2h0m0.5 2.5h0m0 1h0m0.5-2h0m1 0.5h0m1 1h0m1 0.5h0m1.5-0.5h0m4-2h0m0.5 2.5h0m36 0h0m2.5-3.5h0m0.5 1.5h0m2.5 0.5h0m1.5-2.5h0m3.5 4h0m4-4h0m0.5 0.5h0m2 3.5h0m1.5-3.5h0m0 3h0m1.5 0h0m1.5 1h0m0 0h0m1-2.5h0m2.5-0.5h0m0.5 3.5h0m1.5-1.5h0m0.5-0.5h0m2 2h0m8-4.5h0m-169 5.5h0m1.5 3.5h0m19-3h0m0.5 0h0m1 2h0m4.5-3.5h0m49.5 1.5h0m0 2h0m2.5 1h0m6.5-3h0m1.5 3h0m0-2.5h0m1.5 1.5h0m0.5-2.5h0m1 1.5h0m1.5 1.5h0m4 0.5h0m0.5-4.5h0m0 3h0m1.5-1h0m0.5 2.5h0m0.5-0.5h0m0-3.5h0m1 3h0m32.5-0.5h0m1 0h0m2-1h0m0.5 0.5h0m2 0h0m0 2h0m5-4h0m1 1h0m1.5-1h0m1 4h0m0.5-3h0m0.5 2.5h0m2.5-1.5h0m4.5 0h0m0.5 1.5h0m1-2h0m0.5 0.5h0m1-0.5h0m0 0.5h0m0.5 1h0m2.5-3h0m2.5 4.5h0m2-1h0m0.5-2h0m1 2.5h0m3-2.5h0m1-2h0m-188 5.5h0m1.5 1h0m5.5 1.5h0m1 0h0m1 1h0m3 0.5h0m1.5 0.5h0m1-3h0m2 2.5h0m2.5-0.5h0m0-1h0m0.5 1h0m18-2.5h0m1 1.5h0m0.5-1.5h0m0 0.5h0m5 1.5h0m48.5 1h0m0.5-3.5h0m0.5 0h0m0 2h0m4 1.5h0m2.5-1.5h0m0-1.5h0m1.5 0h0m0.5-0.5h0m0 1.5h0m3 2h0m1-2h0m0.5 1h0m3 0h0m0.5-2h0m1 2.5h0m1.5-0.5h0m0.5-0.5h0m2.5-2.5h0m0.5 0.5h0m0 1.5h0m0.5 1h0m0 0h0m4-2.5h0m28 3h0m0.5-2h0m1 1h0m2.5 1h0m1-3.5h0m1 1.5h0m0.5-1.5h0m1 3.5h0m0.5-2.5h0m0-1h0m1 3.5h0m0-2h0m0.5 2.5h0m1.5 0h0m4-4h0m2 2h0m0.5-1h0m1 0h0m1 1h0m2.5 0.5h0m1-0.5h0m0.5-1.5h0m1.5-0.5h0m1.5 1h0m10-1h0m0.5 0h0m-220.5 9.5h0m48.5-5h0m0 1.5h0m7.5-0.5h0m3-1h0m8.5 4.5h0m2.5-3h0m1.5-1h0m1 1h0m0.5 2.5h0m0-1.5h0m0.5 1.5h0m1-1.5h0m0.5-2.5h0m0 3.5h0m0 1.5h0m1.5-3h0m0.5 2h0m1-0.5h0m50-3h0m7-0.5h0m0.5 3h0m6.5-2h0m0.5 0h0m1.5-0.5h0m1.5 3.5h0m0.5 0.5h0m1.5-4.5h0m0 2h0m0.5 2.5h0m2.5-3h0m0.5-1.5h0m11 3.5h0m22 0h0m0.5-0.5h0m0-1.5h0m0.5 2.5h0m0-1h0m0.5-2.5h0m5.5 1h0m2.5 0.5h0m0-1.5h0m1 3h0m1.5-3.5h0m1.5 0.5h0m1 3.5h0m2.5-1h0m1.5-1h0m0 3h0m4-4h0m3 0.5h0m0.5 1h0m3-1.5h0m0.5-0.5h0m0.5 0.5h0m-194.5 5h0m50 0.5h0m0.5-1.5h0m0.5 4h0m0 0h0m4 0h0m2.5-0.5h0m1-1.5h0m0-1.5h0m1 2.5h0m0-1.5h0m2.5 0.5h0m50.5-1h0m3 2.5h0m3-3h0m0 1h0m4.5-0.5h0m0-0.5h0m0.5 2h0m1-1.5h0m1-1h0m0.5 2h0m0-1.5h0m1 0.5h0m2 1h0m1-0.5h0m31 0h0m1 1.5h0m2-2.5h0m1 0h0m2.5 0.5h0m1-0.5h0m0 2h0m1-2.5h0m3 3h0m0-1h0m1.5 3h0m0-1.5h0m0.5 1h0m0-2h0m5-2.5h0m0.5 0h0m4.5 0h0m5 3h0m1.5 0.5h0m0.5-2.5h0m1.5 2.5h0m2-2.5h0m2 1h0m1.5-2h0m-161 7h0m2.5 0h0m0.5 0.5h0m0.5-0.5h0m1 2.5h0m0-1h0m1-3h0m0 3.5h0m0 0.5h0m1.5-3.5h0m0.5 1.5h0m0.5-0.5h0m2.5-2h0m2 1h0m0.5 2h0m1 1.5h0m0-3h0m1.5 3.5h0m1-2.5h0m1.5-0.5h0m0.5 2.5h0m0.5-2h0m0 1.5h0m0.5 0.5h0m3-4h0m0 4h0m0.5-1.5h0m1-0.5h0m0.5 0h0m98.5-0.5h0m0.5 0h0m2.5 1h0m1 2h0m2-5h0m0 1.5h0m0.5-1h0m0.5 1h0m0-1h0m0-0.5h0m1 2.5h0m0 0.5h0m0 2h0m0.5-3h0m4.5 0.5h0m0.5-0.5h0m1 2h0m3-1.5h0m1 1.5h0m3-3h0m0 3.5h0m0.5 0h0m2.5-4h0m0.5 1h0m0.5 3h0m2.5 0h0m1-3h0m0.5-1.5h0m1 4.5h0m0.5 0.5h0m1.5-1.5h0m-154 3h0m0.5-0.5h0m0 1h0m1 0.5h0m0.5 2h0m1-4h0m3 1.5h0m0 3h0m1-2h0m0.5-1h0m0 0.5h0m0.5-2h0m2.5 2h0m5 1.5h0m0 0h0m1-1.5h0m2-0.5h0m1 2h0m3-2.5h0m0 3h0m0.5-2.5h0m0.5 0h0m1.5 2h0m0.5-3h0m52.5 0.5h0m8 1h0m10-1h0m17 0.5h0m1 2.5h0m0-1.5h0m3.5 0h0m1.5-1.5h0m2 1.5h0m3 2h0m0.5-2h0m3-2h0m0.5-0.5h0m0.5 1h0m1-0.5h0m0.5 2.5h0m0.5-0.5h0m0-1.5h0m5 0h0m0.5 1h0m2.5-0.5h0m4 2h0m2.5-1h0m1 1.5h0m1.5-2.5h0m3 1.5h0m3.5-0.5h0m-154 2h0m0.5 1h0m0.5 1.5h0m1.5-2.5h0m1 3.5h0m2.5-1.5h0m2.5 0h0m1.5 0h0m2.5 2h0m0.5-0.5h0m1-1.5h0m0.5 2h0m2.5-3h0m1.5 2h0m0.5-2.5h0m1.5 4h0m2-0.5h0m0.5-3.5h0m2 2.5h0m64.5 1h0m20-1.5h0m1.5-0.5h0m2.5 2h0m1.5-2.5h0m0.5 2.5h0m1 0h0m6-3h0m2 4h0m0.5-1h0m4 0h0m1-2.5h0m3 3.5h0m4-1.5h0m2.5 0.5h0m0.5-3.5h0m1.5 3.5h0m0.5-0.5h0m1 0h0m1-1h0m2.5-1h0m2.5-0.5h0m0.5-1h0m1.5 4.5h0m-148 0.5h0m3.5 3.5h0m1 1h0m1.5-3.5h0m1 1.5h0m2 2.5h0m0.5-4.5h0m0-0.5h0m2.5 2h0m0.5 2.5h0m2-4.5h0m2.5 0h0m0.5 1.5h0m1.5 1.5h0m1-1.5h0m0.5-0.5h0m0 0h0m1 0h0m0 3.5h0m0.5-4.5h0m3.5 4h0m75.5 1h0m3-1h0m0.5 1h0m1.5-2h0m1.5 1h0m0-1.5h0m1.5-1h0m1.5 3h0m1-0.5h0m1-3h0m1.5 0.5h0m2 3h0m2-1.5h0m2.5 0h0m0.5-2.5h0m0 0.5h0m0 3h0m0.5 0h0m5.5-4h0m0.5 2.5h0m0-2h0m0.5-0.5h0m2 0h0m0.5 1h0m5 2h0m1 0.5h0m2.5-1.5h0m1 0h0m-123 4.5h0m0.5 1.5h0m82 1.5h0m2 0.5h0m2.5-1h0m0.5-1.5h0m2 2.5h0m1-1h0m4-3h0m0 2.5h0m3-1.5h0m1 1h0m0.5-0.5h0m4 2.5h0m1-4h0m2 3h0m0-3h0m0.5 3.5h0m1-0.5h0m1-3.5h0m3 3h0m1.5-2.5h0m0 2h0m0.5-2h0m1-0.5h0m0.5 0.5h0m2.5 1h0m1-1h0m-107.5 7h0m67.5 1h0m1-3.5h0m1.5 3h0m2.5-1h0m5-1.5h0m1.5 0.5h0m0.5 2.5h0m1-1h0m1 0.5h0m0.5 0.5h0m3 0.5h0m3.5-4h0m4.5 4h0m4-0.5h0m0.5 0.5h0m0.5-1h0m0-2.5h0m5 2h0m0.5-2h0m0.5 4h0m0.5-2h0m1.5 1.5h0m-103.5 4h0m0.5-2h0m57 3h0m0.5-3.5h0m1.5 1h0m4-1.5h0m0 3h0m0-2.5h0m1 2h0m1.5-1.5h0m2 1.5h0m0 0h0m1-1h0m1-0.5h0m0.5 3h0m3.5-4h0m0 0.5h0m0-1h0m1.5 2.5h0m0 0.5h0m3-0.5h0m0.5-1.5h0m3-1h0m2.5 3.5h0m0-1h0m2.5-2h0m0.5 0h0m2.5 2.5h0m0.5 1.5h0m0.5 0h0m1.5 0h0m1-3h0m0 1h0m0.5 2h0m0.5-4h0m2 2h0m0 2h0m2-3h0m1 1.5h0m1 0h0m0.5 0.5h0m0.5 0h0m2-3h0m-107 5.5h0m59-0.5h0m0.5 3h0m1.5-3.5h0m0 4h0m2-1.5h0m1.5-1h0m0 1.5h0m3.5 0.5h0m3.5-0.5h0m0.5-0.5h0m0.5-1.5h0m1.5 1h0m1.5-0.5h0m2 2h0m0-3.5h0m2 3h0m0.5 0.5h0m1-2h0m0.5 0h0m1.5 1h0m1 0.5h0m0.5-2h0m3.5 0.5h0m0 0.5h0m0.5 1h0m1 0.5h0m2-3h0m0 3h0m2 0h0m3.5-3h0m1 0h0m0 0.5h0m0 0.5h0m0.5-1h0m1 3h0m1-2.5h0m0.5 2h0m0.5 2h0m1-2.5h0m0.5-2.5h0m2 4h0m0.5-2h0m0-0.5h0m0.5-0.5h0m0 3h0m2.5-4h0m6 3h0m-79 4h0m7.5 0h0m10.5 0h0m1.5 1h0m2 0.5h0m0.5-2h0m1.5 2h0m1 0.5h0m0-2.5h0m2.5-0.5h0m0.5 3.5h0m2.5-3.5h0m0 3h0m0.5-1h0m0 1h0m1.5-2.5h0m1 1h0m1.5 0h0m1 2h0m2.5-3h0m1 3.5h0m5 0h0m0.5-0.5h0m2-1.5h0m0-3h0m1.5 2h0m0.5 0.5h0m0-1h0m4-1.5h0m2 4h0m4-1h0m0.5-1h0m0-1h0m1.5 0.5h0m2.5 0.5h0m0-0.5h0m0 3h0m2.5 0h0m2-1.5h0m1.5-2.5h0m0 3h0m2.5 1h0m1.5 0.5h0m2-1.5h0m0.5 1.5h0m-56 0.5h0m3 2h0m0.5 1h0m1-1h0m1.5-0.5h0m5-0.5h0m1.5 3h0m1-1.5h0m1.5 1.5h0m1-3.5h0m0-0.5h0m1 3.5h0m5.5-2.5h0m1 0h0m2 0h0m0.5-0.5h0m0-1h0m1 4.5h0m1 0.5h0m1-0.5h0m1-0.5h0m0.5 0h0m1-0.5h0m1.5-2h0m0.5-0.5h0m0.5 2.5h0m0.5-2h0m4.5 3h0m0-2h0m0 2h0m2-1h0m1-2h0m2 3h0m5.5-1.5h0m0.5 0.5h0m6 1.5h0m0-4h0m1.5 1h0m7-1h0m-242.5 7.5h0m131.5 0h0m34.5 1h0m15.5-4h0m0.5 4h0m1.5-4h0m0.5 0.5h0m1 3.5h0m1 0h0m1.5-1.5h0m0.5-2.5h0m4 3h0m0.5 0h0m1-2.5h0m1 2h0m0 2h0m7.5-3h0m1-1.5h0m2.5 2.5h0m1-1h0m2.5 1.5h0m7 0.5h0m2.5-0.5h0m0.5 1h0m0.5-3.5h0m2.5 2.5h0m1-3h0m1.5 2.5h0m1 1.5h0m0 0h0m0.5-0.5h0m1-1.5h0m1 1h0m0.5-1h0m0.5 1h0m1-3.5h0m3 2h0m0.5 0.5h0m0.5 2.5h0m4.5-2h0m0.5 1.5h0m-60 5.5h0m4-0.5h0m0.5 0h0m4-0.5h0m4-3.5h0m1 1h0m0-0.5h0m1.5 3h0m2-4h0m1 2h0m1.5-1.5h0m0.5 1h0m1 0h0m0.5 0.5h0m1.5 1.5h0m1 0h0m1 1.5h0m2 0h0m0-2.5h0m1-2h0m3.5 2h0m1-1h0m0 1h0m3.5 2h0m2.5-3.5h0m0 1.5h0m4 1h0m0.5-2h0m1.5 1.5h0m1-2.5h0m1.5 1.5h0m0-0.5h0m2 3h0m0 0.5h0m1.5-3.5h0m5-1.5h0m0 1.5h0m1 0h0m0.5 2.5h0m1-0.5h0m0-1.5h0m2.5-2h0m0.5 0.5h0m1.5 0h0m1 2h0m0.5-1h0m1.5 3h0m0-3h0m2 1h0m1 0.5h0m-159.5 6.5h0m5.5-0.5h0m55.5 0h0m3.5-0.5h0m1 1.5h0m4.5-2h0m4.5-1h0m0.5 3h0m0.5-2.5h0m1 1.5h0m1.5-1.5h0m2-1.5h0m0.5 1h0m1.5 3h0m1.5-1.5h0m7 0.5h0m1-2h0m0.5 0h0m5-2h0m1 0.5h0m0.5 1.5h0m2-1h0m1 1.5h0m2.5 1.5h0m0.5 0.5h0m0-1.5h0m1 0h0m3 0h0m0-0.5h0m0.5-0.5h0m0 2.5h0m2-4.5h0m1.5 0h0m0 2h0m1 2h0m0.5-2h0m0 2h0m3-1.5h0m1.5-2.5h0m1 0h0m6 0.5h0m1 2h0m1.5 2.5h0m0.5-4.5h0m0.5 2.5h0m2 0h0m0.5-0.5h0m2-0.5h0m0.5 0h0m3.5-1h0m0.5 3.5h0m1-3h0m0-0.5h0m0.5 3h0m0-1h0m1-1.5h0m1 2.5h0m0 1h0m1.5-2.5h0m3.5-2h0m0.5 1h0m0.5 1h0m0-2h0m1 3h0m3-1.5h0m0.5-1.5h0m0.5 3.5h0m2 0.5h0m1-1.5h0m0.5-2.5h0m1.5 4h0m1.5-0.5h0m0.5-1h0m0 1h0m0.5-3h0m0 2.5h0m0.5-2h0m0.5 2h0m1.5 1h0m-151 5h0m0-1.5h0m3-3h0m0 4h0m0.5 1h0m2-1.5h0m1-1h0m5.5 2h0m1-1h0m9 0.5h0m0-1h0m10.5 1.5h0m2.5-1h0m3.5 0.5h0m1.5-0.5h0m0-2.5h0m1.5 2.5h0m3 0.5h0m1 0h0m1 0h0m2.5-2.5h0m3.5 2h0m1 1h0m1.5-4.5h0m0.5 3.5h0m3-0.5h0m4 0h0m1-0.5h0m4.5 2h0m1-3h0m0.5-1.5h0m0.5 3h0m3.5-1h0m1-2h0m1 3h0m3.5 0.5h0m3-2.5h0m4-0.5h0m2 1.5h0m0.5 2.5h0m1 0h0m1.5 0.5h0m1-1h0m3 1h0m1.5-3h0m1-0.5h0m2.5-0.5h0m0.5-0.5h0m1 3.5h0m3-2.5h0m1 1h0m3 0h0m0.5 1.5h0m0.5-1.5h0m0.5-0.5h0m0.5 2.5h0m0.5-2.5h0m0 2.5h0m1.5-1h0m0-1h0m0.5 0h0m2-2.5h0m1 4.5h0m0 0h0m3-0.5h0m0.5-2.5h0m0-1.5h0m0.5 4.5h0m0.5 0.5h0m2 0h0m2-1.5h0m3-3h0m4.5 0.5h0m0.5 2.5h0m1.5-1h0m0 1.5h0m2 1h0m1.5-3.5h0m0 2h0m0-2h0m2 0h0m0.5-1h0m1 3h0m0.5 0h0m1-3h0m0 1h0m0.5 3h0m1.5 0h0m2-4h0m0.5 2.5h0m0.5 0.5h0m2-3h0m1.5 2.5h0m1.5-2.5h0m0.5 3.5h0m3.5 0.5h0m0 0.5h0m0.5-1.5h0m-264 4h0m104-1h0m3-0.5h0m2-0.5h0m1-0.5h0m0.5 3h0m1.5-1.5h0m0.5 0h0m0-0.5h0m0 0.5h0m12-1h0m2 3h0m1.5 1h0m2-2.5h0m0.5 0.5h0m0.5 2.5h0m1.5-1.5h0m0.5-2h0m0.5 2.5h0m1-3h0m2-1h0m1 3.5h0m0.5 0.5h0m2 0h0m3.5-1.5h0m4.5 2h0m1.5 0h0m1-2.5h0m1 1h0m1.5-0.5h0m2.5 2h0m0.5-2.5h0m1 0.5h0m0.5-0.5h0m2-1.5h0m0 0h0m1 3h0m1-2h0m0.5 2.5h0m2.5-4h0m0.5 1h0m9.5 0.5h0m0.5-1h0m2.5 0h0m18.5 0.5h0m1.5-0.5h0m1 3h0m0-1h0m1.5 2h0m5-4h0m0.5 0.5h0m1 3.5h0m2.5-3h0m1 2h0m4.5-2h0m3-1.5h0m2.5 4h0m0.5-3h0m0.5 0.5h0m0 2.5h0m2-2h0m0 1.5h0m2 0.5h0m1-2.5h0m0.5 0h0m0.5-1.5h0m1 1h0m1.5 0h0m0.5 2.5h0m1 1h0m1-1h0m4 1h0m0.5 0.5h0m0.5-2h0m0-2.5h0m0.5 1.5h0m1 2h0m0.5-2.5h0m1.5-1h0m0.5 3h0m0.5-1h0m0.5-2h0m1 0.5h0m0 1h0m2 1h0m2.5 0.5h0m2 0h0m0.5-0.5h0m1-1.5h0m1 3.5h0m0.5-3.5h0m0.5-1h0m0 4h0m1.5-4h0m0.5 3.5h0m0.5-1.5h0m0.5 1.5h0m2-1.5h0m1.5 2.5h0m4-3h0m0.5 0h0m-148 3h0m8 2h0m7.5-0.5h0m68.5 0.5h0m1.5 0.5h0m0.5-2h0m5.5 4.5h0m3-2h0m0.5-1h0m1-1.5h0m4 4.5h0m3-1.5h0m1-2.5h0m2.5 0h0m2.5 3h0m0.5 0.5h0m1-1.5h0m0.5-2.5h0m0.5 4.5h0m1.5-2.5h0m1.5-0.5h0m4 1h0m0.5-1.5h0m0.5 3h0m1 0h0m1-4h0m2 4.5h0m0-3.5h0m1 3h0m0.5-4.5h0m3 2h0m1 1h0m3.5-1.5h0m3.5 2h0m0 0.5h0m1.5-3.5h0m0.5 0h0m0.5 3h0m0.5 0h0m1-2.5h0m1.5 0h0m1.5 0.5h0m0-1h0m-126.5 5h0m13 2.5h0m16 2h0m19.5-1h0m21.5-3.5h0m3 1.5h0m2 2h0m0-4h0m1.5 2.5h0m1.5 2.5h0m1 0h0m0.5-3.5h0m2.5 1.5h0m5-2.5h0m0 3.5h0m0 0h0m2 0h0m1.5-2h0m0.5-2h0m2.5 2h0m1-1.5h0m0.5 1h0m1 3h0m1-1h0m2-2h0m1 0h0m0.5 3h0m2.5-0.5h0m1.5-1.5h0m1.5-1.5h0m0 1.5h0m0.5-0.5h0m0 2.5h0m0.5-1.5h0m1-0.5h0m0.5 0h0m0.5 0.5h0m0.5 1.5h0m3-2h0m0 1.5h0m1-3.5h0m0.5 2.5h0m0-1.5h0m1-0.5h0m1.5 2.5h0m1 1h0m1.5-3.5h0m0 0.5h0m0.5 3h0m1.5 0h0m1.5-0.5h0m0.5 0.5h0m0-3h0m1-1h0m0 0.5h0m1 3.5h0m1-1.5h0m0.5 1h0m0-2.5h0m2 1h0m1.5 1h0m0-2h0m1 2.5h0m-119.5 4h0m9 0h0m2.5 1.5h0m0.5-2h0m1.5 1.5h0m0.5-1.5h0m1.5-1h0m0 2h0m2-1.5h0m1.5 1.5h0m0.5-2.5h0m4.5 2h0m0.5 1h0m1.5 1h0m38.5-2h0m3.5-1h0m1 3h0m1.5-2h0m2 1h0m1-1h0m0.5 0h0m0 0h0m6 0h0m0 0h0m0.5-2h0m1.5 1h0m2.5 0.5h0m4-1.5h0m1.5 1h0m0 2h0m0.5-4h0m0 2h0m0.5 2h0m2-1.5h0m0.5 2h0m1-1h0m0.5-3.5h0m0.5 1h0m4.5 2h0m1 1.5h0m0.5-0.5h0m1.5-1.5h0m1.5-1h0m5.5 2h0m1-3h0m1.5 3h0m0-0.5h0m0 2h0m1-5h0m-106 9.5h0m1.5-3.5h0m1 1.5h0m0 0h0m1 0h0m1.5-1.5h0m2.5 2.5h0m1.5-1.5h0m0 1h0m2 1.5h0m0-2.5h0m2.5-1.5h0m2.5 0.5h0m0-1h0m0.5 0.5h0m0.5 3h0m3.5 0.5h0m0.5-1h0m22.5 1.5h0m19.5-3.5h0m2 0h0m1 0.5h0m2 3.5h0m1.5-1h0m0.5-3.5h0m0 0h0m1.5 2h0m0.5 1.5h0m0-2h0m3 0h0m0 0h0m3.5-1.5h0m1 3h0m1-1.5h0m2.5 0.5h0m4-1h0m1.5-0.5h0m0.5 1.5h0m2.5 0.5h0m0 0.5h0m2 1h0m0.5-0.5h0m0.5 0.5h0m3-2.5h0m0.5 0.5h0m0 1.5h0m3.5-3h0m-103.5 5h0m1 1.5h0m1.5-1.5h0m0.5 3.5h0m1.5-3.5h0m1 3.5h0m1-0.5h0m2.5-1.5h0m0.5 2h0m6.5-2.5h0m1.5 0h0m1-0.5h0m1 2h0m3 1h0m3-4.5h0m2 0.5h0m40.5 2.5h0m0.5-2h0m0 4h0m0.5-2h0m2 0h0m3-1.5h0m4 0.5h0m0.5 2h0m0.5-0.5h0m2.5 0h0m3 0.5h0m1-3h0m0.5-0.5h0m0.5 1.5h0m0.5-1h0m1.5 3.5h0m0.5-1.5h0m4.5-0.5h0m0 1.5h0m0.5 0h0m1.5-2.5h0m0.5 0h0m1.5-0.5h0m4.5 0h0m-220.5 7.5h0m0 0.5h0m0.5 0h0m0.5-0.5h0m0-2.5h0m0.5 0.5h0m1.5 1h0m3 1h0m64-3h0m48 2.5h0m3-1h0m2-1.5h0m0 0h0m1 3.5h0m0 1h0m0.5-4h0m1.5 3.5h0m0.5-2h0m0.5 0h0m1 0h0m1.5 1h0m0.5 0.5h0m3.5-1h0m6 0h0m0.5 2h0m0-5h0m3 5h0m0-4.5h0m1 1.5h0m0-0.5h0m0 2h0m2.5-0.5h0m6 1.5h0m35.5-4h0m1.5 1.5h0m1 2.5h0m0.5-1h0m1-1.5h0m0-2h0m1 5h0m1 0h0m0-4.5h0m1.5 2h0m0-0.5h0m1 0h0m2.5-1.5h0m1 2h0m0.5-2h0m0.5 4.5h0m1-4.5h0m0 4.5h0m0-4h0m0.5-0.5h0m1 2h0m1.5-1h0m0 0h0m0.5 0h0m0.5 0.5h0m2-2h0m0.5 2.5h0m1 0.5h0m0.5-1.5h0m0.5 3h0m0.5-4h0m-211.5 7h0m2.5 0.5h0m1.5 0h0m0.5-1.5h0m0.5 3.5h0m2-4h0m117 1.5h0m2.5-1h0m1 3.5h0m0-5h0m1.5 2h0m0.5 1.5h0m0 0h0m0-1.5h0m2-0.5h0m0.5 1.5h0m0.5-1.5h0m1.5 3h0m0-2h0m3 0h0m1.5 0.5h0m1 1h0m3 0.5h0m2-3.5h0m0.5 0.5h0m44-0.5h0m0-0.5h0m0-0.5h0m2 1.5h0m0-1.5h0m3.5 1h0m2.5 3h0m1.5-0.5h0m2.5-1h0m1 0h0m-199.5 4.5h0m0.5-0.5h0m0.5-0.5h0m0.5-1h0m1.5 4h0m0.5 0h0m1.5-2h0m119 2h0m1-2h0m0 2h0m1.5-2h0m4-1h0m0.5 3h0m2.5-0.5h0m0.5-2h0m2 1h0m1.5 0h0m1.5 0h0m0-2.5h0m1 0.5h0m1.5 1h0m1.5-1h0m52-0.5h0m1.5 1.5h0m4.5-1.5h0m-232.5 6h0m0.5 3h0m153-3.5h0m-111.5 9.5h0m15 5h0m3-4h0m-5.5 8h0m-11.5 3.5h0m-1.5 12h0m2.5-2h0m0.5-2h0m0.5 2h0m1-1.5h0m0 0.5h0m1 1h0m1.5 0h0m1.5 0.5h0m-6.5 2.5h0m1.5 4h0m3 0h0m0.5 0h0m1.5 0h0m4.5-0.5h0m1 0.5h0m-17 5.5h0m0.5-1h0m3.5-0.5h0m0-1h0m0.5 1.5h0m1-0.5h0m0.5-3.5h0m2 0.5h0m3.5 1.5h0m0.5-2h0m1 0h0m0.5 1.5h0m0-1h0m2.5 3h0m0.5 1.5h0m-17.5 5h0m1-3.5h0m2.5 2.5h0m0-3.5h0m0 2h0m7-1.5h0m3.5 1h0m0-1h0m2 0.5h0m0 0.5h0m0 1h0m0-0.5h0m2-1.5h0m0.5 2h0m0.5 0.5h0m2 1h0m-23.5 3.5h0m1-2.5h0m0-0.5h0m1 0h0m0.5 2h0m1 3h0m2.5-1h0m1.5 0h0m2.5-1h0m0.5-2h0m2 2h0m2-2h0m0 2h0m0.5-1h0m1 3h0m0-3h0m0.5-2h0m1 2h0m0.5 3h0m1.5-3.5h0m1.5 2h0m0.5-1h0m1 1.5h0m0-1.5h0m0-2h0m-22 6h0m1.5-1h0m1 3.5h0m1.5 1h0m0-0.5h0m1.5-3.5h0m2-1h0m1 3.5h0m1-3h0m0 4h0m0.5-2h0m1.5 2.5h0m0.5-4h0m3 3.5h0m1 0h0m0-1.5h0m1 1h0m1-1h0m0-2.5h0m0.5 4.5h0m1.5-0.5h0m2-4h0m-16 4.5h0m1 2h0m0.5-0.5h0m1 3h0m0-2.5h0m1-2h0m2.5 4.5h0m3.5-1.5h0m0 2h0m0.5-0.5h0m0-3h0m2.5 2.5h0m-13 1h0m1 1.5h0m2 0.5h0m1.5 2h0m3-0.5h0m0.5-0.5h0m1-1.5h0m0.5-0.5h0m2.5 4h0m1-1h0m0.5-2h0m0-1.5h0m-10.5 6h0m1 0.5h0m5.5 0.5h0"/></defs>
<defs><path id="e_Delta" d="M366.5 1263.5h0m-179 59h0m-31.5 1.5h0m24.5 2.5h0m4.5-0.5h0m1-1h0m-6 3h0m1.5 2.5h0m0.5-1.5h0m-25.5 5.5h0m1.5 3h0m0.5 0h0m1.5-3h0m30.5-1.5h0m-36 6.5h0m0 1.5h0m1.5-2.5h0m0 1.5h0m1.5-2h0m0 2.5h0m0.5 1.5h0m1-0.5h0m1.5-1h0m1-2h0m-11.5 7.5h0m2.5-0.5h0m3.5 0h0m1-2.5h0m0.5 3h0m0.5-0.5h0m4.5-2.5h0m1.5 4.5h0m0.5-4.5h0m2 0.5h0m0 1.5h0m0.5 0.5h0m2-0.5h0m-23.5 5h0m0.5-1h0m3 0.5h0m3-1h0m1-1h0m0 0h0m0 3.5h0m1.5-1.5h0m0.5-1h0m0.5 2.5h0m1.5-2h0m1.5 0.5h0m1.5-2h0m1 1h0m0.5 3.5h0m2-2h0m0 1h0m3.5-1h0m0.5-2.5h0m1 4h0m0.5-1.5h0m3.5-0.5h0m2 2h0m-30.5 4.5h0m1-0.5h0m5 1h0m1-2h0m0 2h0m0-4h0m1 4.5h0m0.5-4h0m0.5 4h0m2-1h0m1 0.5h0m6-2.5h0m2 1h0m0 2.5h0m0-3.5h0m2 1h0m0.5-1.5h0m0-0.5h0m0.5 0h0m2.5 3.5h0m2-4h0m0.5 2h0m0.5-1h0m1 0.5h0m22 2h0m-60 5h0m2 1h0m0.5-1.5h0m1.5-0.5h0m0.5-1h0m0 0h0m1 3h0m1-2.5h0m0.5 2.5h0m0-1h0m1 1h0m2.5-3.5h0m1.5 4h0m0-4h0m0.5 0.5h0m1-1.5h0m0 0.5h0m5 3.5h0m1.5-2.5h0m3 3h0m0.5-1h0m2.5 0h0m1.5 1h0m1-2.5h0m3 3h0m2 0h0m2.5-4.5h0m0.5 1.5h0m1 2h0m3.5-3h0m-39.5 6h0m1.5 0h0m2 3h0m0-3.5h0m2 2h0m1-3h0m0.5 2h0m0 2.5h0m1-1h0m0-2.5h0m2 2.5h0m0-1.5h0m0 1h0m1-3h0m1.5 0h0m1 2h0m4.5-1.5h0m1.5 1.5h0m0.5 0.5h0m0 1.5h0m1-3.5h0m1.5 0h0m0.5 1.5h0m0.5 1h0m0-3h0m3 0h0m1 2h0m0 2h0m0-1h0m1-0.5h0m0.5-2h0m1.5 2h0m0.5 1.5h0m4.5-3.5h0m0.5 0h0m11 1h0m17 2h0m4 0.5h0m-69.5 1h0m2.5 3.5h0m0.5-1h0m0-2h0m0.5-0.5h0m0.5 1h0m3 0h0m0 1h0m1-2.5h0m1.5 2h0m0-1.5h0m0 4h0m0-2.5h0m3 1.5h0m1 0h0m1.5 1.5h0m0.5-2.5h0m1-2h0m1.5 3.5h0m2-1.5h0m1-0.5h0m0-1.5h0m1.5 2h0m1.5 1h0m2-2.5h0m0 2.5h0m2-1h0m1 1h0m1-1.5h0m1.5-2h0m0.5 3.5h0m0.5-2.5h0m0 3.5h0m2.5-2.5h0m5 0.5h0m3.5 0h0m17.5 0.5h0m0.5-1h0m1-1.5h0m1 2h0m0.5 0.5h0m0.5-1h0m0 2.5h0m0.5-1.5h0m2-1h0m3 2.5h0m1.5-3.5h0m-73 9h0m2-1h0m2-3h0m0 2.5h0m1.5-3.5h0m0 1.5h0m3.5-0.5h0m1 1h0m0 2h0m0.5-2h0m0.5-1h0m1 2h0m0 0.5h0m1-0.5h0m1 1.5h0m0-0.5h0m1-1.5h0m3 0.5h0m1-1h0m1-0.5h0m0.5 3.5h0m2-2h0m2-1h0m0.5 3h0m0.5-2h0m0.5-2.5h0m4 4.5h0m4.5-2h0m10 1h0m0 1h0m0-2h0m1 1.5h0m1.5-2h0m1-2.5h0m0.5 5h0m0-1h0m0.5-3.5h0m1 1.5h0m1.5 2.5h0m2-2h0m2-0.5h0m0.5 0.5h0m2 2h0m0 0.5h0m1-4h0m3 3.5h0m3 0h0m1.5-4h0m-64.5 7h0m2-2h0m4.5 3.5h0m1-3h0m6-0.5h0m0 1.5h0m1 1.5h0m1-0.5h0m1.5 2h0m0-0.5h0m2-3h0m0.5-1h0m1 1.5h0m3 0.5h0m3.5-1h0m0.5 1.5h0m1 1.5h0m15.5-2.5h0m4.5 2h0m1-2h0m1 2.5h0m2-3.5h0m1.5-1h0m0.5 3h0m1 0.5h0m0.5 1.5h0m0.5-0.5h0m1.5-3h0m1 0.5h0m1 1h0m0.5-1h0m4.5-1h0m10.5 3.5h0m17.5-2.5h0m0.5 2h0m1-1.5h0m1-1.5h0m3.5 2.5h0m0.5-1h0m0-0.5h0m1.5 1.5h0m2.5-0.5h0m0.5 1.5h0m1.5 0h0m0.5-3h0m-101 8h0m1 0.5h0m2-1h0m1-1h0m5-3h0m2 3h0m0.5 2h0m2.5-5h0m0 1h0m1 3.5h0m0 0h0m3-4h0m0.5 0h0m1 4h0m1-2.5h0m3.5 0.5h0m21.5-2h0m6.5 1.5h0m19-1h0m1.5-0.5h0m2 0h0m-72.5 8.5h0m0-1h0m0-3h0m5 1.5h0m2.5 0.5h0m0.5 0h0m1.5-1h0m3 1h0m1-2h0m0 3.5h0m2.5-0.5h0m19-1.5h0m-38.5 4h0m0 2h0m1.5 1.5h0m1-2h0m3-1.5h0m1 4h0m0-3.5h0m1 2.5h0m1 0.5h0m1-3.5h0m0.5 1.5h0m1.5-0.5h0m1.5 1.5h0m1.5 1.5h0m0-2.5h0m0.5 0.5h0m1-1h0m0 2h0m0.5-2h0m0.5 1h0m0.5-1h0m1.5-1h0m2.5 0.5h0m-22.5 5.5h0m1 2.5h0m1.5-3h0m2-0.5h0m0 2h0m0 0.5h0m1-1h0m0.5 1h0m2-2h0m1 2.5h0m1.5-3h0m3 1h0m0 1.5h0m1-0.5h0m-15 2.5h0m1.5 1h0m1.5 2.5h0m1-3.5h0m0 3h0m1-1h0m1.5 2h0m1-2.5h0m3 2h0m-8 3h0m1.5-1h0m2.5-0.5h0m29.5 9.5h0m7.5 4h0m2.5-2h0m3 1.5h0m4 1.5h0m2-2.5h0m0.5 1h0m-6 2.5h0m3 0h0m1.5 1.5h0m0.5 0h0m0-1h0m2 0h0m0-0.5h0m1 0h0"/></defs>
<defs><path id="e_Alpha" d="M199.5 1230.5h0m-12 6h0m1-0.5h0m4.5 1.5h0m2-1h0m0.5 1h0m1.5-1.5h0m0.5-1.5h0m0.5-0.5h0m2 3h0m1-2.5h0m2 0.5h0m1 2h0m185-2h0m-203 4h0m1.5 1h0m0.5 1h0m1.5-2h0m0.5 3.5h0m0.5-4h0m1.5 1h0m0.5-1h0m0.5 0h0m3-0.5h0m1.5 2.5h0m0.5 0h0m1.5 1.5h0m1-3.5h0m0 0.5h0m0.5 2.5h0m1.5-3h0m1.5-0.5h0m3 3.5h0m1 1h0m45.5 0h0m-69 4.5h0m1.5 0h0m3-1.5h0m1.5 1h0m1-3h0m1-0.5h0m0 1.5h0m3.5 0.5h0m0-1h0m1.5 3.5h0m2-1h0m0-3h0m3.5-1h0m0.5 5h0m1.5-1.5h0m0.5-3.5h0m3 2h0m1.5 2h0m0-1h0m1.5 0h0m4 1.5h0m33 0.5h0m1.5-3.5h0m0 3h0m4-1.5h0m4.5 2h0m0-3h0m1.5 1.5h0m1 0h0m-79.5 2h0m0.5 3.5h0m0.5-0.5h0m6.5 1.5h0m2-1h0m1.5 0h0m0-3h0m1 3h0m1-3.5h0m0.5 0.5h0m0-0.5h0m0 0.5h0m1 0.5h0m0.5 1.5h0m0 0h0m0.5-0.5h0m3.5 0h0m0-1h0m1 3.5h0m2-2h0m6-1h0m2-1.5h0m0.5 0.5h0m3 4h0m1 0h0m0.5-5h0m1.5 0.5h0m27.5 2.5h0m2 2h0m0.5 0h0m0.5-4h0m3 1h0m0 2.5h0m2.5 0h0m0.5-3.5h0m0.5 1h0m2-2h0m0 5h0m1 0h0m0-2h0m1-0.5h0m0 0.5h0m3-0.5h0m1-2h0m1 4h0m-82 1.5h0m0.5-0.5h0m2.5 1h0m1.5 3.5h0m0.5-1.5h0m0 0h0m0-0.5h0m0.5 2h0m0-0.5h0m0.5-3h0m4 1.5h0m0 1h0m2.5-3.5h0m0.5 2h0m0.5-2.5h0m1.5 0.5h0m2 3h0m0 0h0m1-1.5h0m5 0h0m0 2.5h0m0.5-1h0m0.5 1h0m0.5-3h0m0 3h0m0.5 0h0m0.5-1.5h0m2.5 1h0m0 0.5h0m0.5-2.5h0m0.5-0.5h0m0-0.5h0m1 1h0m2.5-1h0m4 1.5h0m1-1h0m2.5 1h0m0-0.5h0m2.5 3h0m20.5 0h0m1-4.5h0m2.5 4.5h0m1.5 0h0m0 0h0m1-1h0m1-2.5h0m1-0.5h0m0.5-0.5h0m1.5 4h0m0-3h0m0.5 3.5h0m1.5-5h0m1 1h0m1.5 1.5h0m0.5-0.5h0m2.5-1.5h0m0.5-0.5h0m-79 7.5h0m1 2.5h0m0.5-2.5h0m5.5 1.5h0m0-0.5h0m0-3.5h0m0.5 0.5h0m1.5-0.5h0m1 0.5h0m1.5 4.5h0m0-2h0m0-0.5h0m2.5 1.5h0m4 0.5h0m4.5 0h0m0-3.5h0m0 1h0m2 2.5h0m0.5-3h0m4.5 0h0m0.5 1h0m0 0.5h0m1-2h0m0.5-1h0m4.5 3.5h0m0-2.5h0m0.5-0.5h0m3 2.5h0m15 0.5h0m3.5 0.5h0m0.5-1.5h0m0.5 0.5h0m1-1.5h0m2.5 0.5h0m3.5 1.5h0m0.5-2.5h0m1.5 1.5h0m6.5 1h0m7.5-1h0m-79.5 6.5h0m3-0.5h0m1.5-0.5h0m0.5 0h0m5-1.5h0m0.5-1h0m1 1.5h0m0.5-0.5h0m0.5 2.5h0m1-0.5h0m2 0.5h0m1-2h0m0.5 0h0m1-0.5h0m0.5-1h0m5 0h0m0 1.5h0m3.5 0h0m0 0h0m2-1h0m1.5 2.5h0m2.5-0.5h0m0.5-2h0m0 0h0m1.5 2.5h0m1.5 0h0m1 1h0m3-1h0m2 0.5h0m1-0.5h0m1 0h0m3.5-3h0m1.5 2.5h0m0 1h0m0.5-2h0m1 0h0m1.5 2h0m0 0.5h0m0.5-2.5h0m2 0h0m2 2h0m0-0.5h0m0 0h0m1 1h0m0-3.5h0m1.5 0.5h0m0-0.5h0m0 0.5h0m0 0h0m2 2.5h0m2.5-3h0m1 1h0m0.5 2.5h0m1.5-3.5h0m0.5 3.5h0m1.5-1h0m2 1.5h0m-69 2h0m1.5 2.5h0m5-0.5h0m2-3h0m2.5 4h0m1.5-3.5h0m1.5 2h0m2.5-1.5h0m0.5 2.5h0m0.5-4h0m0 4h0m2-2h0m0.5-2h0m0.5 3.5h0m2 0h0m0-3h0m3.5 1h0m0.5-1h0m1 0.5h0m0 3h0m1.5-1h0m0-2h0m1 2h0m0.5 1h0m1-1.5h0m2 0.5h0m2.5-2.5h0m1-0.5h0m0.5 2.5h0m1.5-3h0m0 3.5h0m2.5-3.5h0m0 2.5h0m0.5 1.5h0m1-2h0m2-2h0m0 0.5h0m3 0h0m0.5 3.5h0m3.5 0.5h0m0.5-0.5h0m0 0h0m3.5-1.5h0m3 1h0m1-2h0m1-0.5h0m2 1h0m0.5 2.5h0m1-4.5h0m1.5 2.5h0m0 1h0m1 0.5h0m-64.5 3.5h0m1.5 2h0m1 0h0m1.5-0.5h0m0-3h0m0 0.5h0m2 0h0m0 1h0m1 0.5h0m5.5 1h0m0.5-1.5h0m0 0.5h0m0 0h0m0.5 0h0m2.5 0.5h0m1-1h0m0 0h0m2.5 2h0m3-3.5h0m1.5 1.5h0m1.5-1.5h0m0.5 2h0m0 0.5h0m2.5-1.5h0m0.5 0h0m4 2h0m0-2.5h0m0.5 1h0m0.5 2.5h0m2.5-4.5h0m1 3.5h0m2-2.5h0m2.5-0.5h0m0.5 1h0m1 2.5h0m0.5-2.5h0m0.5 0h0m0.5-0.5h0m0 1h0m1.5 2h0m0.5-1h0m1.5-3.5h0m1.5 1.5h0m0.5 0h0m1 1.5h0m0 1.5h0m3.5-4h0m0.5 4.5h0m1.5-2.5h0m2.5-0.5h0m0 2h0m1.5-1h0m2-1.5h0m1 0h0m0.5 2.5h0m2-3h0m-66 4h0m2 3.5h0m0.5-1h0m2-1.5h0m5-1h0m1.5 0.5h0m2-0.5h0m3 1h0m3.5 0.5h0m4.5-1.5h0m0 4.5h0m1 0h0m1-0.5h0m2.5-4h0m3.5 1.5h0m1.5-1h0m0.5 1h0m1 2.5h0m2.5-1.5h0m0.5-1h0m0 2h0m0.5-3h0m0 3h0m1-2h0m1-1.5h0m1.5 1h0m1-1h0m1 1h0m5 3.5h0m9.5-4h0m2 3h0m0.5-3.5h0m1.5 0h0m43.5 1h0m-103.5 5h0m2.5-0.5h0m1 2.5h0m2.5 0h0m0 1h0m0-1h0m1-1.5h0m1.5-0.5h0m1.5-0.5h0m1 3.5h0m0.5-2.5h0m2.5 0.5h0m5 2.5h0m0-0.5h0m5.5-1h0m2-1.5h0m1-1h0m0.5 3.5h0m0.5-2h0m0-1.5h0m0.5 1.5h0m3.5 0h0m1.5 0.5h0m0.5 1h0m1-1h0m0-1.5h0m0 1.5h0m1.5-1h0m1 3.5h0m0.5-3h0m0.5-1.5h0m1 1.5h0m2 1.5h0m1-2h0m4.5-0.5h0m1.5-1h0m2 2h0m2.5 3h0m0.5-3.5h0m1-1h0m2 4h0m1-4h0m0 4h0m1.5 0.5h0m0-1h0m0.5-3h0m2.5 3h0m-59.5 1.5h0m2 1h0m1.5 1h0m2-2.5h0m0.5 4.5h0m0.5-0.5h0m0-1.5h0m2-2h0m0.5 1h0m1 2.5h0m0-4h0m1 2h0m1 1h0m0.5-2.5h0m1.5 1.5h0m1-1.5h0m11 2.5h0m0-2h0m2.5 2.5h0m1-1.5h0m1 1h0m0.5 1h0m0.5-4h0m2 4.5h0m0-3.5h0m1.5 2h0m7.5-1h0m2.5 2h0m0-3.5h0m0 1.5h0m0.5 0.5h0m3 1.5h0m2.5-2h0m0.5 2h0m0.5-3.5h0m0 4h0m0.5-2h0m2-1h0m2.5-0.5h0m-54.5 8.5h0m2-0.5h0m1.5-0.5h0m0.5-3h0m2 0.5h0m0.5 1.5h0m4.5 0.5h0m0 1.5h0m0.5-1h0m15.5-2.5h0m1 3.5h0m2.5-2.5h0m0-1.5h0m2.5 3h0m0 0.5h0m0.5-3.5h0m0 1h0m0.5 0.5h0m0.5 3h0m0-3.5h0m2 2h0m3 0h0m2.5 1h0m1.5 0h0m0.5-4.5h0m1 1h0m0 2.5h0m1.5-1h0m4-0.5h0m0.5 2.5h0m15.5-3.5h0m5 1h0m14 2.5h0m-86.5 1h0m1.5 2.5h0m0.5 2h0m0.5-2h0m1-0.5h0m1.5-1h0m2.5 1h0m4.5-1h0m0.5 2h0m2.5-1.5h0m15.5 2.5h0m0.5-1.5h0m0.5-3h0m1 0.5h0m0.5 0.5h0m0 0h0m0.5 3h0m0.5-2.5h0m0.5 1.5h0m0.5-0.5h0m0.5 2.5h0m0.5-3.5h0m0.5 0.5h0m0.5-2h0m0.5 5h0m0.5-1h0m0.5-3.5h0m1 3h0m0.5-2h0m0.5 3h0m1-1.5h0m1.5-0.5h0m1 1h0m1-1.5h0m3 2h0m3.5-2h0m0-1.5h0m-44 7.5h0m0 1h0m2.5-0.5h0m0 0h0m1.5 0.5h0m2.5-1h0m0-2.5h0m12 0h0m3 0h0m2.5 3.5h0m1-3h0m0.5 1h0m0-0.5h0m1.5-1h0m5.5 1.5h0m1.5-1h0m3.5 0h0m5.5 2h0m3.5 0.5h0m-58 4h0m4.5-2h0m0 0.5h0m0.5-1h0m0.5 5h0m0-4h0m0.5 1h0m0.5-1.5h0m0 0h0m1.5 2h0m2-2h0m0.5 0.5h0m5.5-0.5h0m2.5 2h0m1-2h0m2.5 4h0m30-2h0m0.5 0h0m1.5-1.5h0m0.5 2.5h0m2 0.5h0m1.5-1h0m1-1.5h0m-66 6.5h0m0 0h0m13-1h0m0.5-1h0m1 2.5h0m1.5 1h0m2-3h0m0 1h0m1 1h0m0-3h0m7.5 1h0m3.5 1h0m32-1h0m-63.5 4.5h0m1 2h0m1 0.5h0m1.5 0.5h0m1.5-3.5h0m16.5 0.5h0m1 1.5h0m1-1h0m54 1h0m-77.5 4.5h0m68.5 2h0m0-1.5h0m0.5 0h0m0.5 14h0m0.5 7.5h0m-31 17h0m5 52h0m1.5 3h0"/></defs>
<defs><path id="e_PP" d="M262.5 1165.5h0m1 1.5h0m2.5 0h0m-9.5 0.5h0m1.5 4.5h0m3 0h0m0 0h0m0.5-3h0m2 1.5h0m0.5 0h0m0-0.5h0m1 1h0m0 1h0m0.5-2h0m1.5 0h0m1.5-1.5h0m0.5 2h0m0.5-0.5h0m4.5 2h0m0 0h0m1-4.5h0m-15.5 7h0m2 1h0m1 0h0m0.5 2h0m2-4h0m2-0.5h0m0.5 3h0m1.5 1h0m2 0.5h0m1.5-0.5h0m1 0h0m4-3.5h0m0.5 1.5h0m0.5 2h0m1.5-1h0m0 0.5h0m-17 2.5h0m0 1h0m3.5-1h0m1 3h0m0.5-1h0m0.5-2h0m0 2.5h0m0.5-3h0m4.5 1.5h0m0.5 1.5h0m1-2.5h0m0.5 3.5h0m1.5-1h0m0-0.5h0m1-2.5h0m3 2h0m2-2h0m1 0.5h0m1-1h0m-22 6.5h0m0.5-1h0m1-0.5h0m0 1.5h0m0.5-0.5h0m5 3h0m0.5 0.5h0m5-4h0m4.5 0h0m1 2h0m0.5 2h0m2.5-2.5h0m0.5 0h0m0.5 2h0m1-4h0m1 3.5h0m0-1.5h0m0 1h0m0.5-1.5h0m0.5 0.5h0m-23.5 7.5h0m1.5 0h0m0-3.5h0m1 2.5h0m0-3h0m0.5 2.5h0m1 1h0m0-4.5h0m0.5 3h0m0.5 1.5h0m1.5-1.5h0m2 1.5h0m1.5 0.5h0m0.5 0h0m1-0.5h0m4.5-1.5h0m1-1.5h0m3 2.5h0m0-0.5h0m0.5-2h0m0.5 2h0m0.5 1.5h0m3.5-3.5h0m0.5 2h0m0.5-1h0m3 0.5h0m1-1.5h0m-30.5 5h0m0.5-1.5h0m0.5 2.5h0m1 0.5h0m1 0h0m1.5-3h0m0.5 3h0m0.5 0h0m2-1.5h0m2.5-1.5h0m3 0h0m1 1h0m0 2.5h0m1 0h0m1-3h0m0.5 1.5h0m1 1.5h0m1 0.5h0m2.5-3.5h0m4 4h0m0-0.5h0m0-1h0m0.5 1.5h0m1.5-1.5h0m0-2h0m0.5 1.5h0m1-0.5h0m0.5 0h0m0-2h0m1.5 4.5h0m1.5-1.5h0m-31 4h0m1.5 1.5h0m1.5 0.5h0m0-2h0m0.5-2h0m0.5 2.5h0m2.5 1h0m0-2.5h0m1.5-1h0m0.5 1h0m1 1h0m0-0.5h0m0 1.5h0m4.5 1.5h0m3-4h0m0 2h0m1 1h0m0.5 1h0m0.5-2h0m2.5 1h0m0.5-2h0m3.5 3h0m0.5-2h0m1 0.5h0m2.5 1h0m1-1.5h0m-30 2.5h0m3.5 1h0m0.5 2.5h0m0.5 0h0m2-1h0m1 0.5h0m1 0.5h0m0.5-1.5h0m0.5 2.5h0m1-1h0m0.5-3h0m1.5 1h0m0 0h0m2 2.5h0m6.5-3h0m0.5 1.5h0m1 2.5h0m0-4.5h0m0 3h0m1 1.5h0m0.5-3.5h0m0.5 3.5h0m0-3h0m2 0.5h0m0.5-2h0m1.5 1h0m-28 7.5h0m1 0.5h0m0.5-3h0m3 1.5h0m0.5-2.5h0m10.5 1.5h0m1.5 0h0m0 0h0m1-0.5h0m1 1.5h0m3-1.5h0m-23 8.5h0m2-4h0m1.5 2h0m0.5-2.5h0m1 1.5h0m2 2h0m2-2.5h0m1 1.5h0m0.5-2.5h0m0.5 2.5h0m1.5-1h0m1.5-1.5h0m0 2h0m3-1h0m-17.5 6h0m0 0h0m0.5 0h0m1-0.5h0m4.5 0h0m1-0.5h0m0 3.5h0m0.5-1h0m0 0.5h0m1.5 0.5h0m1 0h0m2-2h0m8.5 0h0m22 1.5h0m-42 3h0m0.5-2h0m0 2.5h0m1-1.5h0m2.5-1.5h0m0.5 0.5h0m0 1h0m3 3.5h0m2-4h0m9.5 1.5h0m-18 6h0m1-1h0m0.5 1h0m0 0h0m0.5 0h0m0.5-3h0m0 2h0m1-1h0m0.5 0h0m0 3h0m1.5-0.5h0m0.5 0h0m2.5-3h0m17 2.5h0m80-2.5h0m-111 6.5h0m2-0.5h0m16 2.5h0m10.5-2h0m2.5 0h0m1.5-1.5h0m4 2h0m1-1h0m0 0.5h0m0.5-2.5h0m0.5 2h0m0 2.5h0m2 0h0m0.5-1.5h0m1 0.5h0m1.5 1h0m-44.5 1.5h0m1.5 0.5h0m1 3h0m1-0.5h0m0.5-4h0m2.5 1h0m0.5 2.5h0m0.5 0.5h0m9-0.5h0m7.5-1.5h0m6.5-1h0m3 3.5h0m0-3h0m0 2.5h0m1.5-4h0m2 0h0m0.5 3h0m0.5-3h0m1.5 1h0m0.5 0h0m0.5-0.5h0m3 2h0m-38 4.5h0m0 0.5h0m17.5 1h0m11-3h0m-22 7h0m-114 60.5h0m1.5 1h0m2 1h0m0-1.5h0m0.5-0.5h0m3 0h0m1 1h0m19.5-1.5h0m-25 6.5h0m2-4h0m0 0h0m1.5 1h0m2.5 4h0m0-3.5h0m1-1h0m1 1h0m0 0.5h0m-4.5 6h0m-3.5 12.5h0"/></defs>
<defs><path id="e_EP" d="M258 1338h0m6.5 1.5h0m69 5h0m-79.5 7h0m0-2h0m3.5 0h0m1.5 3h0m2-1.5h0m0.5 0.5h0m4.5-0.5h0m-42 4h0m7.5 1.5h0m1 0h0m0.5-4h0m0.5 4.5h0m0-1h0m4 0h0m0-1h0m1.5 2.5h0m15-4.5h0m27 4.5h0m-45 2.5h0m4.5-2h0m0.5 0h0m21 4h0m18 0h0m0.5 0.5h0m1.5-1.5h0m0-2h0m3.5 1.5h0m3 1.5h0m-43 5.5h0m0.5-0.5h0m1.5-0.5h0m3-1.5h0m0-1h0m29.5 0h0m0.5-1h0m2 1h0m1 1.5h0m0 0.5h0m2-3.5h0m0 1h0m0 1.5h0m0.5-0.5h0m-35 6.5h0m2 0.5h0m0-2.5h0m1 0.5h0m1 2.5h0m1.5-2h0m2 1h0m4.5 1.5h0m12-1h0m3-4h0m1 2h0m1.5 1h0m0.5 1h0m1-1h0m0.5-2.5h0m2.5 0.5h0m0.5 1h0m0 1.5h0m1 0.5h0m5-1.5h0m17.5-1h0m-58.5 8h0m1.5-1.5h0m0-0.5h0m0.5-0.5h0m1.5 0.5h0m1.5 1h0m4-2h0m3.5-1h0m5 3.5h0m0-0.5h0m2.5 0.5h0m0.5-1h0m0.5 1h0m2.5-1.5h0m3.5-0.5h0m0 1.5h0m1 1.5h0m0-3.5h0m0.5 1h0m0.5-1h0m1.5 0.5h0m0.5 0.5h0m5.5-1.5h0m0.5 0h0m-37.5 5h0m6.5-0.5h0m2 3.5h0m0.5 1h0m0-1h0m0.5-2.5h0m2 3h0m0-1.5h0m1-2h0m2.5 4h0m0-5h0m1.5 0.5h0m0 4h0m1-2.5h0m0 2h0m2.5-3h0m0.5 1h0m1 2.5h0m0.5-3h0m0.5 1h0m0.5-1h0m0-0.5h0m1.5-0.5h0m1 3h0m1-3.5h0m1 1h0m5.5 2.5h0m9.5-2.5h0m22 3.5h0m-43.5 1h0m4.5 0h0m2 7h0m5-1h0m-18 45h0"/></defs>
<g fill="none" stroke-linecap="round" stroke-width="4.6"><use href="#e_Beta" stroke="#00BF7D"/><use href="#e_Delta" stroke="#00B0F6"/><use href="#e_Alpha" stroke="#A3A500"/><use href="#e_PP" stroke="#E76BF3"/><use href="#e_EP" stroke="#F8766D"/></g>
<rect x="118.3" y="1148.5" width="687.7" height="369.8" fill="none" stroke="#000" stroke-width="3.9"/>
<rect x="801.0" y="1515.8" width="2.9" height="5.2" fill="#fff"/>
<path d="M213.6 1518.3L213.6 1525.6M322.9 1518.3L322.9 1525.6M432.2 1518.3L432.2 1525.6" stroke="#000" stroke-width="3.6" fill="none"/>
<path d="M110.3 1223.4L118.3 1223.4M110.3 1325.0L118.3 1325.0M110.3 1426.1L118.3 1426.1" stroke="#000" stroke-width="3.7" fill="none"/>
<text font-size="32.2"><tspan transform="scale(1 1)" x="197.4" y="1555.9" textLength="21.6" lengthAdjust="spacingAndGlyphs">−</tspan><tspan x="220.2" y="1555.9" textLength="16.7" lengthAdjust="spacingAndGlyphs">5</tspan></text>
<text transform="translate(314.1 1555.9) scale(0.930 1)" font-size="32.2">0</text>
<text transform="translate(423.0 1555.9) scale(0.930 1)" font-size="32.2">5</text>
<text transform="translate(79.6 1240.8) scale(0.930 1)" font-size="32.2">4</text>
<text transform="translate(81.8 1339.3) scale(0.930 1)" font-size="32.2">0</text>
<text font-size="32.2"><tspan transform="scale(1 1)" x="65.3" y="1440.6" textLength="21.6" lengthAdjust="spacingAndGlyphs">−</tspan><tspan x="88.7" y="1440.6" textLength="16.7" lengthAdjust="spacingAndGlyphs">4</tspan></text>
<text transform="translate(266.2 1596.6) scale(0.912 1)" font-size="32.5">UMAP-1</text>
<text transform="translate(55.7 1382.9) rotate(-90) scale(0.936 1)" font-size="32.5">UMAP-2</text>
<text transform="translate(-1.0 1144.6) scale(1.070 1)" font-size="54.5" font-weight="bold">e</text>
<ellipse cx="577.7" cy="1244.8" rx="9.7" ry="9" fill="#00BF7D"/>
<text transform="translate(605.9 1255.5) scale(0.971 1)" font-size="31.3">Beta</text>
<ellipse cx="580.3" cy="1283.0" rx="9.7" ry="9" fill="#A3A500"/>
<text transform="translate(608.3 1292.5) scale(1.005 1)" font-size="31.3">Alpha</text>
<ellipse cx="580.3" cy="1322.6" rx="9.7" ry="9" fill="#30C8FB"/>
<text transform="translate(608.3 1332.3) scale(1.026 1)" font-size="31.3">Delta</text>
<ellipse cx="580.3" cy="1366.0" rx="9.7" ry="9" fill="#F57EF8"/>
<text transform="translate(608.4 1366.7)" font-size="31.3">Pancreatic</text>
<text transform="translate(608.3 1396.0) scale(1.057 1)" font-size="31.3">Polypeptide</text>
<ellipse cx="581.5" cy="1412.7" rx="9.7" ry="9" fill="#F6776D"/>
<text transform="translate(608.8 1430.5) scale(0.841 1)" font-size="31.3">EP</text>
<defs><path id="o0" d="M263.5 1167h0m6 3h0m-3 9h0m8.5 0h0m8-0.5h0m-13 8.5h0m-3 4.5h0m0-3h0m11 7.5h0m11 1h0m136-2.5h0m2.5 1h0m-162.5 4h0m9.5 0h0m12.5-0.5h0m4 1h0m4.5 0h0m114.5 2h0m1.5-2.5h0m8 2.5h0m-145.5 4h0m1 1h0m-7.5 2h0m3.5-1h0m151 4h0m2 0.5h0m4.5-3.5h0m1 2h0m3-1.5h0m-158.5 4.5h0m-9 6h0m5.5-0.5h0m148.5-1h0m9-0.5h0m1.5 3h0m-160 3h0m138.5 0.5h0m3 1h0m-211.5 5h0m207 1h0m5.5 0.5h0m8-2.5h0m4 2h0m1-2.5h0m-128 6.5h0m2-1h0m4 2.5h0m1 0h0m100-2h0m0-2h0m5.5 3h0m10.5 0h0m0.5-2h0m7.5 0.5h0m-230 6h0m6-2.5h0m89 4h0m118.5-0.5h0m4.5 0.5h0m-227 3.5h0m14-3h0m45.5 5h0m178.5-2h0m9-2.5h0m-188.5 9.5h0m14.5-2.5h0m156 0.5h0m6 0.5h0m-213.5 3.5h0m47.5-1h0m-67 8h0m0.5-3.5h0m4 2h0m13.5-1h0m14.5 1.5h0m97.5 2h0m6.5-0.5h0m0-1h0m12 0.5h0m-142.5 1.5h0m1 1.5h0m4 2h0m21-0.5h0m27.5-2.5h0m1.5 3.5h0m2 0h0m64.5-0.5h0m8.5-2.5h0m17.5 3h0m52.5-0.5h0m-186 2h0m19.5 3h0m14-1.5h0m192-0.5h0m-241.5 4.5h0m9.5 1.5h0m3.5-0.5h0m8.5-1.5h0m3 1h0m0.5 0h0m7.5-1.5h0m3 1h0m27-0.5h0m68.5-1h0m55.5 4.5h0m50-0.5h0m4.5 0.5h0m6.5-1h0m10.5-3.5h0m8 1h0m-236 4.5h0m76.5 0h0m18 2.5h0m4-1.5h0m47.5 3h0m91-0.5h0m-220.5 2h0m7.5-0.5h0m7.5 3.5h0m66.5-4h0m5.5 0.5h0m51.5 0h0m51.5-0.5h0m6.5 2h0m0 0.5h0m19 1h0m4-3h0m-249 5h0m30 1.5h0m151 2h0m61-2.5h0m0.5 3.5h0m-220.5 5h0m139.5-1.5h0m10.5 1h0m48.5-2h0m29.5-0.5h0m-230 7h0m2.5-2.5h0m2.5-1h0m6.5 1.5h0m49 3h0m5.5-1h0m20-2h0m81.5-1h0m-187 4.5h0m15 0h0m2.5 3.5h0m62.5-4h0m29.5 3.5h0m72.5-2h0m45.5-1.5h0m17.5 0.5h0m-258.5 5h0m14 2h0m176-2.5h0m36.5 3h0m6.5-0.5h0m5.5 2.5h0m-236.5 1h0m48.5 0.5h0m70.5 2.5h0m3.5 0.5h0m107-4h0m15 0.5h0m4 3.5h0m-17.5 1.5h0m1 0.5h0m17 0.5h0m-195.5 7h0m65-3h0m98.5 3h0m9 1h0m12.5-1.5h0m12-2.5h0m-142.5 7.5h0m11-3.5h0m90 5h0m16.5-4h0m0 3h0m6.5-1.5h0m11.5-0.5h0m-288.5 16h0m1.5 0.5h0m254-1h0m21 0h0m-283.5 4.5h0m6-1h0m8.5 2.5h0m95.5 1.5h0m2-1.5h0m5 0h0m66.5-2.5h0m64.5 2h0m7 0h0m30 2h0m-284 4h0m12-2.5h0m238 0h0m2.5 1h0m9.5 2.5h0m2.5-2h0m12 0h0m0.5-1h0m-291.5 6.5h0m6.5-1.5h0m13.5-0.5h0m106.5 3h0m131.5-2.5h0m25.5 1.5h0m-271 2h0m10 0.5h0m89.5 3h0m143.5-3.5h0m2 0h0m35 3h0m20-0.5h0m-312.5 2.5h0m3 0.5h0m21 2.5h0m8.5-2.5h0m2.5 1h0m27.5-1.5h0m2.5 2.5h0m5 1.5h0m80-1h0m6-1h0m101 2h0m9.5-3.5h0m25 0h0m25.5 0.5h0m-292.5 4h0m110.5 3.5h0m32.5 0h0m69-2h0m42.5 0.5h0m30-1h0m0.5-1h0m-281.5 7.5h0m25-2h0m46.5 2.5h0m24.5-2h0m13.5-0.5h0m10 2.5h0m39 0h0m31.5 0.5h0m8-0.5h0m2.5-3.5h0m15 3h0m16-2.5h0m11.5 1h0m13 3h0m23.5-2h0m3.5-1h0m2.5-1h0m-287.5 6.5h0m165-1.5h0m6 2h0m47-2h0m21 2h0m27.5-1h0m13 0h0m-107.5 5h0m79.5 0.5h0m28.5 3h0m0-3.5h0m-287 6h0m259.5-1h0m15.5 0h0m19 0h0m8.5 2.5h0m-11 4h0m-75.5 5.5h0m48-2.5h0m13.5-0.5h0m19 1.5h0m-98.5 5.5h0m5.5 1.5h0m16 0.5h0m63-3.5h0m1 1h0m0.5-1h0m-264.5 8.5h0m253 0.5h0m12-3h0m-79 8h0m4.5-2h0m2 1.5h0m55-4.5h0m5.5 1h0m-192 6h0m5 0h0m129-0.5h0m7.5 0h0m-134 47.5h0m5.5-4h0m9 6.5h0m-16.5 3.5h0m13 2h0m4.5-0.5h0m-7 4.5h0m8 3.5h0m-1 7.5h0"/></defs>
<defs><path id="o1" d="M263 1180h0m156 32h0m-154 5.5h0m-62 17.5h0m211-1.5h0m-8 5h0m19.5 3.5h0m-21 1.5h0m18.5 10.5h0m-187 11.5h0m-39 3h0m7 7h0m27 3.5h0m-33.5 6.5h0m23-1.5h0m-17.5 8h0m-3.5 5h0m193 0h0m61.5-2.5h0m-75 6h0m52.5 1h0m-245.5 17h0m225 20h0m-15.5 18.5h0m-159.5 3h0m161 5.5h0m-257.5 7h0m128.5 4h0m113-0.5h0m1.5 3.5h0m-68 4.5h0m83.5-0.5h0m36 34h0m-2.5 6.5h0"/></defs>
<defs><path id="o2" d="M255 1257h0m2-4.5h0m5.5 0.5h0m-23.5 13.5h0m7-2.5h0m4.5 10.5h0m2 3h0m-9.5 5h0m10.5 5h0m-2 1.5h0m-10 8h0m-3 7.5h0m10 4h0m5 0.5h0m10-0.5h0m161.5 15h0m24 0.5h0m-184.5 15.5h0m159 3.5h0m-169.5 8.5h0m7.5 0h0m152.5-2.5h0m16.5-0.5h0m-199 8h0m1 0h0m1-0.5h0m4 0h0m0-1h0m1.5 2.5h0m151-3.5h0m12.5 1h0m14-1h0m-180.5 6h0m5-2h0m41 3h0m-36.5 6.5h0m5-3.5h0m35.5 0.5h0m105.5 2.5h0m37.5-3.5h0m9 1.5h0m10 0.5h0m0.5 1.5h0m-197.5 4h0m12 1.5h0m18-1h0m1-1h0m127.5-1.5h0m15 3h0m6.5-1h0m-179 4h0m2 0h0m5.5-1h0m3.5-1h0m5 3.5h0m2.5 0h0m3.5-1.5h0m3.5-0.5h0m1 3h0m3-2.5h0m-15 3h0m1 1.5h0m3 0h0m2.5-0.5h0m0-0.5h0m3.5-1h0m6.5 3.5h0m31.5 1h0m126.5-3.5h0m-239 6.5h0m249.5 1h0m3.5-3h0m11 1.5h0m-9.5 6.5h0m-21.5 6h0m12-0.5h0m7 0.5h0m-8 3.5h0m-29.5 3h0m6 7h0m23 1h0m-11.5 6h0m-230 14h0m56.5 11h0"/></defs>
<defs><path id="o3" d="M250 1278h0m7.5 71.5h0m-4.5 19.5h0"/></defs>
<defs><path id="o4" d="M402.5 1355h0m-129.5 23.5h0m10 2.5h0m163 19.5h0"/></defs>
<text transform="translate(916.0 1139.5) scale(1.081 1)" font-size="59" font-weight="bold">f</text>
<g fill="none" stroke-linecap="round" stroke-width="9.43" transform="translate(930.52 439.26) scale(0.6358 0.6579)">
<use href="#e_Beta" stroke="#BEBEBE"/><use href="#e_Delta" stroke="#BEBEBE"/><use href="#e_Alpha" stroke="#BEBEBE"/><use href="#e_PP" stroke="#BEBEBE"/><use href="#e_EP" stroke="#BEBEBE"/>
<use href="#o0" stroke="#7C7CDB"/><use href="#o1" stroke="#0000FF"/>
</g>
<rect x="999.7" y="1182.3" width="248.9" height="274.1" fill="none" stroke="#000" stroke-width="3.8"/>
<path d="M1066.7 1456.4L1066.7 1464.4M1136.1 1456.4L1136.1 1464.4M1205.3 1456.4L1205.3 1464.4" stroke="#000" stroke-width="3.5" fill="none"/>
<path d="M992.1 1244.2L999.7 1244.2M992.1 1310.8L999.7 1310.8M992.1 1377.1L999.7 1377.1M992.1 1443.5L999.7 1443.5" stroke="#000" stroke-width="3.5" fill="none"/>
<text font-size="32.2"><tspan transform="scale(1 1)" x="1045.5" y="1493.3" textLength="21.6" lengthAdjust="spacingAndGlyphs">−</tspan><tspan x="1068.3" y="1493.3" textLength="16.7" lengthAdjust="spacingAndGlyphs">5</tspan></text>
<text transform="translate(1126.2 1493.3) scale(0.930 1)" font-size="32.2">0</text>
<text transform="translate(1195.8 1493.3) scale(0.930 1)" font-size="32.2">5</text>
<text transform="translate(960.6 1253.2) scale(0.930 1)" font-size="32.2">4</text>
<text transform="translate(960.5 1319.5) scale(0.930 1)" font-size="32.2">0</text>
<text font-size="32.2"><tspan transform="scale(1 1)" x="942.8" y="1386.5" textLength="21.6" lengthAdjust="spacingAndGlyphs">−</tspan><tspan x="966.2" y="1386.5" textLength="16.7" lengthAdjust="spacingAndGlyphs">4</tspan></text>
<text font-size="32.2"><tspan transform="scale(1 1)" x="943.5" y="1452.3" textLength="21.6" lengthAdjust="spacingAndGlyphs">−</tspan><tspan x="966.1" y="1452.3" textLength="16.7" lengthAdjust="spacingAndGlyphs">8</tspan></text>
<text transform="translate(944.9 1393.1) rotate(-90) scale(0.927 1)" font-size="32.5">UMAP-2</text>
<text transform="translate(1072.2 1525.2) scale(0.913 1)" font-size="32.5">UMAP-1</text>
<text transform="translate(1017.0 1166.8) scale(0.873 1)" font-size="30.8" font-style="italic" fill="#1B1B8D">USP7</text>
<g fill="none" stroke-linecap="round" stroke-width="9.43" transform="translate(1299.12 439.26) scale(0.6358 0.6579)">
<use href="#e_Beta" stroke="#BEBEBE"/><use href="#e_Delta" stroke="#BEBEBE"/><use href="#e_Alpha" stroke="#BEBEBE"/><use href="#e_PP" stroke="#BEBEBE"/><use href="#e_EP" stroke="#BEBEBE"/>
<use href="#o2" stroke="#DA8080"/><use href="#o3" stroke="#FF0000"/>
</g>
<rect x="1369.3" y="1182.3" width="247.9" height="273.8" fill="none" stroke="#000" stroke-width="3.8"/>
<path d="M1435.3 1456.1L1435.3 1464.1M1504.7 1456.1L1504.7 1464.1M1573.9 1456.1L1573.9 1464.1" stroke="#000" stroke-width="3.5" fill="none"/>
<path d="M1361.7 1244.2L1369.3 1244.2M1361.7 1310.8L1369.3 1310.8M1361.7 1377.1L1369.3 1377.1M1361.7 1443.5L1369.3 1443.5" stroke="#000" stroke-width="3.5" fill="none"/>
<text font-size="32.2"><tspan transform="scale(1 1)" x="1414.1" y="1497.8" textLength="21.6" lengthAdjust="spacingAndGlyphs">−</tspan><tspan x="1436.9" y="1497.8" textLength="16.7" lengthAdjust="spacingAndGlyphs">5</tspan></text>
<text transform="translate(1494.8 1497.8) scale(0.930 1)" font-size="32.2">0</text>
<text transform="translate(1564.4 1497.8) scale(0.930 1)" font-size="32.2">5</text>
<text transform="translate(1327.1 1258.0) scale(0.930 1)" font-size="32.2">4</text>
<text transform="translate(1327.2 1324.3) scale(0.930 1)" font-size="32.2">0</text>
<text font-size="32.2"><tspan transform="scale(1 1)" x="1308.9" y="1391.0" textLength="21.6" lengthAdjust="spacingAndGlyphs">−</tspan><tspan x="1332.3" y="1391.0" textLength="16.7" lengthAdjust="spacingAndGlyphs">4</tspan></text>
<text font-size="32.2"><tspan transform="scale(1 1)" x="1310.3" y="1457.8" textLength="21.6" lengthAdjust="spacingAndGlyphs">−</tspan><tspan x="1332.9" y="1457.8" textLength="16.7" lengthAdjust="spacingAndGlyphs">8</tspan></text>
<text transform="translate(1309.2 1393.1) rotate(-90) scale(0.927 1)" font-size="32.5">UMAP-2</text>
<text transform="translate(1436.3 1524.6) scale(0.913 1)" font-size="32.5">UMAP-1</text>
<text transform="translate(1383.1 1168.9) scale(0.889 1)" font-size="30.8" font-style="italic" fill="#E2001A">NEUROG3</text>
<g fill="none" stroke-linecap="round" stroke-width="9.42" transform="translate(927.72 882.16) scale(0.6358 0.6595)">
<use href="#e_Beta" stroke="#BEBEBE"/><use href="#e_Delta" stroke="#BEBEBE"/><use href="#e_Alpha" stroke="#BEBEBE"/><use href="#e_PP" stroke="#BEBEBE"/><use href="#e_EP" stroke="#BEBEBE"/>
<use href="#o0" stroke="#7C7CDB"/><use href="#o2" stroke="#DA8080"/><use href="#o4" stroke="#A060D0"/><use href="#o1" stroke="#0000FF"/><use href="#o3" stroke="#FF0000"/>
</g>
<rect x="997.0" y="1626.0" width="247.6" height="276.0" fill="none" stroke="#000" stroke-width="3.8"/>
<path d="M1064.0 1902.0L1064.0 1910.0M1133.2 1902.0L1133.2 1910.0M1202.5 1902.0L1202.5 1910.0" stroke="#000" stroke-width="3.5" fill="none"/>
<path d="M989.4 1689.7L997.0 1689.7M989.4 1755.6L997.0 1755.6M989.4 1822.3L997.0 1822.3M989.4 1889.2L997.0 1889.2" stroke="#000" stroke-width="3.5" fill="none"/>
<text font-size="32.2"><tspan transform="scale(1 1)" x="1044.2" y="1939.6" textLength="21.6" lengthAdjust="spacingAndGlyphs">−</tspan><tspan x="1067.0" y="1939.6" textLength="16.7" lengthAdjust="spacingAndGlyphs">5</tspan></text>
<text transform="translate(1125.0 1939.6) scale(0.930 1)" font-size="32.2">0</text>
<text transform="translate(1194.7 1939.6) scale(0.930 1)" font-size="32.2">5</text>
<text transform="translate(957.9 1698.7) scale(0.930 1)" font-size="32.2">4</text>
<text transform="translate(957.9 1764.5) scale(0.930 1)" font-size="32.2">0</text>
<text font-size="32.2"><tspan transform="scale(1 1)" x="940.9" y="1831.7" textLength="21.6" lengthAdjust="spacingAndGlyphs">−</tspan><tspan x="964.3" y="1831.7" textLength="16.7" lengthAdjust="spacingAndGlyphs">4</tspan></text>
<text font-size="32.2"><tspan transform="scale(1 1)" x="942.3" y="1898.6" textLength="21.6" lengthAdjust="spacingAndGlyphs">−</tspan><tspan x="964.9" y="1898.6" textLength="16.7" lengthAdjust="spacingAndGlyphs">8</tspan></text>
<text transform="translate(941.2 1836.1) rotate(-90) scale(0.927 1)" font-size="32.5">UMAP-2</text>
<text transform="translate(1068.4 1966.7) scale(0.913 1)" font-size="32.5">UMAP-1</text>
<text transform="translate(1011.9 1615.2) scale(0.885 1)" font-size="30.8" font-style="italic" fill="#E2001A">NEUROG3</text>
<text transform="translate(1154.8 1615.2) scale(1.129 1)" font-size="30.8" font-style="italic">/</text>
<text transform="translate(1171.4 1615.2) scale(0.871 1)" font-size="30.8" font-style="italic" fill="#1B1B8D">USP7</text>
<text transform="translate(1377.3 1606.4) scale(0.925 1)" font-size="32.5">Color threshold</text>
<g shape-rendering="crispEdges"><rect x="1379.50" y="1875.01" width="25.15" height="27.49" fill="#BEBEBE"/><rect x="1403.85" y="1875.01" width="25.15" height="27.49" fill="#BBBBBF"/><rect x="1428.20" y="1875.01" width="25.15" height="27.49" fill="#B0B0C3"/><rect x="1452.55" y="1875.01" width="25.15" height="27.49" fill="#9E9EC9"/><rect x="1476.90" y="1875.01" width="25.15" height="27.49" fill="#8686D1"/><rect x="1501.25" y="1875.01" width="25.15" height="27.49" fill="#6B6BDA"/><rect x="1525.60" y="1875.01" width="25.15" height="27.49" fill="#5050E4"/><rect x="1549.95" y="1875.01" width="25.15" height="27.49" fill="#3434ED"/><rect x="1574.30" y="1875.01" width="25.15" height="27.49" fill="#1919F6"/><rect x="1598.65" y="1875.01" width="24.35" height="27.49" fill="#0000FF"/><rect x="1379.50" y="1847.52" width="25.15" height="28.29" fill="#BFBBBB"/><rect x="1403.85" y="1847.52" width="25.15" height="28.29" fill="#BCB8BC"/><rect x="1428.20" y="1847.52" width="25.15" height="28.29" fill="#B2AEC1"/><rect x="1452.55" y="1847.52" width="25.15" height="28.29" fill="#A29DC8"/><rect x="1476.90" y="1847.52" width="25.15" height="28.29" fill="#8B87D2"/><rect x="1501.25" y="1847.52" width="25.15" height="28.29" fill="#736EDD"/><rect x="1525.60" y="1847.52" width="25.15" height="28.29" fill="#5955E9"/><rect x="1549.95" y="1847.52" width="25.15" height="28.29" fill="#403CF5"/><rect x="1574.30" y="1847.52" width="25.15" height="28.29" fill="#2824FF"/><rect x="1598.65" y="1847.52" width="24.35" height="28.29" fill="#120DFF"/><rect x="1379.50" y="1820.03" width="25.15" height="28.29" fill="#C3B0B0"/><rect x="1403.85" y="1820.03" width="25.15" height="28.29" fill="#C1AEB2"/><rect x="1428.20" y="1820.03" width="25.15" height="28.29" fill="#B8A5B8"/><rect x="1452.55" y="1820.03" width="25.15" height="28.29" fill="#A996C1"/><rect x="1476.90" y="1820.03" width="25.15" height="28.29" fill="#9582CD"/><rect x="1501.25" y="1820.03" width="25.15" height="28.29" fill="#7E6BDA"/><rect x="1525.60" y="1820.03" width="25.15" height="28.29" fill="#6754E8"/><rect x="1549.95" y="1820.03" width="25.15" height="28.29" fill="#513EF7"/><rect x="1574.30" y="1820.03" width="25.15" height="28.29" fill="#3C29FF"/><rect x="1598.65" y="1820.03" width="24.35" height="28.29" fill="#2815FF"/><rect x="1379.50" y="1792.54" width="25.15" height="28.29" fill="#C99E9E"/><rect x="1403.85" y="1792.54" width="25.15" height="28.29" fill="#C89DA2"/><rect x="1428.20" y="1792.54" width="25.15" height="28.29" fill="#C196A9"/><rect x="1452.55" y="1792.54" width="25.15" height="28.29" fill="#B489B4"/><rect x="1476.90" y="1792.54" width="25.15" height="28.29" fill="#A277C2"/><rect x="1501.25" y="1792.54" width="25.15" height="28.29" fill="#8E63D1"/><rect x="1525.60" y="1792.54" width="25.15" height="28.29" fill="#794EE2"/><rect x="1549.95" y="1792.54" width="25.15" height="28.29" fill="#653BF4"/><rect x="1574.30" y="1792.54" width="25.15" height="28.29" fill="#5328FF"/><rect x="1598.65" y="1792.54" width="24.35" height="28.29" fill="#4217FF"/><rect x="1379.50" y="1765.05" width="25.15" height="28.29" fill="#D18686"/><rect x="1403.85" y="1765.05" width="25.15" height="28.29" fill="#D2878B"/><rect x="1428.20" y="1765.05" width="25.15" height="28.29" fill="#CD8295"/><rect x="1452.55" y="1765.05" width="25.15" height="28.29" fill="#C277A2"/><rect x="1476.90" y="1765.05" width="25.15" height="28.29" fill="#B267B2"/><rect x="1501.25" y="1765.05" width="25.15" height="28.29" fill="#A056C5"/><rect x="1525.60" y="1765.05" width="25.15" height="28.29" fill="#8F44D8"/><rect x="1549.95" y="1765.05" width="25.15" height="28.29" fill="#7E33EC"/><rect x="1574.30" y="1765.05" width="25.15" height="28.29" fill="#6E23FF"/><rect x="1598.65" y="1765.05" width="24.35" height="28.29" fill="#6015FF"/><rect x="1379.50" y="1737.56" width="25.15" height="28.29" fill="#DA6B6B"/><rect x="1403.85" y="1737.56" width="25.15" height="28.29" fill="#DD6E73"/><rect x="1428.20" y="1737.56" width="25.15" height="28.29" fill="#DA6B7E"/><rect x="1452.55" y="1737.56" width="25.15" height="28.29" fill="#D1638E"/><rect x="1476.90" y="1737.56" width="25.15" height="28.29" fill="#C556A0"/><rect x="1501.25" y="1737.56" width="25.15" height="28.29" fill="#B647B6"/><rect x="1525.60" y="1737.56" width="25.15" height="28.29" fill="#A637CC"/><rect x="1549.95" y="1737.56" width="25.15" height="28.29" fill="#9829E2"/><rect x="1574.30" y="1737.56" width="25.15" height="28.29" fill="#8B1CF9"/><rect x="1598.65" y="1737.56" width="24.35" height="28.29" fill="#7F10FF"/><rect x="1379.50" y="1710.07" width="25.15" height="28.29" fill="#E45050"/><rect x="1403.85" y="1710.07" width="25.15" height="28.29" fill="#E95559"/><rect x="1428.20" y="1710.07" width="25.15" height="28.29" fill="#E85467"/><rect x="1452.55" y="1710.07" width="25.15" height="28.29" fill="#E24E79"/><rect x="1476.90" y="1710.07" width="25.15" height="28.29" fill="#D8448F"/><rect x="1501.25" y="1710.07" width="25.15" height="28.29" fill="#CC37A6"/><rect x="1525.60" y="1710.07" width="25.15" height="28.29" fill="#BF2BBF"/><rect x="1549.95" y="1710.07" width="25.15" height="28.29" fill="#B31FD8"/><rect x="1574.30" y="1710.07" width="25.15" height="28.29" fill="#A814F1"/><rect x="1598.65" y="1710.07" width="24.35" height="28.29" fill="#9F0BFF"/><rect x="1379.50" y="1682.58" width="25.15" height="28.29" fill="#ED3434"/><rect x="1403.85" y="1682.58" width="25.15" height="28.29" fill="#F53C40"/><rect x="1428.20" y="1682.58" width="25.15" height="28.29" fill="#F73E51"/><rect x="1452.55" y="1682.58" width="25.15" height="28.29" fill="#F43B65"/><rect x="1476.90" y="1682.58" width="25.15" height="28.29" fill="#EC337E"/><rect x="1501.25" y="1682.58" width="25.15" height="28.29" fill="#E22998"/><rect x="1525.60" y="1682.58" width="25.15" height="28.29" fill="#D81FB3"/><rect x="1549.95" y="1682.58" width="25.15" height="28.29" fill="#CF15CF"/><rect x="1574.30" y="1682.58" width="25.15" height="28.29" fill="#C60DEA"/><rect x="1598.65" y="1682.58" width="24.35" height="28.29" fill="#BF06FF"/><rect x="1379.50" y="1655.09" width="25.15" height="28.29" fill="#F61919"/><rect x="1403.85" y="1655.09" width="25.15" height="28.29" fill="#FF2428"/><rect x="1428.20" y="1655.09" width="25.15" height="28.29" fill="#FF293C"/><rect x="1452.55" y="1655.09" width="25.15" height="28.29" fill="#FF2853"/><rect x="1476.90" y="1655.09" width="25.15" height="28.29" fill="#FF236E"/><rect x="1501.25" y="1655.09" width="25.15" height="28.29" fill="#F91C8B"/><rect x="1525.60" y="1655.09" width="25.15" height="28.29" fill="#F114A8"/><rect x="1549.95" y="1655.09" width="25.15" height="28.29" fill="#EA0DC6"/><rect x="1574.30" y="1655.09" width="25.15" height="28.29" fill="#E407E4"/><rect x="1598.65" y="1655.09" width="24.35" height="28.29" fill="#DF02FF"/><rect x="1379.50" y="1627.60" width="25.15" height="28.29" fill="#FF0000"/><rect x="1403.85" y="1627.60" width="25.15" height="28.29" fill="#FF0D12"/><rect x="1428.20" y="1627.60" width="25.15" height="28.29" fill="#FF1528"/><rect x="1452.55" y="1627.60" width="25.15" height="28.29" fill="#FF1742"/><rect x="1476.90" y="1627.60" width="25.15" height="28.29" fill="#FF1560"/><rect x="1501.25" y="1627.60" width="25.15" height="28.29" fill="#FF107F"/><rect x="1525.60" y="1627.60" width="25.15" height="28.29" fill="#FF0B9F"/><rect x="1549.95" y="1627.60" width="25.15" height="28.29" fill="#FF06BF"/><rect x="1574.30" y="1627.60" width="25.15" height="28.29" fill="#FF02DF"/><rect x="1598.65" y="1627.60" width="24.35" height="28.29" fill="#FF00FF"/></g>
<path d="M1377.8 1626.0L1377.8 1904.8M1376.1 1903.0L1624.8 1903.0" stroke="#000" stroke-width="3.6" fill="none"/>
<path d="M1370.4 1641.9L1376.5 1641.9M1370.4 1711.0L1376.5 1711.0M1370.4 1779.1L1376.5 1779.1M1370.4 1848.3L1376.5 1848.3" stroke="#000" stroke-width="3" fill="none"/>
<path d="M1414.3 1903.0L1414.3 1909.7M1463.5 1903.0L1463.5 1909.7M1512.8 1903.0L1512.8 1909.7M1561.7 1903.0L1561.7 1909.7M1611.0 1903.0L1611.0 1909.7" stroke="#000" stroke-width="3" fill="none"/>
<text transform="translate(1318.6 1649.3) scale(0.950 1)" font-size="22.5">10.0</text>
<text transform="translate(1330.5 1718.2) scale(0.950 1)" font-size="22.5">7.5</text>
<text transform="translate(1330.4 1786.5) scale(0.950 1)" font-size="22.5">5.0</text>
<text transform="translate(1330.5 1855.9) scale(0.950 1)" font-size="22.5">2.5</text>
<text transform="translate(1408.9 1933.0) scale(0.950 1)" font-size="22.5">2</text>
<text transform="translate(1457.3 1933.0) scale(0.950 1)" font-size="22.5">4</text>
<text transform="translate(1506.1 1933.0) scale(0.950 1)" font-size="22.5">6</text>
<text transform="translate(1555.6 1933.0) scale(0.950 1)" font-size="22.5">8</text>
<text transform="translate(1598.8 1933.0) scale(0.950 1)" font-size="22.5">10</text>
<text transform="translate(1318.1 1827.4) rotate(-90) scale(0.877 1)" font-size="30.8" font-style="italic" fill="#D4002F">NEUROG3</text>
<text transform="translate(1470.5 1964.8) scale(0.871 1)" font-size="30.8" font-style="italic" fill="#1408F0">USP7</text>
<text transform="translate(34.1 2082.0) scale(1.006 1)" font-size="59" font-weight="bold">h</text>
<text transform="translate(319.0 2088.9) scale(0.883 1)" font-size="30.8" font-style="italic">NEUROG3</text>
<text transform="translate(461.6 2088.9) scale(0.977 1)" font-size="32.5">negative cells</text>
<rect x="250.3" y="2141.9" width="66.0" height="257.1" fill="#DBC168"/>
<rect x="323.0" y="2172.8" width="66.0" height="226.2" fill="#9AD168"/>
<rect x="396.1" y="2157.1" width="65.5" height="241.9" fill="#68D8BE"/>
<rect x="468.8" y="2229.0" width="65.5" height="170.0" fill="#68D1F1"/>
<rect x="541.5" y="2255.5" width="65.5" height="143.5" fill="#CBB8FC"/>
<rect x="614.2" y="2212.9" width="65.5" height="186.1" fill="#FC9FE6"/>
<rect x="224.2" y="2107.2" width="477.1" height="292.8" fill="none" stroke="#333333" stroke-width="3.7"/>
<path d="M214.7 2179.6L224.2 2179.6M214.7 2234.6L224.2 2234.6M214.7 2289.4L224.2 2289.4M214.7 2344.5L224.2 2344.5M214.7 2400.0L224.2 2400.0" stroke="#333333" stroke-width="3.3" fill="none"/>
<text transform="translate(170.7 2185.0) scale(0.930 1)" font-size="32.2" fill="#4D4D4D">20</text>
<text transform="translate(171.7 2240.0) scale(0.930 1)" font-size="32.2" fill="#4D4D4D">15</text>
<text transform="translate(171.8 2294.8) scale(0.930 1)" font-size="32.2" fill="#4D4D4D">10</text>
<text transform="translate(178.3 2349.9) scale(0.930 1)" font-size="32.2" fill="#4D4D4D">5</text>
<text transform="translate(178.5 2405.4) scale(0.930 1)" font-size="32.2" fill="#4D4D4D">0</text>
<text transform="translate(272.3 2435.6) scale(0.930 1)" font-size="32.2">10</text>
<text transform="translate(337.4 2435.6) scale(0.930 1)" font-size="32.2">12</text>
<text transform="translate(415.8 2435.6) scale(0.930 1)" font-size="32.2">14</text>
<text transform="translate(485.1 2435.6) scale(0.930 1)" font-size="32.2">16</text>
<text transform="translate(559.1 2435.6) scale(0.930 1)" font-size="32.2">18</text>
<text transform="translate(623.8 2435.6) scale(0.930 1)" font-size="32.2">19</text>
<text transform="translate(147.3 2375.4) rotate(-90) scale(0.902 1)" font-size="32.5" xml:space="preserve"><tspan>% </tspan><tspan font-style="italic">USP7</tspan><tspan>+ cells</tspan></text>
<text transform="translate(334.6 2479.3) scale(0.973 1)" font-size="32.5">Gestational week</text>
<text transform="translate(898.6 2077.4) scale(1.174 1)" font-size="59" font-weight="bold">i</text>
<text transform="translate(1122.7 2088.4) scale(0.886 1)" font-size="30.8" font-style="italic">NEUROG3</text>
<text transform="translate(1264.5 2088.4) scale(0.984 1)" font-size="32.5">positive cells</text>
<rect x="1038.7" y="2341.0" width="75.2" height="60.6" fill="#DBC168"/>
<rect x="1122.1" y="2258.3" width="75.2" height="143.3" fill="#9AD168"/>
<rect x="1205.8" y="2146.0" width="75.0" height="255.6" fill="#68D8BE"/>
<rect x="1289.0" y="2268.8" width="75.6" height="132.8" fill="#68D1F1"/>
<rect x="1372.5" y="2332.8" width="75.2" height="68.8" fill="#CBB8FC"/>
<rect x="1455.9" y="2356.0" width="75.2" height="45.6" fill="#FC9FE6"/>
<rect x="1025.4" y="2107.7" width="523.6" height="294.9" fill="none" stroke="#333333" stroke-width="3.7"/>
<path d="M1017.9 2187.1L1025.4 2187.1M1017.9 2258.5L1025.4 2258.5M1017.9 2330.0L1025.4 2330.0M1017.9 2401.5L1025.4 2401.5" stroke="#333333" stroke-width="3.3" fill="none"/>
<text transform="translate(969.7 2191.3) scale(0.930 1)" font-size="32.2" fill="#4D4D4D">30</text>
<text transform="translate(969.6 2262.7) scale(0.930 1)" font-size="32.2" fill="#4D4D4D">20</text>
<text transform="translate(970.4 2334.2) scale(0.930 1)" font-size="32.2" fill="#4D4D4D">10</text>
<text transform="translate(977.0 2405.7) scale(0.930 1)" font-size="32.2" fill="#4D4D4D">0</text>
<text transform="translate(1062.1 2440.2) scale(0.930 1)" font-size="32.2">10</text>
<text transform="translate(1147.1 2440.2) scale(0.930 1)" font-size="32.2">12</text>
<text transform="translate(1225.2 2440.2) scale(0.930 1)" font-size="32.2">14</text>
<text transform="translate(1308.0 2440.2) scale(0.930 1)" font-size="32.2">16</text>
<text transform="translate(1395.8 2440.2) scale(0.930 1)" font-size="32.2">18</text>
<text transform="translate(1474.5 2440.2) scale(0.930 1)" font-size="32.2">19</text>
<text transform="translate(944.8 2361.0) rotate(-90) scale(0.902 1)" font-size="32.5" xml:space="preserve"><tspan>% </tspan><tspan font-style="italic">USP7</tspan><tspan>+ cells</tspan></text>
<text transform="translate(1164.3 2482.8) scale(0.973 1)" font-size="32.5">Gestational week</text>
</svg>
</body></html>
